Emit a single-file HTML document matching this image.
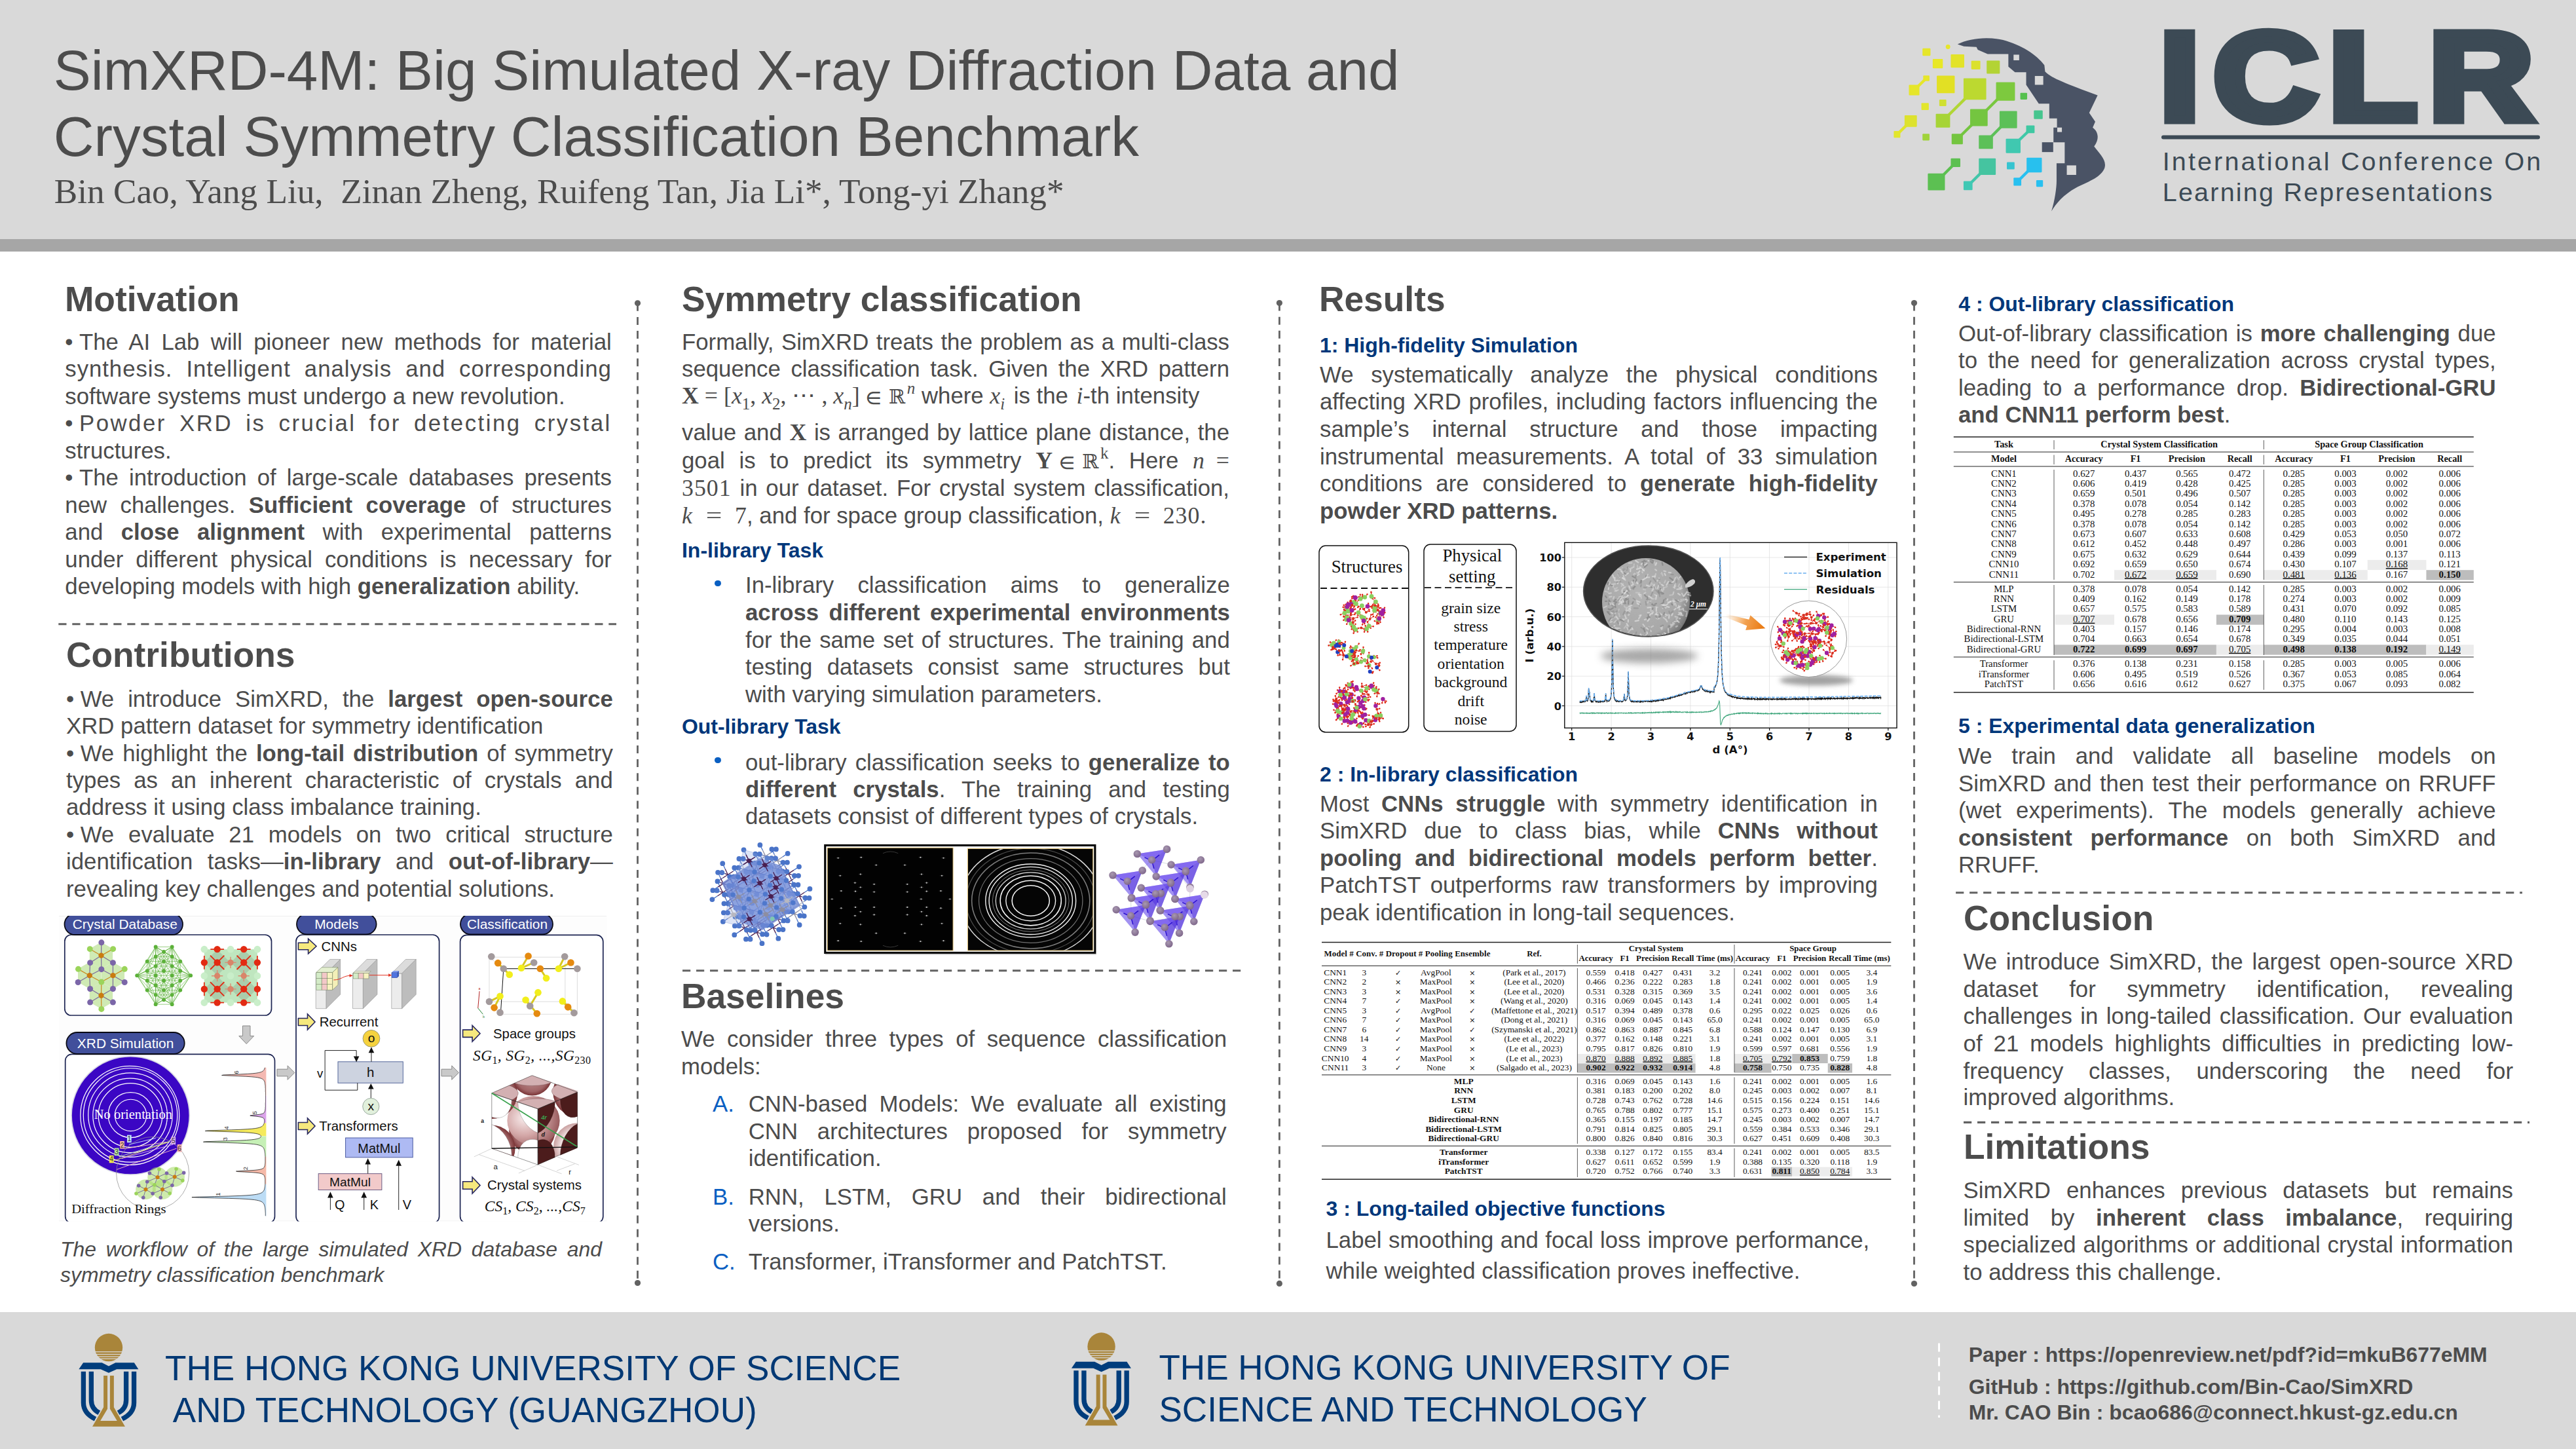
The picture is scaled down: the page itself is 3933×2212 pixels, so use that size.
<!DOCTYPE html><html><head><meta charset="utf-8"><title>SimXRD-4M poster</title><style>

html,body{margin:0;padding:0}
body{width:3933px;height:2212px;position:relative;overflow:hidden;background:#fff;font-family:"Liberation Sans",sans-serif}
.bg{position:absolute;left:0;width:3933px}
.t{position:absolute;white-space:nowrap;font-family:"Liberation Sans",sans-serif}
.j{white-space:normal;text-align:justify;text-align-last:justify}
.s{font-family:"Liberation Serif",serif}
.bu{display:inline-block;width:21.7px;letter-spacing:0}
.dot{position:absolute;width:9.6px;height:9.6px;border-radius:50%;background:#0a5fc2}
.m{font-family:"Liberation Serif","DejaVu Serif",serif;font-size:35.8px}
.ib{display:inline-block;white-space:nowrap}
.dj{font-family:"DejaVu Math TeX Gyre","DejaVu Sans",sans-serif;font-size:30.5px}
.msub{font-family:"Liberation Serif",serif;font-size:25px;position:relative;top:9px}
.msup{font-family:"Liberation Serif",serif;font-size:25px;position:relative;top:-15px;font-style:italic}
svg{position:absolute;left:0;top:0}
svg text{white-space:pre}
.sym{font-family:"DejaVu Sans",sans-serif;font-size:11px}

</style></head><body>
<div class="bg" style="top:0;height:365px;background:#d9d9d9"></div>
<div class="bg" style="top:365px;height:19px;background:#a6a6a6"></div>
<div class="bg" style="top:2003px;height:209px;background:#d9d9d9"></div>
<svg width="3933" height="2212" viewBox="0 0 3933 2212">
<line x1="973.5" y1="462.8" x2="973.5" y2="1958.5" stroke="#626262" stroke-width="2.8" stroke-dasharray="12 9.1"/>
<circle cx="973.5" cy="462.8" r="4.6" fill="#626262"/><circle cx="973.5" cy="1958.5" r="4.6" fill="#626262"/>
<line x1="1953.4" y1="462.6" x2="1953.4" y2="1959.4" stroke="#626262" stroke-width="2.8" stroke-dasharray="12 9.1"/>
<circle cx="1953.4" cy="462.6" r="4.6" fill="#626262"/><circle cx="1953.4" cy="1959.4" r="4.6" fill="#626262"/>
<line x1="2922.5" y1="462.6" x2="2922.5" y2="1959.5" stroke="#626262" stroke-width="2.8" stroke-dasharray="12 9.1"/>
<circle cx="2922.5" cy="462.6" r="4.6" fill="#626262"/><circle cx="2922.5" cy="1959.5" r="4.6" fill="#626262"/>
<line x1="89.3" y1="952.7" x2="941.0" y2="952.7" stroke="#626262" stroke-width="3.1" stroke-dasharray="12.2 8.8"/>
<line x1="1042.0" y1="1481.8" x2="1898.0" y2="1481.8" stroke="#626262" stroke-width="3.1" stroke-dasharray="12.2 8.8"/>
<line x1="2986.1" y1="1362.7" x2="3851.0" y2="1362.7" stroke="#626262" stroke-width="3.1" stroke-dasharray="12.2 8.8"/>
<line x1="2998.0" y1="1713.4" x2="3862.0" y2="1713.4" stroke="#626262" stroke-width="3.1" stroke-dasharray="12.2 8.8"/>
<line x1="2960.5" y1="2050.6" x2="2960.5" y2="2164" stroke="#fff" stroke-width="3" stroke-dasharray="13 9"/>
<g font-family="Liberation Serif, serif" font-size="13.4" fill="#111">
<rect x="2408.4" y="1608.9" width="180.2" height="14.2" fill="#ececec"/>
<rect x="2648.0" y="1608.9" width="88.3" height="14.2" fill="#ececec"/>
<rect x="2736.3" y="1608.9" width="54.4" height="14.2" fill="#bdbdbd"/>
<rect x="2408.4" y="1623.4" width="180.2" height="14.2" fill="#bdbdbd"/>
<rect x="2648.0" y="1623.4" width="56.5" height="14.2" fill="#bdbdbd"/>
<rect x="2790.7" y="1623.4" width="37.3" height="14.2" fill="#bdbdbd"/>
<rect x="2704.5" y="1781.6" width="31.8" height="14.2" fill="#bdbdbd"/>
<rect x="2736.3" y="1781.6" width="91.7" height="14.2" fill="#ececec"/>
<line x1="2018.0" y1="1438.5" x2="2887.3" y2="1438.5" stroke="#222" stroke-width="1.6"/>
<line x1="2018.0" y1="1474.4" x2="2887.3" y2="1474.4" stroke="#222" stroke-width="1.0"/>
<line x1="2018.0" y1="1640.9" x2="2887.3" y2="1640.9" stroke="#222" stroke-width="1.0"/>
<line x1="2018.0" y1="1749.4" x2="2887.3" y2="1749.4" stroke="#222" stroke-width="1.0"/>
<line x1="2018.0" y1="1800.2" x2="2887.3" y2="1800.2" stroke="#222" stroke-width="1.6"/>
<line x1="2408.4" y1="1442.0" x2="2408.4" y2="1471.0" stroke="#333" stroke-width="0.8"/>
<line x1="2648.0" y1="1442.0" x2="2648.0" y2="1471.0" stroke="#333" stroke-width="0.8"/>
<line x1="2408.4" y1="1478.0" x2="2408.4" y2="1637.0" stroke="#333" stroke-width="0.8"/>
<line x1="2648.0" y1="1478.0" x2="2648.0" y2="1637.0" stroke="#333" stroke-width="0.8"/>
<line x1="2408.4" y1="1644.5" x2="2408.4" y2="1746.0" stroke="#333" stroke-width="0.8"/>
<line x1="2648.0" y1="1644.5" x2="2648.0" y2="1746.0" stroke="#333" stroke-width="0.8"/>
<line x1="2408.4" y1="1753.0" x2="2408.4" y2="1797.0" stroke="#333" stroke-width="0.8"/>
<line x1="2648.0" y1="1753.0" x2="2648.0" y2="1797.0" stroke="#333" stroke-width="0.8"/>
<g font-weight="bold" font-size="12.9">
<text x="2021.5" y="1460.0" textLength="254" lengthAdjust="spacing" xml:space="preserve">Model # Conv. # Dropout # Pooling Ensemble</text>
<text x="2342.4" y="1460.0" text-anchor="middle">Ref.</text>
<text x="2528.4" y="1451.8" text-anchor="middle">Crystal System</text>
<text x="2768.0" y="1451.8" text-anchor="middle">Space Group</text>
<text x="2436.6" y="1467.0" text-anchor="middle">Accuracy</text>
<text x="2480.6" y="1467.0" text-anchor="middle">F1</text>
<text x="2523.4" y="1467.0" text-anchor="middle">Precision</text>
<text x="2569.2" y="1467.0" text-anchor="middle">Recall</text>
<text x="2618.1" y="1467.0" text-anchor="middle">Time (ms)</text>
<text x="2676.0" y="1467.0" text-anchor="middle">Accuracy</text>
<text x="2720.3" y="1467.0" text-anchor="middle">F1</text>
<text x="2763.0" y="1467.0" text-anchor="middle">Precision</text>
<text x="2809.2" y="1467.0" text-anchor="middle">Recall</text>
<text x="2857.8" y="1467.0" text-anchor="middle">Time (ms)</text>
</g>
<text x="2038.7" y="1488.5" text-anchor="middle">CNN1</text>
<text x="2082.8" y="1488.5" text-anchor="middle">3</text>
<text x="2134.5" y="1488.5" text-anchor="middle" class="sym">✓</text>
<text x="2192.4" y="1488.5" text-anchor="middle">AvgPool</text>
<text x="2247.9" y="1488.5" text-anchor="middle" class="sym">×</text>
<text x="2342.4" y="1488.5" text-anchor="middle">(Park et al., 2017)</text>
<text x="2436.6" y="1488.5" text-anchor="middle">0.559</text>
<text x="2480.6" y="1488.5" text-anchor="middle">0.418</text>
<text x="2523.4" y="1488.5" text-anchor="middle">0.427</text>
<text x="2569.2" y="1488.5" text-anchor="middle">0.431</text>
<text x="2618.1" y="1488.5" text-anchor="middle">3.2</text>
<text x="2676.0" y="1488.5" text-anchor="middle">0.241</text>
<text x="2720.3" y="1488.5" text-anchor="middle">0.002</text>
<text x="2763.0" y="1488.5" text-anchor="middle">0.001</text>
<text x="2809.2" y="1488.5" text-anchor="middle">0.005</text>
<text x="2857.8" y="1488.5" text-anchor="middle">3.4</text>
<text x="2038.7" y="1503.0" text-anchor="middle">CNN2</text>
<text x="2082.8" y="1503.0" text-anchor="middle">2</text>
<text x="2134.5" y="1503.0" text-anchor="middle" class="sym">×</text>
<text x="2192.4" y="1503.0" text-anchor="middle">MaxPool</text>
<text x="2247.9" y="1503.0" text-anchor="middle" class="sym">×</text>
<text x="2342.4" y="1503.0" text-anchor="middle">(Lee et al., 2020)</text>
<text x="2436.6" y="1503.0" text-anchor="middle">0.466</text>
<text x="2480.6" y="1503.0" text-anchor="middle">0.236</text>
<text x="2523.4" y="1503.0" text-anchor="middle">0.222</text>
<text x="2569.2" y="1503.0" text-anchor="middle">0.283</text>
<text x="2618.1" y="1503.0" text-anchor="middle">1.8</text>
<text x="2676.0" y="1503.0" text-anchor="middle">0.241</text>
<text x="2720.3" y="1503.0" text-anchor="middle">0.002</text>
<text x="2763.0" y="1503.0" text-anchor="middle">0.001</text>
<text x="2809.2" y="1503.0" text-anchor="middle">0.005</text>
<text x="2857.8" y="1503.0" text-anchor="middle">1.9</text>
<text x="2038.7" y="1517.6" text-anchor="middle">CNN3</text>
<text x="2082.8" y="1517.6" text-anchor="middle">3</text>
<text x="2134.5" y="1517.6" text-anchor="middle" class="sym">×</text>
<text x="2192.4" y="1517.6" text-anchor="middle">MaxPool</text>
<text x="2247.9" y="1517.6" text-anchor="middle" class="sym">×</text>
<text x="2342.4" y="1517.6" text-anchor="middle">(Lee et al., 2020)</text>
<text x="2436.6" y="1517.6" text-anchor="middle">0.531</text>
<text x="2480.6" y="1517.6" text-anchor="middle">0.328</text>
<text x="2523.4" y="1517.6" text-anchor="middle">0.315</text>
<text x="2569.2" y="1517.6" text-anchor="middle">0.369</text>
<text x="2618.1" y="1517.6" text-anchor="middle">3.5</text>
<text x="2676.0" y="1517.6" text-anchor="middle">0.241</text>
<text x="2720.3" y="1517.6" text-anchor="middle">0.002</text>
<text x="2763.0" y="1517.6" text-anchor="middle">0.001</text>
<text x="2809.2" y="1517.6" text-anchor="middle">0.005</text>
<text x="2857.8" y="1517.6" text-anchor="middle">3.6</text>
<text x="2038.7" y="1532.2" text-anchor="middle">CNN4</text>
<text x="2082.8" y="1532.2" text-anchor="middle">7</text>
<text x="2134.5" y="1532.2" text-anchor="middle" class="sym">✓</text>
<text x="2192.4" y="1532.2" text-anchor="middle">MaxPool</text>
<text x="2247.9" y="1532.2" text-anchor="middle" class="sym">×</text>
<text x="2342.4" y="1532.2" text-anchor="middle">(Wang et al., 2020)</text>
<text x="2436.6" y="1532.2" text-anchor="middle">0.316</text>
<text x="2480.6" y="1532.2" text-anchor="middle">0.069</text>
<text x="2523.4" y="1532.2" text-anchor="middle">0.045</text>
<text x="2569.2" y="1532.2" text-anchor="middle">0.143</text>
<text x="2618.1" y="1532.2" text-anchor="middle">1.4</text>
<text x="2676.0" y="1532.2" text-anchor="middle">0.241</text>
<text x="2720.3" y="1532.2" text-anchor="middle">0.002</text>
<text x="2763.0" y="1532.2" text-anchor="middle">0.001</text>
<text x="2809.2" y="1532.2" text-anchor="middle">0.005</text>
<text x="2857.8" y="1532.2" text-anchor="middle">1.4</text>
<text x="2038.7" y="1546.7" text-anchor="middle">CNN5</text>
<text x="2082.8" y="1546.7" text-anchor="middle">3</text>
<text x="2134.5" y="1546.7" text-anchor="middle" class="sym">✓</text>
<text x="2192.4" y="1546.7" text-anchor="middle">AvgPool</text>
<text x="2247.9" y="1546.7" text-anchor="middle" class="sym">✓</text>
<text x="2342.4" y="1546.7" text-anchor="middle">(Maffettone et al., 2021)</text>
<text x="2436.6" y="1546.7" text-anchor="middle">0.517</text>
<text x="2480.6" y="1546.7" text-anchor="middle">0.394</text>
<text x="2523.4" y="1546.7" text-anchor="middle">0.489</text>
<text x="2569.2" y="1546.7" text-anchor="middle">0.378</text>
<text x="2618.1" y="1546.7" text-anchor="middle">0.6</text>
<text x="2676.0" y="1546.7" text-anchor="middle">0.295</text>
<text x="2720.3" y="1546.7" text-anchor="middle">0.022</text>
<text x="2763.0" y="1546.7" text-anchor="middle">0.025</text>
<text x="2809.2" y="1546.7" text-anchor="middle">0.026</text>
<text x="2857.8" y="1546.7" text-anchor="middle">0.6</text>
<text x="2038.7" y="1561.2" text-anchor="middle">CNN6</text>
<text x="2082.8" y="1561.2" text-anchor="middle">7</text>
<text x="2134.5" y="1561.2" text-anchor="middle" class="sym">✓</text>
<text x="2192.4" y="1561.2" text-anchor="middle">MaxPool</text>
<text x="2247.9" y="1561.2" text-anchor="middle" class="sym">×</text>
<text x="2342.4" y="1561.2" text-anchor="middle">(Dong et al., 2021)</text>
<text x="2436.6" y="1561.2" text-anchor="middle">0.316</text>
<text x="2480.6" y="1561.2" text-anchor="middle">0.069</text>
<text x="2523.4" y="1561.2" text-anchor="middle">0.045</text>
<text x="2569.2" y="1561.2" text-anchor="middle">0.143</text>
<text x="2618.1" y="1561.2" text-anchor="middle">65.0</text>
<text x="2676.0" y="1561.2" text-anchor="middle">0.241</text>
<text x="2720.3" y="1561.2" text-anchor="middle">0.002</text>
<text x="2763.0" y="1561.2" text-anchor="middle">0.001</text>
<text x="2809.2" y="1561.2" text-anchor="middle">0.005</text>
<text x="2857.8" y="1561.2" text-anchor="middle">65.0</text>
<text x="2038.7" y="1575.8" text-anchor="middle">CNN7</text>
<text x="2082.8" y="1575.8" text-anchor="middle">6</text>
<text x="2134.5" y="1575.8" text-anchor="middle" class="sym">✓</text>
<text x="2192.4" y="1575.8" text-anchor="middle">MaxPool</text>
<text x="2247.9" y="1575.8" text-anchor="middle" class="sym">✓</text>
<text x="2342.4" y="1575.8" text-anchor="middle">(Szymanski et al., 2021)</text>
<text x="2436.6" y="1575.8" text-anchor="middle">0.862</text>
<text x="2480.6" y="1575.8" text-anchor="middle">0.863</text>
<text x="2523.4" y="1575.8" text-anchor="middle">0.887</text>
<text x="2569.2" y="1575.8" text-anchor="middle">0.845</text>
<text x="2618.1" y="1575.8" text-anchor="middle">6.8</text>
<text x="2676.0" y="1575.8" text-anchor="middle">0.588</text>
<text x="2720.3" y="1575.8" text-anchor="middle">0.124</text>
<text x="2763.0" y="1575.8" text-anchor="middle">0.147</text>
<text x="2809.2" y="1575.8" text-anchor="middle">0.130</text>
<text x="2857.8" y="1575.8" text-anchor="middle">6.9</text>
<text x="2038.7" y="1590.3" text-anchor="middle">CNN8</text>
<text x="2082.8" y="1590.3" text-anchor="middle">14</text>
<text x="2134.5" y="1590.3" text-anchor="middle" class="sym">✓</text>
<text x="2192.4" y="1590.3" text-anchor="middle">MaxPool</text>
<text x="2247.9" y="1590.3" text-anchor="middle" class="sym">×</text>
<text x="2342.4" y="1590.3" text-anchor="middle">(Lee et al., 2022)</text>
<text x="2436.6" y="1590.3" text-anchor="middle">0.377</text>
<text x="2480.6" y="1590.3" text-anchor="middle">0.162</text>
<text x="2523.4" y="1590.3" text-anchor="middle">0.148</text>
<text x="2569.2" y="1590.3" text-anchor="middle">0.221</text>
<text x="2618.1" y="1590.3" text-anchor="middle">3.1</text>
<text x="2676.0" y="1590.3" text-anchor="middle">0.241</text>
<text x="2720.3" y="1590.3" text-anchor="middle">0.002</text>
<text x="2763.0" y="1590.3" text-anchor="middle">0.001</text>
<text x="2809.2" y="1590.3" text-anchor="middle">0.005</text>
<text x="2857.8" y="1590.3" text-anchor="middle">3.1</text>
<text x="2038.7" y="1604.9" text-anchor="middle">CNN9</text>
<text x="2082.8" y="1604.9" text-anchor="middle">3</text>
<text x="2134.5" y="1604.9" text-anchor="middle" class="sym">✓</text>
<text x="2192.4" y="1604.9" text-anchor="middle">MaxPool</text>
<text x="2247.9" y="1604.9" text-anchor="middle" class="sym">×</text>
<text x="2342.4" y="1604.9" text-anchor="middle">(Le et al., 2023)</text>
<text x="2436.6" y="1604.9" text-anchor="middle">0.795</text>
<text x="2480.6" y="1604.9" text-anchor="middle">0.817</text>
<text x="2523.4" y="1604.9" text-anchor="middle">0.826</text>
<text x="2569.2" y="1604.9" text-anchor="middle">0.810</text>
<text x="2618.1" y="1604.9" text-anchor="middle">1.9</text>
<text x="2676.0" y="1604.9" text-anchor="middle">0.599</text>
<text x="2720.3" y="1604.9" text-anchor="middle">0.597</text>
<text x="2763.0" y="1604.9" text-anchor="middle">0.681</text>
<text x="2809.2" y="1604.9" text-anchor="middle">0.556</text>
<text x="2857.8" y="1604.9" text-anchor="middle">1.9</text>
<text x="2038.7" y="1619.5" text-anchor="middle">CNN10</text>
<text x="2082.8" y="1619.5" text-anchor="middle">4</text>
<text x="2134.5" y="1619.5" text-anchor="middle" class="sym">✓</text>
<text x="2192.4" y="1619.5" text-anchor="middle">MaxPool</text>
<text x="2247.9" y="1619.5" text-anchor="middle" class="sym">×</text>
<text x="2342.4" y="1619.5" text-anchor="middle">(Le et al., 2023)</text>
<text x="2436.6" y="1619.5" text-anchor="middle" text-decoration="underline">0.870</text>
<text x="2480.6" y="1619.5" text-anchor="middle" text-decoration="underline">0.888</text>
<text x="2523.4" y="1619.5" text-anchor="middle" text-decoration="underline">0.892</text>
<text x="2569.2" y="1619.5" text-anchor="middle" text-decoration="underline">0.885</text>
<text x="2618.1" y="1619.5" text-anchor="middle">1.8</text>
<text x="2676.0" y="1619.5" text-anchor="middle" text-decoration="underline">0.705</text>
<text x="2720.3" y="1619.5" text-anchor="middle" text-decoration="underline">0.792</text>
<text x="2763.0" y="1619.5" text-anchor="middle" font-weight="bold">0.853</text>
<text x="2809.2" y="1619.5" text-anchor="middle">0.759</text>
<text x="2857.8" y="1619.5" text-anchor="middle">1.8</text>
<text x="2038.7" y="1634.0" text-anchor="middle">CNN11</text>
<text x="2082.8" y="1634.0" text-anchor="middle">3</text>
<text x="2134.5" y="1634.0" text-anchor="middle" class="sym">✓</text>
<text x="2192.4" y="1634.0" text-anchor="middle">None</text>
<text x="2247.9" y="1634.0" text-anchor="middle" class="sym">×</text>
<text x="2342.4" y="1634.0" text-anchor="middle">(Salgado et al., 2023)</text>
<text x="2436.6" y="1634.0" text-anchor="middle" font-weight="bold">0.902</text>
<text x="2480.6" y="1634.0" text-anchor="middle" font-weight="bold">0.922</text>
<text x="2523.4" y="1634.0" text-anchor="middle" font-weight="bold">0.932</text>
<text x="2569.2" y="1634.0" text-anchor="middle" font-weight="bold">0.914</text>
<text x="2618.1" y="1634.0" text-anchor="middle">4.8</text>
<text x="2676.0" y="1634.0" text-anchor="middle" font-weight="bold">0.758</text>
<text x="2720.3" y="1634.0" text-anchor="middle">0.750</text>
<text x="2763.0" y="1634.0" text-anchor="middle">0.735</text>
<text x="2809.2" y="1634.0" text-anchor="middle" font-weight="bold">0.828</text>
<text x="2857.8" y="1634.0" text-anchor="middle">4.8</text>
<text x="2234.7" y="1654.7" text-anchor="middle" font-weight="bold">MLP</text>
<text x="2436.6" y="1654.7" text-anchor="middle">0.316</text>
<text x="2480.6" y="1654.7" text-anchor="middle">0.069</text>
<text x="2523.4" y="1654.7" text-anchor="middle">0.045</text>
<text x="2569.2" y="1654.7" text-anchor="middle">0.143</text>
<text x="2618.1" y="1654.7" text-anchor="middle">1.6</text>
<text x="2676.0" y="1654.7" text-anchor="middle">0.241</text>
<text x="2720.3" y="1654.7" text-anchor="middle">0.002</text>
<text x="2763.0" y="1654.7" text-anchor="middle">0.001</text>
<text x="2809.2" y="1654.7" text-anchor="middle">0.005</text>
<text x="2857.8" y="1654.7" text-anchor="middle">1.6</text>
<text x="2234.7" y="1669.3" text-anchor="middle" font-weight="bold">RNN</text>
<text x="2436.6" y="1669.3" text-anchor="middle">0.381</text>
<text x="2480.6" y="1669.3" text-anchor="middle">0.183</text>
<text x="2523.4" y="1669.3" text-anchor="middle">0.200</text>
<text x="2569.2" y="1669.3" text-anchor="middle">0.202</text>
<text x="2618.1" y="1669.3" text-anchor="middle">8.0</text>
<text x="2676.0" y="1669.3" text-anchor="middle">0.245</text>
<text x="2720.3" y="1669.3" text-anchor="middle">0.003</text>
<text x="2763.0" y="1669.3" text-anchor="middle">0.002</text>
<text x="2809.2" y="1669.3" text-anchor="middle">0.007</text>
<text x="2857.8" y="1669.3" text-anchor="middle">8.1</text>
<text x="2234.7" y="1683.9" text-anchor="middle" font-weight="bold">LSTM</text>
<text x="2436.6" y="1683.9" text-anchor="middle">0.728</text>
<text x="2480.6" y="1683.9" text-anchor="middle">0.743</text>
<text x="2523.4" y="1683.9" text-anchor="middle">0.762</text>
<text x="2569.2" y="1683.9" text-anchor="middle">0.728</text>
<text x="2618.1" y="1683.9" text-anchor="middle">14.6</text>
<text x="2676.0" y="1683.9" text-anchor="middle">0.515</text>
<text x="2720.3" y="1683.9" text-anchor="middle">0.156</text>
<text x="2763.0" y="1683.9" text-anchor="middle">0.224</text>
<text x="2809.2" y="1683.9" text-anchor="middle">0.151</text>
<text x="2857.8" y="1683.9" text-anchor="middle">14.6</text>
<text x="2234.7" y="1698.5" text-anchor="middle" font-weight="bold">GRU</text>
<text x="2436.6" y="1698.5" text-anchor="middle">0.765</text>
<text x="2480.6" y="1698.5" text-anchor="middle">0.788</text>
<text x="2523.4" y="1698.5" text-anchor="middle">0.802</text>
<text x="2569.2" y="1698.5" text-anchor="middle">0.777</text>
<text x="2618.1" y="1698.5" text-anchor="middle">15.1</text>
<text x="2676.0" y="1698.5" text-anchor="middle">0.575</text>
<text x="2720.3" y="1698.5" text-anchor="middle">0.273</text>
<text x="2763.0" y="1698.5" text-anchor="middle">0.400</text>
<text x="2809.2" y="1698.5" text-anchor="middle">0.251</text>
<text x="2857.8" y="1698.5" text-anchor="middle">15.1</text>
<text x="2234.7" y="1713.0" text-anchor="middle" font-weight="bold">Bidirectional-RNN</text>
<text x="2436.6" y="1713.0" text-anchor="middle">0.365</text>
<text x="2480.6" y="1713.0" text-anchor="middle">0.155</text>
<text x="2523.4" y="1713.0" text-anchor="middle">0.197</text>
<text x="2569.2" y="1713.0" text-anchor="middle">0.185</text>
<text x="2618.1" y="1713.0" text-anchor="middle">14.7</text>
<text x="2676.0" y="1713.0" text-anchor="middle">0.245</text>
<text x="2720.3" y="1713.0" text-anchor="middle">0.003</text>
<text x="2763.0" y="1713.0" text-anchor="middle">0.002</text>
<text x="2809.2" y="1713.0" text-anchor="middle">0.007</text>
<text x="2857.8" y="1713.0" text-anchor="middle">14.7</text>
<text x="2234.7" y="1727.6" text-anchor="middle" font-weight="bold">Bidirectional-LSTM</text>
<text x="2436.6" y="1727.6" text-anchor="middle">0.791</text>
<text x="2480.6" y="1727.6" text-anchor="middle">0.814</text>
<text x="2523.4" y="1727.6" text-anchor="middle">0.825</text>
<text x="2569.2" y="1727.6" text-anchor="middle">0.805</text>
<text x="2618.1" y="1727.6" text-anchor="middle">29.1</text>
<text x="2676.0" y="1727.6" text-anchor="middle">0.559</text>
<text x="2720.3" y="1727.6" text-anchor="middle">0.384</text>
<text x="2763.0" y="1727.6" text-anchor="middle">0.533</text>
<text x="2809.2" y="1727.6" text-anchor="middle">0.346</text>
<text x="2857.8" y="1727.6" text-anchor="middle">29.1</text>
<text x="2234.7" y="1742.2" text-anchor="middle" font-weight="bold">Bidirectional-GRU</text>
<text x="2436.6" y="1742.2" text-anchor="middle">0.800</text>
<text x="2480.6" y="1742.2" text-anchor="middle">0.826</text>
<text x="2523.4" y="1742.2" text-anchor="middle">0.840</text>
<text x="2569.2" y="1742.2" text-anchor="middle">0.816</text>
<text x="2618.1" y="1742.2" text-anchor="middle">30.3</text>
<text x="2676.0" y="1742.2" text-anchor="middle">0.627</text>
<text x="2720.3" y="1742.2" text-anchor="middle">0.451</text>
<text x="2763.0" y="1742.2" text-anchor="middle">0.609</text>
<text x="2809.2" y="1742.2" text-anchor="middle">0.408</text>
<text x="2857.8" y="1742.2" text-anchor="middle">30.3</text>
<text x="2234.7" y="1763.2" text-anchor="middle" font-weight="bold">Transformer</text>
<text x="2436.6" y="1763.2" text-anchor="middle">0.338</text>
<text x="2480.6" y="1763.2" text-anchor="middle">0.127</text>
<text x="2523.4" y="1763.2" text-anchor="middle">0.172</text>
<text x="2569.2" y="1763.2" text-anchor="middle">0.155</text>
<text x="2618.1" y="1763.2" text-anchor="middle">83.4</text>
<text x="2676.0" y="1763.2" text-anchor="middle">0.241</text>
<text x="2720.3" y="1763.2" text-anchor="middle">0.002</text>
<text x="2763.0" y="1763.2" text-anchor="middle">0.001</text>
<text x="2809.2" y="1763.2" text-anchor="middle">0.005</text>
<text x="2857.8" y="1763.2" text-anchor="middle">83.5</text>
<text x="2234.7" y="1778.1" text-anchor="middle" font-weight="bold">iTransformer</text>
<text x="2436.6" y="1778.1" text-anchor="middle">0.627</text>
<text x="2480.6" y="1778.1" text-anchor="middle">0.611</text>
<text x="2523.4" y="1778.1" text-anchor="middle">0.652</text>
<text x="2569.2" y="1778.1" text-anchor="middle">0.599</text>
<text x="2618.1" y="1778.1" text-anchor="middle">1.9</text>
<text x="2676.0" y="1778.1" text-anchor="middle">0.388</text>
<text x="2720.3" y="1778.1" text-anchor="middle">0.135</text>
<text x="2763.0" y="1778.1" text-anchor="middle">0.320</text>
<text x="2809.2" y="1778.1" text-anchor="middle">0.118</text>
<text x="2857.8" y="1778.1" text-anchor="middle">1.9</text>
<text x="2234.7" y="1792.2" text-anchor="middle" font-weight="bold">PatchTST</text>
<text x="2436.6" y="1792.2" text-anchor="middle">0.720</text>
<text x="2480.6" y="1792.2" text-anchor="middle">0.752</text>
<text x="2523.4" y="1792.2" text-anchor="middle">0.766</text>
<text x="2569.2" y="1792.2" text-anchor="middle">0.740</text>
<text x="2618.1" y="1792.2" text-anchor="middle">3.3</text>
<text x="2676.0" y="1792.2" text-anchor="middle">0.631</text>
<text x="2720.3" y="1792.2" text-anchor="middle" font-weight="bold">0.811</text>
<text x="2763.0" y="1792.2" text-anchor="middle" text-decoration="underline">0.850</text>
<text x="2809.2" y="1792.2" text-anchor="middle" text-decoration="underline">0.784</text>
<text x="2857.8" y="1792.2" text-anchor="middle">3.3</text>
</g>
<g font-family="Liberation Serif, serif" font-size="14.8" fill="#111">
<rect x="3614.7" y="854.8" width="89.7" height="15.3" fill="#ececec"/>
<rect x="3228.0" y="870.2" width="155.9" height="15.3" fill="#ececec"/>
<rect x="3456.3" y="870.2" width="158.4" height="15.3" fill="#ececec"/>
<rect x="3704.4" y="870.2" width="72.4" height="15.3" fill="#bdbdbd"/>
<rect x="3137.7" y="938.4" width="90.3" height="15.3" fill="#ececec"/>
<rect x="3383.9" y="938.4" width="72.4" height="15.3" fill="#bdbdbd"/>
<rect x="3136.0" y="984.3" width="247.9" height="15.3" fill="#bdbdbd"/>
<rect x="3383.9" y="984.3" width="72.4" height="15.3" fill="#ececec"/>
<rect x="3456.3" y="984.3" width="248.1" height="15.3" fill="#bdbdbd"/>
<rect x="3704.4" y="984.3" width="72.4" height="15.3" fill="#ececec"/>
<line x1="2982.8" y1="667.0" x2="3776.8" y2="667.0" stroke="#222" stroke-width="1.6"/>
<line x1="2982.8" y1="690.0" x2="3776.8" y2="690.0" stroke="#222" stroke-width="1.0"/>
<line x1="2982.8" y1="712.0" x2="3776.8" y2="712.0" stroke="#222" stroke-width="1.0"/>
<line x1="2982.8" y1="888.7" x2="3776.8" y2="888.7" stroke="#222" stroke-width="1.0"/>
<line x1="2982.8" y1="1003.0" x2="3776.8" y2="1003.0" stroke="#222" stroke-width="1.0"/>
<line x1="2982.8" y1="1057.0" x2="3776.8" y2="1057.0" stroke="#222" stroke-width="1.6"/>
<line x1="3136.0" y1="672.0" x2="3136.0" y2="686.0" stroke="#333" stroke-width="0.8"/>
<line x1="3456.3" y1="672.0" x2="3456.3" y2="686.0" stroke="#333" stroke-width="0.8"/>
<line x1="3136.0" y1="694.5" x2="3136.0" y2="709.0" stroke="#333" stroke-width="0.8"/>
<line x1="3456.3" y1="694.5" x2="3456.3" y2="709.0" stroke="#333" stroke-width="0.8"/>
<line x1="3136.0" y1="717.0" x2="3136.0" y2="885.0" stroke="#333" stroke-width="0.8"/>
<line x1="3456.3" y1="717.0" x2="3456.3" y2="885.0" stroke="#333" stroke-width="0.8"/>
<line x1="3136.0" y1="893.0" x2="3136.0" y2="1000.0" stroke="#333" stroke-width="0.8"/>
<line x1="3456.3" y1="893.0" x2="3456.3" y2="1000.0" stroke="#333" stroke-width="0.8"/>
<line x1="3136.0" y1="1008.0" x2="3136.0" y2="1053.0" stroke="#333" stroke-width="0.8"/>
<line x1="3456.3" y1="1008.0" x2="3456.3" y2="1053.0" stroke="#333" stroke-width="0.8"/>
<g font-weight="bold" font-size="14.3">
<text x="3059.4" y="682.6" text-anchor="middle">Task</text>
<text x="3296.7" y="682.6" text-anchor="middle">Crystal System Classification</text>
<text x="3617.1" y="682.6" text-anchor="middle">Space Group Classification</text>
<text x="3059.4" y="704.8" text-anchor="middle">Model</text>
<text x="3181.7" y="704.8" text-anchor="middle">Accuracy</text>
<text x="3260.6" y="704.8" text-anchor="middle">F1</text>
<text x="3338.9" y="704.8" text-anchor="middle">Precision</text>
<text x="3419.7" y="704.8" text-anchor="middle">Recall</text>
<text x="3502.2" y="704.8" text-anchor="middle">Accuracy</text>
<text x="3581.0" y="704.8" text-anchor="middle">F1</text>
<text x="3659.4" y="704.8" text-anchor="middle">Precision</text>
<text x="3740.2" y="704.8" text-anchor="middle">Recall</text>
</g>
<text x="3059.4" y="727.6" text-anchor="middle">CNN1</text>
<text x="3181.7" y="727.6" text-anchor="middle">0.627</text>
<text x="3260.6" y="727.6" text-anchor="middle">0.437</text>
<text x="3338.9" y="727.6" text-anchor="middle">0.565</text>
<text x="3419.7" y="727.6" text-anchor="middle">0.472</text>
<text x="3502.2" y="727.6" text-anchor="middle">0.285</text>
<text x="3581.0" y="727.6" text-anchor="middle">0.003</text>
<text x="3659.4" y="727.6" text-anchor="middle">0.002</text>
<text x="3740.2" y="727.6" text-anchor="middle">0.006</text>
<text x="3059.4" y="743.0" text-anchor="middle">CNN2</text>
<text x="3181.7" y="743.0" text-anchor="middle">0.606</text>
<text x="3260.6" y="743.0" text-anchor="middle">0.419</text>
<text x="3338.9" y="743.0" text-anchor="middle">0.428</text>
<text x="3419.7" y="743.0" text-anchor="middle">0.425</text>
<text x="3502.2" y="743.0" text-anchor="middle">0.285</text>
<text x="3581.0" y="743.0" text-anchor="middle">0.003</text>
<text x="3659.4" y="743.0" text-anchor="middle">0.002</text>
<text x="3740.2" y="743.0" text-anchor="middle">0.006</text>
<text x="3059.4" y="758.4" text-anchor="middle">CNN3</text>
<text x="3181.7" y="758.4" text-anchor="middle">0.659</text>
<text x="3260.6" y="758.4" text-anchor="middle">0.501</text>
<text x="3338.9" y="758.4" text-anchor="middle">0.496</text>
<text x="3419.7" y="758.4" text-anchor="middle">0.507</text>
<text x="3502.2" y="758.4" text-anchor="middle">0.285</text>
<text x="3581.0" y="758.4" text-anchor="middle">0.003</text>
<text x="3659.4" y="758.4" text-anchor="middle">0.002</text>
<text x="3740.2" y="758.4" text-anchor="middle">0.006</text>
<text x="3059.4" y="773.8" text-anchor="middle">CNN4</text>
<text x="3181.7" y="773.8" text-anchor="middle">0.378</text>
<text x="3260.6" y="773.8" text-anchor="middle">0.078</text>
<text x="3338.9" y="773.8" text-anchor="middle">0.054</text>
<text x="3419.7" y="773.8" text-anchor="middle">0.142</text>
<text x="3502.2" y="773.8" text-anchor="middle">0.285</text>
<text x="3581.0" y="773.8" text-anchor="middle">0.003</text>
<text x="3659.4" y="773.8" text-anchor="middle">0.002</text>
<text x="3740.2" y="773.8" text-anchor="middle">0.006</text>
<text x="3059.4" y="789.2" text-anchor="middle">CNN5</text>
<text x="3181.7" y="789.2" text-anchor="middle">0.495</text>
<text x="3260.6" y="789.2" text-anchor="middle">0.278</text>
<text x="3338.9" y="789.2" text-anchor="middle">0.285</text>
<text x="3419.7" y="789.2" text-anchor="middle">0.283</text>
<text x="3502.2" y="789.2" text-anchor="middle">0.285</text>
<text x="3581.0" y="789.2" text-anchor="middle">0.003</text>
<text x="3659.4" y="789.2" text-anchor="middle">0.002</text>
<text x="3740.2" y="789.2" text-anchor="middle">0.006</text>
<text x="3059.4" y="804.6" text-anchor="middle">CNN6</text>
<text x="3181.7" y="804.6" text-anchor="middle">0.378</text>
<text x="3260.6" y="804.6" text-anchor="middle">0.078</text>
<text x="3338.9" y="804.6" text-anchor="middle">0.054</text>
<text x="3419.7" y="804.6" text-anchor="middle">0.142</text>
<text x="3502.2" y="804.6" text-anchor="middle">0.285</text>
<text x="3581.0" y="804.6" text-anchor="middle">0.003</text>
<text x="3659.4" y="804.6" text-anchor="middle">0.002</text>
<text x="3740.2" y="804.6" text-anchor="middle">0.006</text>
<text x="3059.4" y="819.9" text-anchor="middle">CNN7</text>
<text x="3181.7" y="819.9" text-anchor="middle">0.673</text>
<text x="3260.6" y="819.9" text-anchor="middle">0.607</text>
<text x="3338.9" y="819.9" text-anchor="middle">0.633</text>
<text x="3419.7" y="819.9" text-anchor="middle">0.608</text>
<text x="3502.2" y="819.9" text-anchor="middle">0.429</text>
<text x="3581.0" y="819.9" text-anchor="middle">0.053</text>
<text x="3659.4" y="819.9" text-anchor="middle">0.050</text>
<text x="3740.2" y="819.9" text-anchor="middle">0.072</text>
<text x="3059.4" y="835.3" text-anchor="middle">CNN8</text>
<text x="3181.7" y="835.3" text-anchor="middle">0.612</text>
<text x="3260.6" y="835.3" text-anchor="middle">0.452</text>
<text x="3338.9" y="835.3" text-anchor="middle">0.448</text>
<text x="3419.7" y="835.3" text-anchor="middle">0.497</text>
<text x="3502.2" y="835.3" text-anchor="middle">0.286</text>
<text x="3581.0" y="835.3" text-anchor="middle">0.003</text>
<text x="3659.4" y="835.3" text-anchor="middle">0.001</text>
<text x="3740.2" y="835.3" text-anchor="middle">0.006</text>
<text x="3059.4" y="850.7" text-anchor="middle">CNN9</text>
<text x="3181.7" y="850.7" text-anchor="middle">0.675</text>
<text x="3260.6" y="850.7" text-anchor="middle">0.632</text>
<text x="3338.9" y="850.7" text-anchor="middle">0.629</text>
<text x="3419.7" y="850.7" text-anchor="middle">0.644</text>
<text x="3502.2" y="850.7" text-anchor="middle">0.439</text>
<text x="3581.0" y="850.7" text-anchor="middle">0.099</text>
<text x="3659.4" y="850.7" text-anchor="middle">0.137</text>
<text x="3740.2" y="850.7" text-anchor="middle">0.113</text>
<text x="3059.4" y="866.1" text-anchor="middle">CNN10</text>
<text x="3181.7" y="866.1" text-anchor="middle">0.692</text>
<text x="3260.6" y="866.1" text-anchor="middle">0.659</text>
<text x="3338.9" y="866.1" text-anchor="middle">0.650</text>
<text x="3419.7" y="866.1" text-anchor="middle">0.674</text>
<text x="3502.2" y="866.1" text-anchor="middle">0.430</text>
<text x="3581.0" y="866.1" text-anchor="middle">0.107</text>
<text x="3659.4" y="866.1" text-anchor="middle" text-decoration="underline">0.168</text>
<text x="3740.2" y="866.1" text-anchor="middle">0.121</text>
<text x="3059.4" y="881.5" text-anchor="middle">CNN11</text>
<text x="3181.7" y="881.5" text-anchor="middle">0.702</text>
<text x="3260.6" y="881.5" text-anchor="middle" text-decoration="underline">0.672</text>
<text x="3338.9" y="881.5" text-anchor="middle" text-decoration="underline">0.659</text>
<text x="3419.7" y="881.5" text-anchor="middle">0.690</text>
<text x="3502.2" y="881.5" text-anchor="middle" text-decoration="underline">0.481</text>
<text x="3581.0" y="881.5" text-anchor="middle" text-decoration="underline">0.136</text>
<text x="3659.4" y="881.5" text-anchor="middle">0.167</text>
<text x="3740.2" y="881.5" text-anchor="middle" font-weight="bold">0.150</text>
<text x="3059.4" y="903.7" text-anchor="middle">MLP</text>
<text x="3181.7" y="903.7" text-anchor="middle">0.378</text>
<text x="3260.6" y="903.7" text-anchor="middle">0.078</text>
<text x="3338.9" y="903.7" text-anchor="middle">0.054</text>
<text x="3419.7" y="903.7" text-anchor="middle">0.142</text>
<text x="3502.2" y="903.7" text-anchor="middle">0.285</text>
<text x="3581.0" y="903.7" text-anchor="middle">0.003</text>
<text x="3659.4" y="903.7" text-anchor="middle">0.002</text>
<text x="3740.2" y="903.7" text-anchor="middle">0.006</text>
<text x="3059.4" y="919.0" text-anchor="middle">RNN</text>
<text x="3181.7" y="919.0" text-anchor="middle">0.409</text>
<text x="3260.6" y="919.0" text-anchor="middle">0.162</text>
<text x="3338.9" y="919.0" text-anchor="middle">0.149</text>
<text x="3419.7" y="919.0" text-anchor="middle">0.178</text>
<text x="3502.2" y="919.0" text-anchor="middle">0.274</text>
<text x="3581.0" y="919.0" text-anchor="middle">0.003</text>
<text x="3659.4" y="919.0" text-anchor="middle">0.002</text>
<text x="3740.2" y="919.0" text-anchor="middle">0.009</text>
<text x="3059.4" y="934.3" text-anchor="middle">LSTM</text>
<text x="3181.7" y="934.3" text-anchor="middle">0.657</text>
<text x="3260.6" y="934.3" text-anchor="middle">0.575</text>
<text x="3338.9" y="934.3" text-anchor="middle">0.583</text>
<text x="3419.7" y="934.3" text-anchor="middle">0.589</text>
<text x="3502.2" y="934.3" text-anchor="middle">0.431</text>
<text x="3581.0" y="934.3" text-anchor="middle">0.070</text>
<text x="3659.4" y="934.3" text-anchor="middle">0.092</text>
<text x="3740.2" y="934.3" text-anchor="middle">0.085</text>
<text x="3059.4" y="949.7" text-anchor="middle">GRU</text>
<text x="3181.7" y="949.7" text-anchor="middle" text-decoration="underline">0.707</text>
<text x="3260.6" y="949.7" text-anchor="middle">0.678</text>
<text x="3338.9" y="949.7" text-anchor="middle">0.656</text>
<text x="3419.7" y="949.7" text-anchor="middle" font-weight="bold">0.709</text>
<text x="3502.2" y="949.7" text-anchor="middle">0.480</text>
<text x="3581.0" y="949.7" text-anchor="middle">0.110</text>
<text x="3659.4" y="949.7" text-anchor="middle">0.143</text>
<text x="3740.2" y="949.7" text-anchor="middle">0.125</text>
<text x="3059.4" y="965.0" text-anchor="middle">Bidirectional-RNN</text>
<text x="3181.7" y="965.0" text-anchor="middle">0.403</text>
<text x="3260.6" y="965.0" text-anchor="middle">0.157</text>
<text x="3338.9" y="965.0" text-anchor="middle">0.146</text>
<text x="3419.7" y="965.0" text-anchor="middle">0.174</text>
<text x="3502.2" y="965.0" text-anchor="middle">0.295</text>
<text x="3581.0" y="965.0" text-anchor="middle">0.004</text>
<text x="3659.4" y="965.0" text-anchor="middle">0.003</text>
<text x="3740.2" y="965.0" text-anchor="middle">0.008</text>
<text x="3059.4" y="980.3" text-anchor="middle">Bidirectional-LSTM</text>
<text x="3181.7" y="980.3" text-anchor="middle">0.704</text>
<text x="3260.6" y="980.3" text-anchor="middle">0.663</text>
<text x="3338.9" y="980.3" text-anchor="middle">0.654</text>
<text x="3419.7" y="980.3" text-anchor="middle">0.678</text>
<text x="3502.2" y="980.3" text-anchor="middle">0.349</text>
<text x="3581.0" y="980.3" text-anchor="middle">0.035</text>
<text x="3659.4" y="980.3" text-anchor="middle">0.044</text>
<text x="3740.2" y="980.3" text-anchor="middle">0.051</text>
<text x="3059.4" y="995.6" text-anchor="middle">Bidirectional-GRU</text>
<text x="3181.7" y="995.6" text-anchor="middle" font-weight="bold">0.722</text>
<text x="3260.6" y="995.6" text-anchor="middle" font-weight="bold">0.699</text>
<text x="3338.9" y="995.6" text-anchor="middle" font-weight="bold">0.697</text>
<text x="3419.7" y="995.6" text-anchor="middle" text-decoration="underline">0.705</text>
<text x="3502.2" y="995.6" text-anchor="middle" font-weight="bold">0.498</text>
<text x="3581.0" y="995.6" text-anchor="middle" font-weight="bold">0.138</text>
<text x="3659.4" y="995.6" text-anchor="middle" font-weight="bold">0.192</text>
<text x="3740.2" y="995.6" text-anchor="middle" text-decoration="underline">0.149</text>
<text x="3059.4" y="1018.4" text-anchor="middle">Transformer</text>
<text x="3181.7" y="1018.4" text-anchor="middle">0.376</text>
<text x="3260.6" y="1018.4" text-anchor="middle">0.138</text>
<text x="3338.9" y="1018.4" text-anchor="middle">0.231</text>
<text x="3419.7" y="1018.4" text-anchor="middle">0.158</text>
<text x="3502.2" y="1018.4" text-anchor="middle">0.285</text>
<text x="3581.0" y="1018.4" text-anchor="middle">0.003</text>
<text x="3659.4" y="1018.4" text-anchor="middle">0.005</text>
<text x="3740.2" y="1018.4" text-anchor="middle">0.006</text>
<text x="3059.4" y="1034.0" text-anchor="middle">iTransformer</text>
<text x="3181.7" y="1034.0" text-anchor="middle">0.606</text>
<text x="3260.6" y="1034.0" text-anchor="middle">0.495</text>
<text x="3338.9" y="1034.0" text-anchor="middle">0.519</text>
<text x="3419.7" y="1034.0" text-anchor="middle">0.526</text>
<text x="3502.2" y="1034.0" text-anchor="middle">0.367</text>
<text x="3581.0" y="1034.0" text-anchor="middle">0.053</text>
<text x="3659.4" y="1034.0" text-anchor="middle">0.085</text>
<text x="3740.2" y="1034.0" text-anchor="middle">0.064</text>
<text x="3059.4" y="1049.4" text-anchor="middle">PatchTST</text>
<text x="3181.7" y="1049.4" text-anchor="middle">0.656</text>
<text x="3260.6" y="1049.4" text-anchor="middle">0.616</text>
<text x="3338.9" y="1049.4" text-anchor="middle">0.612</text>
<text x="3419.7" y="1049.4" text-anchor="middle">0.627</text>
<text x="3502.2" y="1049.4" text-anchor="middle">0.375</text>
<text x="3581.0" y="1049.4" text-anchor="middle">0.067</text>
<text x="3659.4" y="1049.4" text-anchor="middle">0.093</text>
<text x="3740.2" y="1049.4" text-anchor="middle">0.082</text>
</g>
<g transform="translate(2870 30) scale(0.21390)">
<line x1="332" y1="418" x2="246" y2="503" stroke="#e6e62a" stroke-width="20"/>
<line x1="679" y1="495" x2="451" y2="721" stroke="#b0d634" stroke-width="20"/>
<line x1="897" y1="512" x2="708" y2="700" stroke="#78c73f" stroke-width="20"/>
<line x1="708" y1="700" x2="553" y2="853" stroke="#74c540" stroke-width="20"/>
<line x1="221" y1="724" x2="124" y2="819" stroke="#e0e42c" stroke-width="20"/>
<line x1="917" y1="713" x2="757" y2="874" stroke="#5cc058" stroke-width="20"/>
<line x1="1075" y1="783" x2="952" y2="901" stroke="#40c8a8" stroke-width="20"/>
<line x1="541" y1="1021" x2="404" y2="1158" stroke="#5cc050" stroke-width="20"/>
<line x1="767" y1="1049" x2="630" y2="1185" stroke="#42c6aa" stroke-width="20"/>
<line x1="1102" y1="1037" x2="982" y2="1157" stroke="#28c0f0" stroke-width="20"/>
<rect x="305" y="205" width="57" height="53" rx="5" fill="#e6e62a"/>
<rect x="378" y="280" width="72" height="67" rx="5" fill="#e8e826"/>
<rect x="507" y="248" width="96" height="94" rx="5" fill="#e3e328"/>
<rect x="653" y="293" width="65" height="62" rx="5" fill="#dbe12c"/>
<rect x="763" y="292" width="94" height="94" rx="5" fill="#b3d334"/>
<rect x="310" y="398" width="45" height="40" rx="5" fill="#e6e62a"/>
<rect x="208" y="465" width="75" height="75" rx="5" fill="#e6e62a"/>
<rect x="407" y="400" width="128" height="125" rx="5" fill="#e2e024"/>
<rect x="598" y="418" width="162" height="154" rx="5" fill="#bcd930"/>
<rect x="400" y="672" width="102" height="98" rx="5" fill="#a6d436"/>
<rect x="830" y="447" width="135" height="131" rx="5" fill="#7dc93e"/>
<rect x="645" y="638" width="125" height="122" rx="5" fill="#74c540"/>
<rect x="513" y="815" width="80" height="75" rx="5" fill="#74c540"/>
<rect x="1003" y="522" width="49" height="48" rx="5" fill="#56c04e"/>
<rect x="425" y="570" width="50" height="47" rx="5" fill="#cfe030"/>
<rect x="297" y="595" width="53" height="50" rx="5" fill="#e2e62c"/>
<rect x="177" y="682" width="88" height="83" rx="5" fill="#dde22e"/>
<rect x="100" y="795" width="47" height="48" rx="5" fill="#e2e62c"/>
<rect x="855" y="652" width="125" height="123" rx="5" fill="#5cc058"/>
<rect x="707" y="825" width="101" height="97" rx="5" fill="#5cc058"/>
<rect x="1100" y="648" width="63" height="62" rx="5" fill="#46c58e"/>
<rect x="1045" y="755" width="60" height="55" rx="5" fill="#3fc8a2"/>
<rect x="900" y="850" width="105" height="102" rx="5" fill="#40c8b0"/>
<rect x="305" y="815" width="50" height="47" rx="5" fill="#a0d33a"/>
<rect x="507" y="990" width="68" height="62" rx="5" fill="#5cc050"/>
<rect x="343" y="1098" width="122" height="120" rx="5" fill="#5cc052"/>
<rect x="707" y="990" width="121" height="118" rx="5" fill="#45c4a0"/>
<rect x="598" y="1152" width="64" height="65" rx="5" fill="#40c8b4"/>
<rect x="907" y="1017" width="55" height="51" rx="5" fill="#36c4d0"/>
<rect x="1048" y="985" width="109" height="105" rx="5" fill="#28c0ee"/>
<rect x="955" y="1128" width="55" height="57" rx="5" fill="#28c0f0"/>
<rect x="1117" y="1145" width="48" height="48" rx="5" fill="#28c0f0"/>
<circle cx="487" cy="194" r="16" fill="#e6e62a"/>
<path d="M555 175 C640 135 760 118 880 145 C1010 180 1120 250 1175 325 L1180 370 C1230 420 1330 455 1555 540 L1495 665 L1538 728 L1520 770 C1560 800 1570 850 1530 905 C1570 960 1630 1010 1600 1070 C1570 1130 1480 1160 1400 1200 C1310 1250 1260 1310 1225 1368 C1250 1290 1262 1200 1262 1150 L1262 1025 L1320 1025 L1320 875 L1240 875 L1240 770 L1265 770 L1265 705 L1210 705 L1210 600 L1135 600 L1045 465 L1045 375 L965 375 L918 335 L918 245 L770 245 L700 215 L690 195 L600 190 Z" fill="#4a5365"/>
<rect x="955" y="250" width="40" height="40" fill="#d9d9d9"/>
<rect x="1107" y="402" width="60" height="63" fill="#d9d9d9"/>
<rect x="1267" y="770" width="33" height="32" fill="#d9d9d9"/>
<rect x="1335" y="1040" width="67" height="68" fill="#d9d9d9"/>
<rect x="1158" y="875" width="80" height="70" fill="#4a5365"/>
</g>
<text transform="translate(0 182.70) scale(1.2350 1.0635)" x="2669.55 2736.07 2878.57 3002.50" y="0" font-family="Liberation Sans, sans-serif" font-weight="bold" font-size="180" fill="#3c4a55" stroke="#3c4a55" stroke-width="14.0" stroke-linejoin="miter" vector-effect="non-scaling-stroke">ICLR</text>
<line x1="3303" y1="209.5" x2="3875" y2="209.5" stroke="#3c4a55" stroke-width="6" stroke-linecap="round"/>
<text x="3301.7" y="260" font-family="Liberation Sans, sans-serif" font-size="39.5" fill="#3c4a55" textLength="577.6" lengthAdjust="spacing">International Conference On</text>
<text x="3301.7" y="307" font-family="Liberation Sans, sans-serif" font-size="39.5" fill="#3c4a55" textLength="503.5" lengthAdjust="spacing">Learning Representations</text>
<g transform="translate(60.0 2000.0) scale(0.27174)">
<circle cx="390" cy="210" r="78" fill="#a9853a"/>
<rect x="300" y="232" width="180" height="4.5" fill="#d9d9d9"/>
<rect x="300" y="246" width="180" height="4.5" fill="#d9d9d9"/>
<rect x="300" y="259" width="180" height="4.5" fill="#d9d9d9"/>
<rect x="300" y="271" width="180" height="4.5" fill="#d9d9d9"/>
<path d="M222 332 L247 295 L352 295 L390 315 L428 295 L533 295 L557 332 L435 332 L390 352 L345 332 Z" fill="#003d7c"/>
<path d="M248 345 L248 520 Q248 580 315 612" fill="none" stroke="#003d7c" stroke-width="27"/>
<path d="M292 345 L292 505 Q292 555 338 578" fill="none" stroke="#003d7c" stroke-width="27"/>
<path d="M532 345 L532 520 Q532 580 465 612" fill="none" stroke="#003d7c" stroke-width="27"/>
<path d="M488 345 L488 505 Q488 555 442 578" fill="none" stroke="#003d7c" stroke-width="27"/>
<path d="M358 365 L422 365 L422 545 L487 657 L293 657 L358 545 Z" fill="#a9853a" stroke="#d9d9d9" stroke-width="6"/>
<path d="M383 365 L397 365 L397 555 L437 622 L343 622 L383 555 Z" fill="#d9d9d9"/>
</g>
<g transform="translate(1575.6 1998.5) scale(0.27174)">
<circle cx="390" cy="210" r="78" fill="#a9853a"/>
<rect x="300" y="232" width="180" height="4.5" fill="#d9d9d9"/>
<rect x="300" y="246" width="180" height="4.5" fill="#d9d9d9"/>
<rect x="300" y="259" width="180" height="4.5" fill="#d9d9d9"/>
<rect x="300" y="271" width="180" height="4.5" fill="#d9d9d9"/>
<path d="M222 332 L247 295 L352 295 L390 315 L428 295 L533 295 L557 332 L435 332 L390 352 L345 332 Z" fill="#003d7c"/>
<path d="M248 345 L248 520 Q248 580 315 612" fill="none" stroke="#003d7c" stroke-width="27"/>
<path d="M292 345 L292 505 Q292 555 338 578" fill="none" stroke="#003d7c" stroke-width="27"/>
<path d="M532 345 L532 520 Q532 580 465 612" fill="none" stroke="#003d7c" stroke-width="27"/>
<path d="M488 345 L488 505 Q488 555 442 578" fill="none" stroke="#003d7c" stroke-width="27"/>
<path d="M358 365 L422 365 L422 545 L487 657 L293 657 L358 545 Z" fill="#a9853a" stroke="#d9d9d9" stroke-width="6"/>
<path d="M383 365 L397 365 L397 555 L437 622 L343 622 L383 555 Z" fill="#d9d9d9"/>
</g>
<clipPath id="wfclip"><rect x="88" y="1398" width="842" height="466.5"/></clipPath>
<g clip-path="url(#wfclip)">
<rect x="90" y="1398" width="836.5" height="466.5" fill="#fdfdfd"/>
<line x1="90" y1="1398.5" x2="926" y2="1398.5" stroke="#eee" stroke-width="1"/><line x1="90" y1="1864" x2="926" y2="1864" stroke="#eee" stroke-width="1"/>
<rect x="98.8" y="1427.0" width="315.7" height="123.0" rx="10" fill="#fff" stroke="#1c2452" stroke-width="1.7"/>
<rect x="99.7" y="1609.3" width="319.8" height="257.7" rx="10" fill="#fff" stroke="#1c2452" stroke-width="1.7"/>
<rect x="452.0" y="1427.0" width="218.6" height="440.0" rx="10" fill="#fff" stroke="#1c2452" stroke-width="1.7"/>
<rect x="702.6" y="1427.4" width="218.2" height="439.6" rx="10" fill="#fff" stroke="#1c2452" stroke-width="1.7"/>
<rect x="98.5" y="1395.0" width="180.5" height="32.0" rx="16.0" fill="#414f9b" stroke="#0a0a14" stroke-width="1.8"/>
<text x="190.8" y="1418.2" font-family="Liberation Sans, sans-serif" font-size="20.9" fill="#fff" text-anchor="middle">Crystal Database</text>
<rect x="101.4" y="1576.0" width="180.3" height="33.0" rx="16.5" fill="#414f9b" stroke="#0a0a14" stroke-width="1.8"/>
<text x="191.6" y="1599.7" font-family="Liberation Sans, sans-serif" font-size="20.9" fill="#fff" text-anchor="middle">XRD Simulation</text>
<rect x="453.0" y="1395.0" width="121.6" height="31.4" rx="15.7" fill="#414f9b" stroke="#0a0a14" stroke-width="1.8"/>
<text x="513.8" y="1417.9" font-family="Liberation Sans, sans-serif" font-size="20.9" fill="#fff" text-anchor="middle">Models</text>
<rect x="703.0" y="1395.0" width="141.0" height="31.4" rx="15.7" fill="#414f9b" stroke="#0a0a14" stroke-width="1.8"/>
<text x="774.5" y="1417.9" font-family="Liberation Sans, sans-serif" font-size="20.9" fill="#fff" text-anchor="middle">Classification</text>
<path d="M423.0 1632.2 L439.1 1632.2 L439.1 1626.8 L449.8 1637.5 L439.1 1648.3 L439.1 1642.9 L423.0 1642.9 Z" fill="#c9c9c9" stroke="#8a8a8a" stroke-width="1"/>
<path d="M674.0 1632.2 L689.8 1632.2 L689.8 1626.8 L700.4 1637.5 L689.8 1648.3 L689.8 1642.9 L674.0 1642.9 Z" fill="#c9c9c9" stroke="#8a8a8a" stroke-width="1"/>
<path d="M370.5 1566 L382 1566 L382 1581.5 L387.7 1581.5 L376.2 1593.5 L364.8 1581.5 L370.5 1581.5 Z" fill="#c9c9c9" stroke="#8a8a8a" stroke-width="1"/>
<path d="M455.4 1439.2 L470.6 1439.2 L470.6 1433.0 L483.0 1444.5 L470.6 1456.0 L470.6 1449.8 L455.4 1449.8 Z" fill="#f6e97e" stroke="#26265e" stroke-width="1.6"/>
<path d="M455.4 1554.5 L469.5 1554.5 L469.5 1548.0 L481.0 1560.0 L469.5 1572.0 L469.5 1565.5 L455.4 1565.5 Z" fill="#f6e97e" stroke="#26265e" stroke-width="1.6"/>
<path d="M455.4 1713.5 L469.5 1713.5 L469.5 1707.0 L481.0 1719.0 L469.5 1731.0 L469.5 1724.5 L455.4 1724.5 Z" fill="#f6e97e" stroke="#26265e" stroke-width="1.6"/>
<path d="M706.6 1572.1 L721.1 1572.1 L721.1 1565.5 L733.0 1577.8 L721.1 1590.0 L721.1 1583.4 L706.6 1583.4 Z" fill="#f6e97e" stroke="#26265e" stroke-width="1.6"/>
<path d="M706.6 1803.8 L721.1 1803.8 L721.1 1797.0 L733.0 1809.5 L721.1 1822.0 L721.1 1815.2 L706.6 1815.2 Z" fill="#f6e97e" stroke="#26265e" stroke-width="1.6"/>
<text x="490.5" y="1452.0" font-family="Liberation Sans, sans-serif" font-size="20.4" fill="#111">CNNs</text>
<text x="487.8" y="1567.0" font-family="Liberation Sans, sans-serif" font-size="20.4" fill="#111">Recurrent</text>
<text x="487.2" y="1726.0" font-family="Liberation Sans, sans-serif" font-size="20.4" fill="#111">Transformers</text>
<text x="753.0" y="1585.4" font-family="Liberation Sans, sans-serif" font-size="20.4" fill="#111">Space groups</text>
<text x="744.0" y="1816.0" font-family="Liberation Sans, sans-serif" font-size="20.4" fill="#111">Crystal systems</text>
<text x="722" y="1618.5" font-family="Liberation Serif, DejaVu Serif, serif" font-style="italic" font-size="23.5" fill="#111" textLength="180" lengthAdjust="spacing">SG<tspan font-size="16" dy="5" font-style="normal">1</tspan><tspan dy="-5">, SG</tspan><tspan font-size="16" dy="5" font-style="normal">2</tspan><tspan dy="-5">, ...,SG</tspan><tspan font-size="16" dy="5" font-style="normal">230</tspan></text>
<text x="739.7" y="1848.6" font-family="Liberation Serif, DejaVu Serif, serif" font-style="italic" font-size="23.5" fill="#111" textLength="154" lengthAdjust="spacing">CS<tspan font-size="16" dy="5" font-style="normal">1</tspan><tspan dy="-5">, CS</tspan><tspan font-size="16" dy="5" font-style="normal">2</tspan><tspan dy="-5">, ...,CS</tspan><tspan font-size="16" dy="5" font-style="normal">7</tspan></text>
<g transform="translate(85 1390) scale(0.17250)">
<polygon points="505,457 403,516 300,457 300,339 403,280 505,338" fill="#9fd56a" fill-opacity="0.5"/>
<polygon points="402,634 300,693 197,634 197,516 300,457 402,516" fill="#9fd56a" fill-opacity="0.5"/>
<polygon points="609,634 507,693 404,634 404,516 507,457 609,516" fill="#9fd56a" fill-opacity="0.5"/>
<polygon points="505,811 403,870 300,811 300,693 403,634 505,693" fill="#9fd56a" fill-opacity="0.5"/>
<line x1="403" y1="398" x2="405" y2="283" stroke="#7a6a9a" stroke-width="7"/>
<line x1="403" y1="398" x2="305" y2="462" stroke="#7a6a9a" stroke-width="7"/>
<line x1="403" y1="398" x2="507" y2="462" stroke="#7a6a9a" stroke-width="7"/>
<line x1="403" y1="398" x2="405" y2="520" stroke="#7a6a9a" stroke-width="7"/>
<line x1="403" y1="398" x2="303" y2="340" stroke="#c98a20" stroke-width="7"/>
<line x1="403" y1="398" x2="508" y2="340" stroke="#c98a20" stroke-width="7"/>
<line x1="300" y1="575" x2="305" y2="462" stroke="#7a6a9a" stroke-width="7"/>
<line x1="300" y1="575" x2="405" y2="520" stroke="#7a6a9a" stroke-width="7"/>
<line x1="300" y1="575" x2="198" y2="635" stroke="#7a6a9a" stroke-width="7"/>
<line x1="300" y1="575" x2="305" y2="693" stroke="#7a6a9a" stroke-width="7"/>
<line x1="300" y1="575" x2="200" y2="518" stroke="#c98a20" stroke-width="7"/>
<line x1="300" y1="575" x2="405" y2="632" stroke="#c98a20" stroke-width="7"/>
<line x1="507" y1="575" x2="507" y2="462" stroke="#7a6a9a" stroke-width="7"/>
<line x1="507" y1="575" x2="405" y2="520" stroke="#7a6a9a" stroke-width="7"/>
<line x1="507" y1="575" x2="610" y2="635" stroke="#7a6a9a" stroke-width="7"/>
<line x1="507" y1="575" x2="507" y2="693" stroke="#7a6a9a" stroke-width="7"/>
<line x1="507" y1="575" x2="610" y2="518" stroke="#c98a20" stroke-width="7"/>
<line x1="507" y1="575" x2="405" y2="632" stroke="#c98a20" stroke-width="7"/>
<line x1="403" y1="752" x2="305" y2="693" stroke="#7a6a9a" stroke-width="7"/>
<line x1="403" y1="752" x2="507" y2="693" stroke="#7a6a9a" stroke-width="7"/>
<line x1="403" y1="752" x2="305" y2="812" stroke="#7a6a9a" stroke-width="7"/>
<line x1="403" y1="752" x2="507" y2="812" stroke="#7a6a9a" stroke-width="7"/>
<line x1="403" y1="752" x2="405" y2="632" stroke="#c98a20" stroke-width="7"/>
<line x1="403" y1="752" x2="405" y2="872" stroke="#c98a20" stroke-width="7"/>
<circle cx="405" cy="283" r="26" fill="#7b66a8"/>
<circle cx="305" cy="462" r="26" fill="#7b66a8"/>
<circle cx="507" cy="462" r="26" fill="#7b66a8"/>
<circle cx="405" cy="520" r="26" fill="#7b66a8"/>
<circle cx="198" cy="635" r="26" fill="#7b66a8"/>
<circle cx="610" cy="635" r="26" fill="#7b66a8"/>
<circle cx="305" cy="693" r="26" fill="#7b66a8"/>
<circle cx="507" cy="693" r="26" fill="#7b66a8"/>
<circle cx="305" cy="812" r="26" fill="#7b66a8"/>
<circle cx="507" cy="812" r="26" fill="#7b66a8"/>
<circle cx="303" cy="340" r="26" fill="#9bd45a"/>
<circle cx="508" cy="340" r="26" fill="#9bd45a"/>
<circle cx="200" cy="518" r="26" fill="#9bd45a"/>
<circle cx="610" cy="518" r="26" fill="#9bd45a"/>
<circle cx="405" cy="632" r="26" fill="#9bd45a"/>
<circle cx="405" cy="872" r="26" fill="#9bd45a"/>
<circle cx="403" cy="398" r="24" fill="#c97c10"/>
<circle cx="300" cy="575" r="24" fill="#c97c10"/>
<circle cx="507" cy="575" r="24" fill="#c97c10"/>
<circle cx="403" cy="752" r="24" fill="#c97c10"/>
<g stroke="#5cb13a" stroke-width="3.6" stroke-linecap="round">
<line x1="720" y1="575" x2="885" y2="322"/>
<line x1="885" y1="322" x2="1030" y2="322"/>
<line x1="1030" y1="322" x2="1195" y2="575"/>
<line x1="1195" y1="575" x2="1030" y2="830"/>
<line x1="1030" y1="830" x2="885" y2="830"/>
<line x1="885" y1="830" x2="720" y2="575"/>
<line x1="885" y1="322" x2="957" y2="365"/>
<line x1="885" y1="322" x2="885" y2="407"/>
<line x1="885" y1="322" x2="810" y2="450"/>
<line x1="885" y1="322" x2="957" y2="450"/>
<line x1="1030" y1="322" x2="957" y2="365"/>
<line x1="1030" y1="322" x2="1030" y2="407"/>
<line x1="1030" y1="322" x2="957" y2="450"/>
<line x1="1030" y1="322" x2="1103" y2="450"/>
<line x1="957" y1="365" x2="885" y2="407"/>
<line x1="957" y1="365" x2="1030" y2="407"/>
<line x1="957" y1="365" x2="957" y2="450"/>
<line x1="957" y1="365" x2="885" y2="492"/>
<line x1="957" y1="365" x2="1030" y2="492"/>
<line x1="885" y1="407" x2="1030" y2="407"/>
<line x1="885" y1="407" x2="810" y2="450"/>
<line x1="885" y1="407" x2="957" y2="450"/>
<line x1="885" y1="407" x2="885" y2="492"/>
<line x1="885" y1="407" x2="810" y2="535"/>
<line x1="885" y1="407" x2="957" y2="535"/>
<line x1="1030" y1="407" x2="957" y2="450"/>
<line x1="1030" y1="407" x2="1103" y2="450"/>
<line x1="1030" y1="407" x2="1030" y2="492"/>
<line x1="1030" y1="407" x2="957" y2="535"/>
<line x1="1030" y1="407" x2="1103" y2="535"/>
<line x1="810" y1="450" x2="957" y2="450"/>
<line x1="810" y1="450" x2="885" y2="492"/>
<line x1="810" y1="450" x2="810" y2="535"/>
<line x1="810" y1="450" x2="885" y2="575"/>
<line x1="957" y1="450" x2="1103" y2="450"/>
<line x1="957" y1="450" x2="885" y2="492"/>
<line x1="957" y1="450" x2="1030" y2="492"/>
<line x1="957" y1="450" x2="957" y2="535"/>
<line x1="957" y1="450" x2="885" y2="575"/>
<line x1="957" y1="450" x2="1030" y2="575"/>
<line x1="1103" y1="450" x2="1030" y2="492"/>
<line x1="1103" y1="450" x2="1103" y2="535"/>
<line x1="1103" y1="450" x2="1030" y2="575"/>
<line x1="885" y1="492" x2="1030" y2="492"/>
<line x1="885" y1="492" x2="810" y2="535"/>
<line x1="885" y1="492" x2="957" y2="535"/>
<line x1="885" y1="492" x2="885" y2="575"/>
<line x1="885" y1="492" x2="810" y2="620"/>
<line x1="885" y1="492" x2="957" y2="620"/>
<line x1="1030" y1="492" x2="957" y2="535"/>
<line x1="1030" y1="492" x2="1103" y2="535"/>
<line x1="1030" y1="492" x2="1030" y2="575"/>
<line x1="1030" y1="492" x2="957" y2="620"/>
<line x1="1030" y1="492" x2="1103" y2="620"/>
<line x1="810" y1="535" x2="957" y2="535"/>
<line x1="810" y1="535" x2="720" y2="575"/>
<line x1="810" y1="535" x2="885" y2="575"/>
<line x1="810" y1="535" x2="810" y2="620"/>
<line x1="810" y1="535" x2="885" y2="662"/>
<line x1="957" y1="535" x2="1103" y2="535"/>
<line x1="957" y1="535" x2="885" y2="575"/>
<line x1="957" y1="535" x2="1030" y2="575"/>
<line x1="957" y1="535" x2="957" y2="620"/>
<line x1="957" y1="535" x2="885" y2="662"/>
<line x1="957" y1="535" x2="1030" y2="662"/>
<line x1="1103" y1="535" x2="1030" y2="575"/>
<line x1="1103" y1="535" x2="1195" y2="575"/>
<line x1="1103" y1="535" x2="1103" y2="620"/>
<line x1="1103" y1="535" x2="1030" y2="662"/>
<line x1="720" y1="575" x2="810" y2="620"/>
<line x1="885" y1="575" x2="1030" y2="575"/>
<line x1="885" y1="575" x2="810" y2="620"/>
<line x1="885" y1="575" x2="957" y2="620"/>
<line x1="885" y1="575" x2="885" y2="662"/>
<line x1="885" y1="575" x2="810" y2="705"/>
<line x1="885" y1="575" x2="957" y2="705"/>
<line x1="1030" y1="575" x2="957" y2="620"/>
<line x1="1030" y1="575" x2="1103" y2="620"/>
<line x1="1030" y1="575" x2="1030" y2="662"/>
<line x1="1030" y1="575" x2="957" y2="705"/>
<line x1="1030" y1="575" x2="1103" y2="705"/>
<line x1="1195" y1="575" x2="1103" y2="620"/>
<line x1="810" y1="620" x2="957" y2="620"/>
<line x1="810" y1="620" x2="885" y2="662"/>
<line x1="810" y1="620" x2="810" y2="705"/>
<line x1="810" y1="620" x2="885" y2="747"/>
<line x1="957" y1="620" x2="1103" y2="620"/>
<line x1="957" y1="620" x2="885" y2="662"/>
<line x1="957" y1="620" x2="1030" y2="662"/>
<line x1="957" y1="620" x2="957" y2="705"/>
<line x1="957" y1="620" x2="885" y2="747"/>
<line x1="957" y1="620" x2="1030" y2="747"/>
<line x1="1103" y1="620" x2="1030" y2="662"/>
<line x1="1103" y1="620" x2="1103" y2="705"/>
<line x1="1103" y1="620" x2="1030" y2="747"/>
<line x1="885" y1="662" x2="1030" y2="662"/>
<line x1="885" y1="662" x2="810" y2="705"/>
<line x1="885" y1="662" x2="957" y2="705"/>
<line x1="885" y1="662" x2="885" y2="747"/>
<line x1="885" y1="662" x2="957" y2="790"/>
<line x1="1030" y1="662" x2="957" y2="705"/>
<line x1="1030" y1="662" x2="1103" y2="705"/>
<line x1="1030" y1="662" x2="1030" y2="747"/>
<line x1="1030" y1="662" x2="957" y2="790"/>
<line x1="810" y1="705" x2="957" y2="705"/>
<line x1="810" y1="705" x2="885" y2="747"/>
<line x1="810" y1="705" x2="885" y2="830"/>
<line x1="957" y1="705" x2="1103" y2="705"/>
<line x1="957" y1="705" x2="885" y2="747"/>
<line x1="957" y1="705" x2="1030" y2="747"/>
<line x1="957" y1="705" x2="957" y2="790"/>
<line x1="957" y1="705" x2="885" y2="830"/>
<line x1="957" y1="705" x2="1030" y2="830"/>
<line x1="1103" y1="705" x2="1030" y2="747"/>
<line x1="1103" y1="705" x2="1030" y2="830"/>
<line x1="885" y1="747" x2="1030" y2="747"/>
<line x1="885" y1="747" x2="957" y2="790"/>
<line x1="885" y1="747" x2="885" y2="830"/>
<line x1="1030" y1="747" x2="957" y2="790"/>
<line x1="1030" y1="747" x2="1030" y2="830"/>
<line x1="957" y1="790" x2="885" y2="830"/>
<line x1="957" y1="790" x2="1030" y2="830"/>
<line x1="720" y1="575" x2="885" y2="407"/>
<line x1="720" y1="575" x2="810" y2="450"/>
<line x1="720" y1="575" x2="957" y2="450"/>
<line x1="720" y1="575" x2="885" y2="492"/>
<line x1="720" y1="575" x2="957" y2="535"/>
<line x1="720" y1="575" x2="885" y2="575"/>
<line x1="720" y1="575" x2="957" y2="620"/>
<line x1="720" y1="575" x2="885" y2="662"/>
<line x1="720" y1="575" x2="810" y2="705"/>
<line x1="720" y1="575" x2="957" y2="705"/>
<line x1="720" y1="575" x2="885" y2="747"/>
<line x1="1195" y1="575" x2="1030" y2="407"/>
<line x1="1195" y1="575" x2="957" y2="450"/>
<line x1="1195" y1="575" x2="1103" y2="450"/>
<line x1="1195" y1="575" x2="1030" y2="492"/>
<line x1="1195" y1="575" x2="957" y2="535"/>
<line x1="1195" y1="575" x2="1030" y2="575"/>
<line x1="1195" y1="575" x2="957" y2="620"/>
<line x1="1195" y1="575" x2="1030" y2="662"/>
<line x1="1195" y1="575" x2="957" y2="705"/>
<line x1="1195" y1="575" x2="1103" y2="705"/>
<line x1="1195" y1="575" x2="1030" y2="747"/>
<line x1="885" y1="322" x2="1030" y2="407"/>
<line x1="885" y1="322" x2="1103" y2="450"/>
<line x1="885" y1="322" x2="885" y2="492"/>
<line x1="885" y1="322" x2="1030" y2="492"/>
<line x1="885" y1="322" x2="810" y2="535"/>
<line x1="885" y1="322" x2="957" y2="535"/>
<line x1="885" y1="322" x2="885" y2="575"/>
<line x1="1030" y1="322" x2="885" y2="407"/>
<line x1="1030" y1="322" x2="810" y2="450"/>
<line x1="1030" y1="322" x2="885" y2="492"/>
<line x1="1030" y1="322" x2="1030" y2="492"/>
<line x1="1030" y1="322" x2="957" y2="535"/>
<line x1="1030" y1="322" x2="1103" y2="535"/>
<line x1="1030" y1="322" x2="1030" y2="575"/>
<line x1="1030" y1="830" x2="1030" y2="575"/>
<line x1="1030" y1="830" x2="957" y2="620"/>
<line x1="1030" y1="830" x2="1103" y2="620"/>
<line x1="1030" y1="830" x2="885" y2="662"/>
<line x1="1030" y1="830" x2="1030" y2="662"/>
<line x1="1030" y1="830" x2="810" y2="705"/>
<line x1="1030" y1="830" x2="885" y2="747"/>
<line x1="885" y1="830" x2="885" y2="575"/>
<line x1="885" y1="830" x2="810" y2="620"/>
<line x1="885" y1="830" x2="957" y2="620"/>
<line x1="885" y1="830" x2="885" y2="662"/>
<line x1="885" y1="830" x2="1030" y2="662"/>
<line x1="885" y1="830" x2="1103" y2="705"/>
<line x1="885" y1="830" x2="1030" y2="747"/>
</g>
<circle cx="885" cy="322" r="17" fill="#5cb13a"/>
<circle cx="1030" cy="322" r="17" fill="#5cb13a"/>
<circle cx="957" cy="365" r="17" fill="#5cb13a"/>
<circle cx="885" cy="407" r="17" fill="#5cb13a"/>
<circle cx="1030" cy="407" r="17" fill="#5cb13a"/>
<circle cx="810" cy="450" r="17" fill="#5cb13a"/>
<circle cx="957" cy="450" r="17" fill="#5cb13a"/>
<circle cx="1103" cy="450" r="17" fill="#5cb13a"/>
<circle cx="885" cy="492" r="17" fill="#5cb13a"/>
<circle cx="1030" cy="492" r="17" fill="#5cb13a"/>
<circle cx="810" cy="535" r="17" fill="#5cb13a"/>
<circle cx="957" cy="535" r="17" fill="#5cb13a"/>
<circle cx="1103" cy="535" r="17" fill="#5cb13a"/>
<circle cx="720" cy="575" r="17" fill="#5cb13a"/>
<circle cx="885" cy="575" r="17" fill="#5cb13a"/>
<circle cx="1030" cy="575" r="17" fill="#5cb13a"/>
<circle cx="1195" cy="575" r="17" fill="#5cb13a"/>
<circle cx="810" cy="620" r="17" fill="#5cb13a"/>
<circle cx="957" cy="620" r="17" fill="#5cb13a"/>
<circle cx="1103" cy="620" r="17" fill="#5cb13a"/>
<circle cx="885" cy="662" r="17" fill="#5cb13a"/>
<circle cx="1030" cy="662" r="17" fill="#5cb13a"/>
<circle cx="810" cy="705" r="17" fill="#5cb13a"/>
<circle cx="957" cy="705" r="17" fill="#5cb13a"/>
<circle cx="1103" cy="705" r="17" fill="#5cb13a"/>
<circle cx="885" cy="747" r="17" fill="#5cb13a"/>
<circle cx="1030" cy="747" r="17" fill="#5cb13a"/>
<circle cx="957" cy="790" r="17" fill="#5cb13a"/>
<circle cx="885" cy="830" r="17" fill="#5cb13a"/>
<circle cx="1030" cy="830" r="17" fill="#5cb13a"/>
<rect x="1315" y="343" width="470" height="472" fill="#bfe6bf"/>
<polygon points="1315,460 1430,345 1545,460 1430,575" fill="#9dbd9f" fill-opacity="0.6"/>
<line x1="1430" y1="460" x2="1368" y2="398" stroke="#e22a12" stroke-width="11"/>
<line x1="1430" y1="460" x2="1492" y2="398" stroke="#e22a12" stroke-width="11"/>
<line x1="1430" y1="460" x2="1368" y2="522" stroke="#e22a12" stroke-width="11"/>
<line x1="1430" y1="460" x2="1492" y2="522" stroke="#e22a12" stroke-width="11"/>
<polygon points="1550,460 1665,345 1780,460 1665,575" fill="#9dbd9f" fill-opacity="0.6"/>
<line x1="1665" y1="460" x2="1603" y2="398" stroke="#e22a12" stroke-width="11"/>
<line x1="1665" y1="460" x2="1727" y2="398" stroke="#e22a12" stroke-width="11"/>
<line x1="1665" y1="460" x2="1603" y2="522" stroke="#e22a12" stroke-width="11"/>
<line x1="1665" y1="460" x2="1727" y2="522" stroke="#e22a12" stroke-width="11"/>
<polygon points="1315,695 1430,580 1545,695 1430,810" fill="#9dbd9f" fill-opacity="0.6"/>
<line x1="1430" y1="695" x2="1368" y2="633" stroke="#e22a12" stroke-width="11"/>
<line x1="1430" y1="695" x2="1492" y2="633" stroke="#e22a12" stroke-width="11"/>
<line x1="1430" y1="695" x2="1368" y2="757" stroke="#e22a12" stroke-width="11"/>
<line x1="1430" y1="695" x2="1492" y2="757" stroke="#e22a12" stroke-width="11"/>
<polygon points="1550,695 1665,580 1780,695 1665,810" fill="#9dbd9f" fill-opacity="0.6"/>
<line x1="1665" y1="695" x2="1603" y2="633" stroke="#e22a12" stroke-width="11"/>
<line x1="1665" y1="695" x2="1727" y2="633" stroke="#e22a12" stroke-width="11"/>
<line x1="1665" y1="695" x2="1603" y2="757" stroke="#e22a12" stroke-width="11"/>
<line x1="1665" y1="695" x2="1727" y2="757" stroke="#e22a12" stroke-width="11"/>
<line x1="1370" y1="343" x2="1490" y2="343" stroke="#e22a12" stroke-width="10"/>
<line x1="1605" y1="343" x2="1725" y2="343" stroke="#e22a12" stroke-width="10"/>
<line x1="1370" y1="815" x2="1490" y2="815" stroke="#e22a12" stroke-width="10"/>
<line x1="1605" y1="815" x2="1725" y2="815" stroke="#e22a12" stroke-width="10"/>
<line x1="1315" y1="400" x2="1315" y2="520" stroke="#e22a12" stroke-width="10"/>
<line x1="1315" y1="635" x2="1315" y2="755" stroke="#e22a12" stroke-width="10"/>
<line x1="1785" y1="400" x2="1785" y2="520" stroke="#e22a12" stroke-width="10"/>
<line x1="1785" y1="635" x2="1785" y2="755" stroke="#e22a12" stroke-width="10"/>
<line x1="1498" y1="460" x2="1598" y2="460" stroke="#dd8a70" stroke-width="8"/><line x1="1548" y1="410" x2="1548" y2="510" stroke="#dd8a70" stroke-width="8"/>
<circle cx="1548" cy="460" r="27" fill="#d9856a"/>
<line x1="1380" y1="578" x2="1480" y2="578" stroke="#dd8a70" stroke-width="8"/><line x1="1430" y1="528" x2="1430" y2="628" stroke="#dd8a70" stroke-width="8"/>
<circle cx="1430" cy="578" r="27" fill="#d9856a"/>
<line x1="1615" y1="578" x2="1715" y2="578" stroke="#dd8a70" stroke-width="8"/><line x1="1665" y1="528" x2="1665" y2="628" stroke="#dd8a70" stroke-width="8"/>
<circle cx="1665" cy="578" r="27" fill="#d9856a"/>
<line x1="1498" y1="695" x2="1598" y2="695" stroke="#dd8a70" stroke-width="8"/><line x1="1548" y1="645" x2="1548" y2="745" stroke="#dd8a70" stroke-width="8"/>
<circle cx="1548" cy="695" r="27" fill="#d9856a"/>
<circle cx="1315" cy="343" r="31" fill="#c9eec9"/>
<circle cx="1315" cy="578" r="31" fill="#c9eec9"/>
<circle cx="1315" cy="815" r="31" fill="#c9eec9"/>
<circle cx="1548" cy="343" r="31" fill="#c9eec9"/>
<circle cx="1548" cy="578" r="31" fill="#c9eec9"/>
<circle cx="1548" cy="815" r="31" fill="#c9eec9"/>
<circle cx="1785" cy="343" r="31" fill="#c9eec9"/>
<circle cx="1785" cy="578" r="31" fill="#c9eec9"/>
<circle cx="1785" cy="815" r="31" fill="#c9eec9"/>
<circle cx="1430" cy="343" r="30" fill="#e22a12"/>
<circle cx="1665" cy="343" r="30" fill="#e22a12"/>
<circle cx="1430" cy="815" r="30" fill="#e22a12"/>
<circle cx="1665" cy="815" r="30" fill="#e22a12"/>
<circle cx="1315" cy="460" r="30" fill="#e22a12"/>
<circle cx="1315" cy="695" r="30" fill="#e22a12"/>
<circle cx="1785" cy="460" r="30" fill="#e22a12"/>
<circle cx="1785" cy="695" r="30" fill="#e22a12"/>
<circle cx="1430" cy="460" r="30" fill="#e22a12"/>
<circle cx="1665" cy="460" r="30" fill="#e22a12"/>
<circle cx="1430" cy="695" r="30" fill="#e22a12"/>
<circle cx="1665" cy="695" r="30" fill="#e22a12"/>
</g>
<g transform="translate(85 1600) scale(0.18632)">
<circle cx="613" cy="552" r="484" fill="#3b06c4" stroke="#d8d8e4" stroke-width="9"/>
<circle cx="615" cy="550" r="130" fill="none" stroke="#fff" stroke-width="6.5"/>
<circle cx="615" cy="548" r="185" fill="none" stroke="#fff" stroke-width="6.5"/>
<circle cx="612" cy="550" r="262" fill="none" stroke="#fff" stroke-width="6.5"/>
<circle cx="610" cy="552" r="305" fill="none" stroke="#fff" stroke-width="6.5"/>
<circle cx="612" cy="548" r="345" fill="none" stroke="#fff" stroke-width="6.5"/>
<circle cx="612" cy="550" r="385" fill="none" stroke="#fff" stroke-width="6.5"/>
<circle cx="608" cy="552" r="405" fill="none" stroke="#fff" stroke-width="6.5"/>
<circle cx="795" cy="1025" r="298" fill="none" stroke="#8f8f8f" stroke-width="4"/>
<line x1="600" y1="790" x2="820" y2="738" stroke="#bfe0f8" stroke-width="5"/>
<line x1="560" y1="825" x2="905" y2="770" stroke="#f3c0b0" stroke-width="5"/>
<line x1="520" y1="890" x2="930" y2="765" stroke="#c9f0b8" stroke-width="5"/>
<line x1="470" y1="925" x2="925" y2="770" stroke="#f4ea60" stroke-width="5"/>
<line x1="500" y1="995" x2="990" y2="822" stroke="#f3b8c0" stroke-width="5"/>
<line x1="540" y1="905" x2="960" y2="790" stroke="#d8b0f0" stroke-width="5"/>
<rect x="585" y="712" width="36" height="62" fill="#bfe0f8"/>
<text x="603" y="764" font-family="Liberation Sans, sans-serif" font-size="54" fill="#333" text-anchor="middle">1</text>
<rect x="527" y="762" width="36" height="62" fill="#f3b8a0"/>
<text x="545" y="814" font-family="Liberation Sans, sans-serif" font-size="54" fill="#333" text-anchor="middle">2</text>
<rect x="482" y="819" width="36" height="62" fill="#b8e8a0"/>
<text x="500" y="871" font-family="Liberation Sans, sans-serif" font-size="54" fill="#333" text-anchor="middle">3</text>
<rect x="439" y="879" width="36" height="62" fill="#f2e84a"/>
<text x="457" y="931" font-family="Liberation Sans, sans-serif" font-size="54" fill="#333" text-anchor="middle">4</text>
<rect x="947" y="727" width="36" height="62" fill="#dcb0ee"/>
<text x="965" y="779" font-family="Liberation Sans, sans-serif" font-size="54" fill="#333" text-anchor="middle">5</text>
<rect x="997" y="789" width="36" height="62" fill="#f3b0b0"/>
<text x="1015" y="841" font-family="Liberation Sans, sans-serif" font-size="54" fill="#333" text-anchor="middle">6</text>
<text x="635" y="580" font-family="Liberation Serif, serif" font-size="113" fill="#fff" text-anchor="middle" textLength="640" lengthAdjust="spacingAndGlyphs">No orientation</text>
<circle cx="835" cy="1058" r="82" fill="#a5d868" fill-opacity="0.55"/>
<circle cx="975" cy="1055" r="82" fill="#a5d868" fill-opacity="0.55"/>
<circle cx="738" cy="1158" r="82" fill="#a5d868" fill-opacity="0.55"/>
<circle cx="875" cy="1158" r="82" fill="#a5d868" fill-opacity="0.55"/>
<line x1="835" y1="1058" x2="770" y2="1025" stroke="#76689a" stroke-width="5"/>
<line x1="835" y1="1058" x2="910" y2="1025" stroke="#76689a" stroke-width="5"/>
<line x1="835" y1="1058" x2="750" y2="1095" stroke="#76689a" stroke-width="5"/>
<line x1="835" y1="1058" x2="890" y2="1092" stroke="#76689a" stroke-width="5"/>
<line x1="835" y1="1058" x2="848" y2="993" stroke="#76689a" stroke-width="5"/>
<line x1="835" y1="1058" x2="810" y2="1120" stroke="#76689a" stroke-width="5"/>
<line x1="975" y1="1055" x2="910" y2="1025" stroke="#76689a" stroke-width="5"/>
<line x1="975" y1="1055" x2="1050" y2="1022" stroke="#76689a" stroke-width="5"/>
<line x1="975" y1="1055" x2="890" y2="1092" stroke="#76689a" stroke-width="5"/>
<line x1="975" y1="1055" x2="955" y2="1125" stroke="#76689a" stroke-width="5"/>
<line x1="975" y1="1055" x2="988" y2="990" stroke="#76689a" stroke-width="5"/>
<line x1="975" y1="1055" x2="1040" y2="1085" stroke="#76689a" stroke-width="5"/>
<line x1="738" y1="1158" x2="750" y2="1095" stroke="#76689a" stroke-width="5"/>
<line x1="738" y1="1158" x2="680" y2="1127" stroke="#76689a" stroke-width="5"/>
<line x1="738" y1="1158" x2="795" y2="1192" stroke="#76689a" stroke-width="5"/>
<line x1="738" y1="1158" x2="718" y2="1225" stroke="#76689a" stroke-width="5"/>
<line x1="738" y1="1158" x2="660" y2="1192" stroke="#76689a" stroke-width="5"/>
<line x1="738" y1="1158" x2="810" y2="1120" stroke="#76689a" stroke-width="5"/>
<line x1="875" y1="1158" x2="890" y2="1092" stroke="#76689a" stroke-width="5"/>
<line x1="875" y1="1158" x2="955" y2="1125" stroke="#76689a" stroke-width="5"/>
<line x1="875" y1="1158" x2="795" y2="1192" stroke="#76689a" stroke-width="5"/>
<line x1="875" y1="1158" x2="860" y2="1225" stroke="#76689a" stroke-width="5"/>
<line x1="875" y1="1158" x2="810" y2="1120" stroke="#76689a" stroke-width="5"/>
<line x1="875" y1="1158" x2="935" y2="1190" stroke="#76689a" stroke-width="5"/>
<circle cx="770" cy="1025" r="15" fill="#7b66a8"/>
<circle cx="910" cy="1025" r="15" fill="#7b66a8"/>
<circle cx="1050" cy="1022" r="15" fill="#7b66a8"/>
<circle cx="750" cy="1095" r="15" fill="#7b66a8"/>
<circle cx="890" cy="1092" r="15" fill="#7b66a8"/>
<circle cx="680" cy="1127" r="15" fill="#7b66a8"/>
<circle cx="955" cy="1125" r="15" fill="#7b66a8"/>
<circle cx="795" cy="1192" r="15" fill="#7b66a8"/>
<circle cx="718" cy="1225" r="15" fill="#7b66a8"/>
<circle cx="860" cy="1225" r="15" fill="#7b66a8"/>
<circle cx="848" cy="993" r="15" fill="#9bd45a"/>
<circle cx="988" cy="990" r="15" fill="#9bd45a"/>
<circle cx="1040" cy="1085" r="15" fill="#9bd45a"/>
<circle cx="660" cy="1192" r="15" fill="#9bd45a"/>
<circle cx="810" cy="1120" r="15" fill="#9bd45a"/>
<circle cx="935" cy="1190" r="15" fill="#9bd45a"/>
<circle cx="835" cy="1058" r="16" fill="#c97c10"/>
<circle cx="975" cy="1055" r="16" fill="#c97c10"/>
<circle cx="738" cy="1158" r="16" fill="#c97c10"/>
<circle cx="875" cy="1158" r="16" fill="#c97c10"/>
<text x="130" y="1355" font-family="Liberation Serif, serif" font-size="106" fill="#111" textLength="775" lengthAdjust="spacingAndGlyphs">Diffraction Rings</text>
<polygon points="1725,160 1714,160 1713,163 1712,166 1711,169 1710,172 1709,175 1707,178 1705,181 1702,184 1699,187 1695,190 1690,193 1683,196 1673,199 1660,202 1642,205 1615,208 1575,211 1518,214 1443,217 1374,220 1361,223 1417,226 1494,229 1558,232 1603,235 1634,238 1655,241 1669,244 1680,247 1687,250 1693,253 1698,256 1701,259 1704,262 1706,265 1708,268 1710,271 1711,274 1712,277 1713,280 1714,283 1714,286 1715,289 1715,292 1716,295 1716,298 1717,301 1717,304 1717,307 1718,310 1718,313 1718,316 1718,319 1718,322 1718,325 1719,328 1719,331 1719,334 1719,337 1719,340 1719,343 1719,346 1719,349 1719,352 1719,355 1719,358 1720,361 1720,364 1720,367 1720,370 1720,373 1720,376 1720,379 1720,382 1720,385 1720,388 1725,390" fill="#f4b9b2"/>
<polygon points="1725,390 1720,390 1720,393 1720,396 1720,399 1720,402 1720,405 1720,408 1720,411 1720,414 1720,417 1720,420 1720,423 1720,426 1720,429 1720,432 1720,435 1720,438 1720,441 1720,444 1720,447 1719,450 1719,453 1719,456 1719,459 1719,462 1719,465 1719,468 1719,471 1719,474 1719,477 1719,480 1718,483 1718,486 1718,489 1718,492 1718,495 1717,498 1717,501 1717,504 1716,507 1716,510 1715,513 1714,516 1713,519 1712,522 1711,525 1709,528 1706,531 1702,534 1696,537 1687,540 1674,543 1652,546 1621,549 1595,552 1601,555 1631,558 1659,561 1678,564 1689,567 1697,570 1701,573 1705,576 1707,579 1708,582 1709,585 1710,588 1710,591 1711,594 1711,597 1710,600 1710,603 1710,606 1709,609 1709,612 1708,615 1725,615" fill="#dba4ea"/>
<polygon points="1725,615 1708,615 1707,618 1706,621 1705,624 1703,627 1701,630 1699,633 1696,636 1693,639 1689,642 1684,645 1677,648 1668,651 1656,654 1640,657 1618,660 1586,663 1538,666 1468,669 1373,672 1269,675 1219,678 1268,681 1371,684 1466,687 1536,690 1582,693 1614,696 1636,699 1651,702 1661,705 1669,708 1674,711 1678,714 1681,717 1682,720 1725,722" fill="#f5ea5c"/>
<polygon points="1725,722 1682,722 1682,725 1681,728 1679,731 1675,734 1670,737 1663,740 1653,743 1639,746 1619,749 1591,752 1548,755 1485,758 1396,761 1288,764 1210,767 1228,770 1325,773 1431,776 1512,779 1568,782 1605,785 1632,788 1650,791 1663,794 1673,797 1681,800 1687,803 1691,806 1695,809 1698,812 1701,815 1703,818 1705,821 1706,824 1708,827 1709,830 1710,833 1711,836 1711,839 1712,842 1713,845 1713,848 1714,851 1714,854 1714,857 1715,860 1715,863 1715,866 1716,869 1716,872 1716,875 1716,878 1716,881 1717,884 1717,887 1717,890 1725,890" fill="#c6f0b6"/>
<polygon points="1725,890 1717,890 1717,893 1717,896 1717,899 1717,902 1717,905 1717,908 1717,911 1717,914 1717,917 1717,920 1717,923 1717,926 1717,929 1717,932 1717,935 1717,938 1716,941 1716,944 1716,947 1716,950 1715,953 1715,956 1714,959 1714,962 1713,965 1712,968 1711,971 1709,974 1708,977 1705,980 1702,983 1698,986 1692,989 1684,992 1671,995 1651,998 1619,1001 1570,1004 1509,1007 1475,1010 1509,1013 1570,1016 1619,1019 1651,1022 1671,1025 1683,1028 1692,1031 1698,1034 1702,1037 1705,1040 1708,1043 1709,1046 1711,1049 1712,1052 1713,1055 1714,1058 1714,1061 1715,1064 1715,1067 1715,1070 1716,1073 1716,1076 1716,1079 1716,1082 1716,1085 1716,1088 1716,1091 1716,1094 1716,1097 1716,1100 1716,1103 1716,1106 1716,1109 1716,1112 1716,1115 1725,1115" fill="#f5b9a8"/>
<polygon points="1725,1115 1716,1115 1716,1118 1716,1121 1715,1124 1715,1127 1715,1130 1714,1133 1714,1136 1714,1139 1713,1142 1713,1145 1712,1148 1711,1151 1710,1154 1709,1157 1708,1160 1707,1163 1706,1166 1704,1169 1702,1172 1700,1175 1697,1178 1693,1181 1689,1184 1684,1187 1677,1190 1668,1193 1656,1196 1641,1199 1619,1202 1589,1205 1544,1208 1479,1211 1383,1214 1259,1217 1145,1220 1124,1223 1216,1226 1344,1229 1451,1232 1525,1235 1576,1238 1611,1241 1635,1244 1652,1247 1665,1250 1674,1253 1682,1256 1688,1259 1692,1262 1696,1265 1699,1268 1702,1271 1704,1274 1706,1277 1707,1280 1709,1283 1710,1286 1711,1289 1712,1292 1712,1295 1713,1298 1714,1301 1714,1304 1715,1307 1715,1310 1716,1313 1716,1316 1716,1319 1717,1322 1717,1325 1717,1328 1718,1331 1718,1334 1718,1337 1718,1340 1718,1343 1718,1346 1719,1349 1719,1352 1719,1355 1719,1358 1719,1361 1719,1364 1719,1367 1719,1370 1720,1373 1720,1376 1725,1377" fill="#bcdcf5"/>
<polyline points="1714,160 1713,163 1712,166 1711,169 1710,172 1709,175 1707,178 1705,181 1702,184 1699,187 1695,190 1690,193 1683,196 1673,199 1660,202 1642,205 1615,208 1575,211 1518,214 1443,217 1374,220 1361,223 1417,226 1494,229 1558,232 1603,235 1634,238 1655,241 1669,244 1680,247 1687,250 1693,253 1698,256 1701,259 1704,262 1706,265 1708,268 1710,271 1711,274 1712,277 1713,280 1714,283 1714,286 1715,289 1715,292 1716,295 1716,298 1717,301 1717,304 1717,307 1718,310 1718,313 1718,316 1718,319 1718,322 1718,325 1719,328 1719,331 1719,334 1719,337 1719,340 1719,343 1719,346 1719,349 1719,352 1719,355 1719,358 1720,361 1720,364 1720,367 1720,370 1720,373 1720,376 1720,379 1720,382 1720,385 1720,388 1720,391 1720,394 1720,397 1720,400 1720,403 1720,406 1720,409 1720,412 1720,415 1720,418 1720,421 1720,424 1720,427 1720,430 1720,433 1720,436 1720,439 1720,442 1720,445 1719,448 1719,451 1719,454 1719,457 1719,460 1719,463 1719,466 1719,469 1719,472 1719,475 1719,478 1719,481 1718,484 1718,487 1718,490 1718,493 1718,496 1717,499 1717,502 1717,505 1716,508 1716,511 1715,514 1714,517 1713,520 1712,523 1710,526 1708,529 1705,532 1700,535 1694,538 1683,541 1667,544 1642,547 1610,550 1593,553 1610,556 1642,559 1666,562 1682,565 1692,568 1699,571 1703,574 1705,577 1707,580 1709,583 1709,586 1710,589 1710,592 1711,595 1711,598 1710,601 1710,604 1710,607 1709,610 1709,613 1708,616 1707,619 1706,622 1704,625 1703,628 1701,631 1698,634 1695,637 1692,640 1687,643 1682,646 1674,649 1665,652 1652,655 1634,658 1609,661 1572,664 1518,667 1439,670 1337,673 1243,676 1225,679 1301,682 1406,685 1492,688 1553,691 1594,694 1622,697 1641,700 1655,703 1664,706 1671,709 1676,712 1679,715 1681,718 1682,721 1682,724 1681,727 1680,730 1677,733 1672,736 1666,739 1657,742 1644,745 1627,748 1602,751 1564,754 1509,757 1429,760 1324,763 1227,766 1210,769 1288,772 1397,775 1488,778 1551,781 1594,784 1624,787 1645,790 1659,793 1670,796 1679,799 1685,802 1690,805 1694,808 1697,811 1700,814 1702,817 1704,820 1706,823 1707,826 1708,829 1709,832 1710,835 1711,838 1712,841 1712,844 1713,847 1713,850 1714,853 1714,856 1715,859 1715,862 1715,865 1716,868 1716,871 1716,874 1716,877 1716,880 1717,883 1717,886 1717,889 1717,892 1717,895 1717,898 1717,901 1717,904 1717,907 1717,910 1717,913 1717,916 1717,919 1717,922 1717,925 1717,928 1717,931 1717,934 1717,937 1717,940 1716,943 1716,946 1716,949 1715,952 1715,955 1715,958 1714,961 1713,964 1712,967 1711,970 1710,973 1708,976 1706,979 1703,982 1700,985 1694,988 1687,991 1676,994 1659,997 1632,1000 1589,1003 1529,1006 1479,1009 1491,1012 1550,1015 1605,1018 1642,1021 1665,1024 1680,1027 1689,1030 1696,1033 1701,1036 1704,1039 1707,1042 1709,1045 1710,1048 1712,1051 1712,1054 1713,1057 1714,1060 1714,1063 1715,1066 1715,1069 1716,1072 1716,1075 1716,1078 1716,1081 1716,1084 1716,1087 1716,1090 1716,1093 1716,1096 1716,1099 1716,1102 1716,1105 1716,1108 1716,1111 1716,1114 1716,1117 1716,1120 1715,1123 1715,1126 1715,1129 1715,1132 1714,1135 1714,1138 1713,1141 1713,1144 1712,1147 1711,1150 1711,1153 1710,1156 1709,1159 1708,1162 1706,1165 1705,1168 1703,1171 1700,1174 1698,1177 1695,1180 1691,1183 1686,1186 1679,1189 1671,1192 1661,1195 1647,1198 1627,1201 1600,1204 1561,1207 1503,1210 1419,1213 1302,1216 1177,1219 1116,1222 1177,1225 1302,1228 1419,1231 1504,1234 1561,1237 1600,1240 1628,1243 1647,1246 1661,1249 1671,1252 1680,1255 1686,1258 1691,1261 1695,1264 1698,1267 1701,1270 1703,1273 1705,1276 1707,1279 1708,1282 1709,1285 1710,1288 1711,1291 1712,1294 1713,1297 1714,1300 1714,1303 1715,1306 1715,1309 1716,1312 1716,1315 1716,1318 1717,1321 1717,1324 1717,1327 1717,1330 1718,1333 1718,1336 1718,1339 1718,1342 1718,1345 1719,1348 1719,1351 1719,1354 1719,1357 1719,1360 1719,1363 1719,1366 1719,1369 1719,1372 1720,1375" fill="none" stroke="#1a1a1a" stroke-width="4"/>
<text transform="translate(1498 198) rotate(-90)" font-family="Liberation Sans, sans-serif" font-size="50" fill="#333" text-anchor="middle">6</text>
<text transform="translate(1647 529) rotate(-90)" font-family="Liberation Sans, sans-serif" font-size="50" fill="#333" text-anchor="middle">5</text>
<text transform="translate(1416 654) rotate(-90)" font-family="Liberation Sans, sans-serif" font-size="50" fill="#333" text-anchor="middle">4</text>
<text transform="translate(1406 744) rotate(-90)" font-family="Liberation Sans, sans-serif" font-size="50" fill="#333" text-anchor="middle">3</text>
<text transform="translate(1573 986) rotate(-90)" font-family="Liberation Sans, sans-serif" font-size="50" fill="#333" text-anchor="middle">2</text>
<text transform="translate(1349 1198) rotate(-90)" font-family="Liberation Sans, sans-serif" font-size="50" fill="#333" text-anchor="middle">1</text>
</g>
<g transform="translate(415 1390) scale(0.33113)">
<polygon points="203,290 251,290 251,452 203,452" fill="#ececec" stroke="#999" stroke-width="2"/>
<polygon points="203,290 268,225 316,225 251,290" fill="#dcdcdc" stroke="#999" stroke-width="2"/>
<polygon points="251,290 316,225 316,387 251,452" fill="#bdbdbd" stroke="#999" stroke-width="2"/>
<polygon points="373,290 421,290 421,452 373,452" fill="#ececec" stroke="#999" stroke-width="2"/>
<polygon points="373,290 438,225 486,225 421,290" fill="#dcdcdc" stroke="#999" stroke-width="2"/>
<polygon points="421,290 486,225 486,387 421,452" fill="#bdbdbd" stroke="#999" stroke-width="2"/>
<polygon points="552,290 600,290 600,452 552,452" fill="#ececec" stroke="#999" stroke-width="2"/>
<polygon points="552,290 617,225 665,225 600,290" fill="#dcdcdc" stroke="#999" stroke-width="2"/>
<polygon points="600,290 665,225 665,387 600,452" fill="#bdbdbd" stroke="#999" stroke-width="2"/>
<rect x="205" y="285" width="25" height="27" fill="#d4ecc8" stroke="#6a7a5a" stroke-width="1.5"/>
<rect x="205" y="312" width="25" height="27" fill="#d4ecc8" stroke="#6a7a5a" stroke-width="1.5"/>
<rect x="205" y="339" width="25" height="27" fill="#d4ecc8" stroke="#6a7a5a" stroke-width="1.5"/>
<rect x="230" y="285" width="25" height="27" fill="#f3c8c8" stroke="#6a7a5a" stroke-width="1.5"/>
<rect x="230" y="312" width="25" height="27" fill="#f3c8c8" stroke="#6a7a5a" stroke-width="1.5"/>
<rect x="230" y="339" width="25" height="27" fill="#f3c8c8" stroke="#6a7a5a" stroke-width="1.5"/>
<rect x="255" y="285" width="25" height="27" fill="#f8f3c0" stroke="#6a7a5a" stroke-width="1.5"/>
<rect x="255" y="312" width="25" height="27" fill="#f8f3c0" stroke="#6a7a5a" stroke-width="1.5"/>
<rect x="255" y="339" width="25" height="27" fill="#f8f3c0" stroke="#6a7a5a" stroke-width="1.5"/>
<polygon points="205,285 230,262 305,262 280,285" fill="#e4f0d0" stroke="#6a7a5a" stroke-width="1.5"/><polygon points="280,285 305,262 305,343 280,366" fill="#f3efb8" stroke="#6a7a5a" stroke-width="1.5"/>
<rect x="375" y="288" width="24" height="26" fill="#d4ecc8" stroke="#6a7a5a" stroke-width="1.5"/>
<rect x="399" y="288" width="24" height="26" fill="#f3c8c8" stroke="#6a7a5a" stroke-width="1.5"/>
<rect x="423" y="288" width="24" height="26" fill="#f8f3c0" stroke="#6a7a5a" stroke-width="1.5"/>
<polygon points="375,288 385,280 457,280 447,288" fill="#f0f0d8" stroke="#6a7a5a" stroke-width="1.2"/>
<rect x="553" y="285" width="25" height="25" fill="#4f74e0" stroke="#2a3a90" stroke-width="1.5"/><polygon points="553,285 561,278 586,278 578,285" fill="#7f9cf0"/><polygon points="578,285 586,278 586,303 578,310" fill="#3858b8"/>
<path d="M285 320 C320 320 330 300 362 300" fill="none" stroke="#e03020" stroke-width="3"/><polygon points="358,293 374,300 358,307" fill="#e03020"/>
<line x1="450" y1="298" x2="540" y2="298" stroke="#e03020" stroke-width="3"/><polygon points="538,291 553,298 538,305" fill="#e03020"/>
<circle cx="459" cy="590" r="39" fill="#f5d23e" stroke="#8a8a70" stroke-width="2.5"/>
<text x="459" y="608" font-family="Liberation Sans, sans-serif" font-size="58" text-anchor="middle" fill="#111">o</text>
<rect x="305" y="697" width="300" height="98" fill="#cdd3e0" stroke="#56689c" stroke-width="3"/>
<text x="455" y="768" font-family="Liberation Sans, sans-serif" font-size="62" text-anchor="middle" fill="#111">h</text>
<path d="M395 795 L395 828 L245 828 L245 645 L390 645 L390 675" fill="none" stroke="#222" stroke-width="3"/><polygon points="377,672 403,672 390,698" fill="#111"/>
<line x1="459" y1="697" x2="459" y2="655" stroke="#222" stroke-width="3"/><polygon points="446,656 472,656 459,630" fill="#111"/>
<line x1="457" y1="865" x2="457" y2="822" stroke="#222" stroke-width="3"/><polygon points="444,823 470,823 457,797" fill="#111"/>
<text x="222" y="770" font-family="Liberation Sans, sans-serif" font-size="56" text-anchor="middle" fill="#111">v</text>
<circle cx="457" cy="903" r="38" fill="#e1f0dc" stroke="#8a9a90" stroke-width="2.5"/>
<text x="457" y="922" font-family="Liberation Sans, sans-serif" font-size="58" text-anchor="middle" fill="#111">x</text>
<rect x="340" y="1048" width="310" height="90" fill="#aebaf3" stroke="#4c5ca2" stroke-width="3"/>
<text x="495" y="1116" font-family="Liberation Sans, sans-serif" font-size="60" text-anchor="middle" fill="#111">MatMul</text>
<rect x="215" y="1213" width="292" height="75" fill="#f2caca" stroke="#6c5c84" stroke-width="3"/>
<text x="361" y="1271" font-family="Liberation Sans, sans-serif" font-size="58" text-anchor="middle" fill="#111">MatMul</text>
<line x1="443" y1="1213" x2="443" y2="1168" stroke="#222" stroke-width="3"/><polygon points="430,1170 456,1170 443,1142" fill="#111"/>
<line x1="585" y1="1380" x2="585" y2="1175" stroke="#222" stroke-width="3"/><polygon points="572,1177 598,1177 585,1149" fill="#111"/>
<line x1="270" y1="1380" x2="270" y2="1322" stroke="#222" stroke-width="3"/><polygon points="257,1324 283,1324 270,1296" fill="#111"/>
<line x1="425" y1="1380" x2="425" y2="1322" stroke="#222" stroke-width="3"/><polygon points="412,1324 438,1324 425,1296" fill="#111"/>
<text x="290" y="1378" font-family="Liberation Sans, sans-serif" font-size="60" fill="#111">Q</text>
<text x="452" y="1378" font-family="Liberation Sans, sans-serif" font-size="60" fill="#111">K</text>
<text x="603" y="1378" font-family="Liberation Sans, sans-serif" font-size="60" fill="#111">V</text>
</g>
<g transform="translate(690 1390) scale(0.33113)">
<polygon points="172,215 522,215 578,268 238,268" fill="none" stroke="#ccc" stroke-width="2"/><polygon points="172,420 522,420 578,478 225,478" fill="none" stroke="#ccc" stroke-width="2"/>
<line x1="172" y1="215" x2="172" y2="420" stroke="#ccc" stroke-width="2"/><line x1="522" y1="215" x2="522" y2="420" stroke="#ccc" stroke-width="2"/><line x1="578" y1="268" x2="578" y2="478" stroke="#ccc" stroke-width="2"/>
<line x1="238" y1="268" x2="578" y2="268" stroke="#111" stroke-width="3"/><line x1="238" y1="268" x2="225" y2="468" stroke="#111" stroke-width="3"/>
<line x1="352" y1="210" x2="320" y2="265" stroke="#d8c820" stroke-width="9"/>
<line x1="378" y1="240" x2="320" y2="265" stroke="#d8c820" stroke-width="9"/>
<line x1="407" y1="268" x2="435" y2="312" stroke="#d8c820" stroke-width="9"/>
<line x1="212" y1="242" x2="265" y2="295" stroke="#d8c820" stroke-width="9"/>
<line x1="548" y1="240" x2="492" y2="268" stroke="#d8c820" stroke-width="9"/>
<line x1="520" y1="212" x2="492" y2="268" stroke="#d8c820" stroke-width="9"/>
<line x1="222" y1="395" x2="195" y2="448" stroke="#d8c820" stroke-width="9"/>
<line x1="172" y1="420" x2="222" y2="395" stroke="#d8c820" stroke-width="9"/>
<line x1="340" y1="412" x2="392" y2="475" stroke="#d8c820" stroke-width="9"/>
<line x1="397" y1="378" x2="360" y2="440" stroke="#d8c820" stroke-width="9"/>
<line x1="340" y1="412" x2="360" y2="440" stroke="#d8c820" stroke-width="9"/>
<line x1="510" y1="418" x2="563" y2="472" stroke="#d8c820" stroke-width="9"/>
<line x1="510" y1="418" x2="535" y2="445" stroke="#d8c820" stroke-width="9"/>
<circle cx="182" cy="212" r="16" fill="#a39a9c"/>
<circle cx="238" cy="268" r="16" fill="#a39a9c"/>
<circle cx="378" cy="240" r="16" fill="#a39a9c"/>
<circle cx="520" cy="212" r="16" fill="#a39a9c"/>
<circle cx="578" cy="268" r="16" fill="#a39a9c"/>
<circle cx="172" cy="420" r="16" fill="#a39a9c"/>
<circle cx="222" cy="470" r="16" fill="#a39a9c"/>
<circle cx="360" cy="440" r="16" fill="#a39a9c"/>
<circle cx="563" cy="472" r="16" fill="#a39a9c"/>
<circle cx="352" cy="210" r="16" fill="#e58a10"/>
<circle cx="212" cy="242" r="16" fill="#e58a10"/>
<circle cx="407" cy="268" r="16" fill="#e58a10"/>
<circle cx="548" cy="240" r="16" fill="#e58a10"/>
<circle cx="195" cy="448" r="16" fill="#e58a10"/>
<circle cx="392" cy="475" r="16" fill="#e58a10"/>
<circle cx="535" cy="445" r="16" fill="#e58a10"/>
<circle cx="265" cy="295" r="16" fill="#f2ee1c"/>
<circle cx="320" cy="265" r="16" fill="#f2ee1c"/>
<circle cx="435" cy="312" r="16" fill="#f2ee1c"/>
<circle cx="492" cy="268" r="16" fill="#f2ee1c"/>
<circle cx="222" cy="395" r="16" fill="#f2ee1c"/>
<circle cx="340" cy="412" r="16" fill="#f2ee1c"/>
<circle cx="397" cy="378" r="16" fill="#f2ee1c"/>
<circle cx="510" cy="418" r="16" fill="#f2ee1c"/>
<line x1="127" y1="372" x2="120" y2="450" stroke="#b02020" stroke-width="3"/><line x1="120" y1="450" x2="143" y2="478" stroke="#208030" stroke-width="3"/>
<text x="122" y="364" font-family="Liberation Sans, sans-serif" font-size="16" fill="#b02020">a</text><text x="142" y="496" font-family="Liberation Sans, sans-serif" font-size="16" fill="#208030">b</text>
</g>
<defs><radialGradient id="cs" cx="0.32" cy="0.45" r="0.7"><stop offset="0" stop-color="#f8ecec"/><stop offset="0.5" stop-color="#d4a8a8"/><stop offset="1" stop-color="#96585a"/></radialGradient><radialGradient id="cc" cx="0.5" cy="0.5" r="0.5"><stop offset="0" stop-color="#c99c9c"/><stop offset="0.8" stop-color="#a06466"/><stop offset="1" stop-color="#7a3436"/></radialGradient><radialGradient id="cw" cx="0.5" cy="0.5" r="0.5"><stop offset="0" stop-color="#fff"/><stop offset="0.7" stop-color="#f0dede"/><stop offset="1" stop-color="#c9a0a0"/></radialGradient></defs>
<g transform="translate(715 1630) scale(0.11734)">
<clipPath id="hexc"><polygon points="305,330 830,100 1420,318 1420,1030 905,1262 305,1050"/></clipPath>
<polygon points="305,330 830,100 1420,318 1420,1030 905,1262 305,1050" fill="#fff"/>
<g clip-path="url(#hexc)">
<circle cx="830" cy="820" r="300" fill="url(#cc)"/>
<ellipse cx="848" cy="688" rx="342" ry="320" fill="url(#cs)"/>
<circle cx="305" cy="1050" r="305" fill="url(#cc)"/>
<circle cx="305" cy="330" r="335" fill="url(#cc)"/>
<circle cx="830" cy="100" r="262" fill="url(#cc)"/>
<circle cx="1420" cy="318" r="318" fill="url(#cc)"/>
<circle cx="1420" cy="1030" r="312" fill="url(#cw)"/>
</g>
<clipPath id="unit"><rect x="0" y="0" width="1" height="1"/></clipPath>
<g transform="matrix(525 -230 600 205 305 330)"><g clip-path="url(#unit)">
<circle cx="0" cy="0" r="0.433" fill="#d3b0b2" stroke="#5a3a3a" stroke-width="0.004"/>
<circle cx="1" cy="0" r="0.433" fill="#d3b0b2" stroke="#5a3a3a" stroke-width="0.004"/>
<circle cx="0" cy="1" r="0.433" fill="#d3b0b2" stroke="#5a3a3a" stroke-width="0.004"/>
<circle cx="1" cy="1" r="0.433" fill="#d3b0b2" stroke="#5a3a3a" stroke-width="0.004"/>
</g></g>
<g transform="matrix(600 205 0 720 305 330)"><g clip-path="url(#unit)">
<circle cx="0" cy="0" r="0.433" fill="#ffffff" stroke="#666" stroke-width="0.004"/>
<circle cx="1" cy="0" r="0.433" fill="#ffffff" stroke="#666" stroke-width="0.004"/>
<circle cx="0" cy="1" r="0.433" fill="#ffffff" stroke="#666" stroke-width="0.004"/>
<circle cx="1" cy="1" r="0.433" fill="#ffffff" stroke="#666" stroke-width="0.004"/>
</g></g>
<g transform="matrix(515 -217 0 727 905 535)"><g clip-path="url(#unit)">
<circle cx="0" cy="0" r="0.433" fill="#4c1c1c" stroke="#2a0c0c" stroke-width="0.004"/>
<circle cx="1" cy="0" r="0.433" fill="#4c1c1c" stroke="#2a0c0c" stroke-width="0.004"/>
<circle cx="0" cy="1" r="0.433" fill="#4c1c1c" stroke="#2a0c0c" stroke-width="0.004"/>
<circle cx="1" cy="1" r="0.433" fill="#4c1c1c" stroke="#2a0c0c" stroke-width="0.004"/>
</g></g>
<polygon points="305,330 830,100 1420,318 905,535" fill="none" stroke="#222" stroke-width="4"/><polygon points="305,330 905,535 905,1262 305,1050" fill="none" stroke="#222" stroke-width="4"/><polygon points="905,535 1420,318 1420,1030 905,1262" fill="none" stroke="#222" stroke-width="4"/>
<line x1="305" y1="330" x2="1420" y2="1030" stroke="#3aa24e" stroke-width="15"/><line x1="305" y1="1050" x2="1420" y2="1030" stroke="#111" stroke-width="12"/>
<path d="M75 1158 L305 1050 M140 1130 L730 1340 M655 1372 L905 1262 L1215 1380 M1150 1340 L1385 1250 M1160 1160 L1440 1265" fill="none" stroke="#888" stroke-width="3"/>
<text x="948" y="672" font-family="Liberation Sans, sans-serif" font-size="78" font-style="italic" font-weight="bold" fill="#3aa24e">4r</text><text x="950" y="897" font-family="Liberation Sans, sans-serif" font-size="76" font-style="italic" font-weight="bold" fill="#111">d</text>
<text x="165" y="715" font-family="Liberation Sans, sans-serif" font-size="72" font-weight="bold" fill="#111">a</text><text x="328" y="1320" font-family="Liberation Sans, sans-serif" font-size="98" fill="#111">a</text><text x="1305" y="1385" font-family="Liberation Sans, sans-serif" font-size="98" fill="#111">r</text>
</g>
</g>
<defs><filter id="blur6" x="-30%" y="-80%" width="160%" height="260%"><feGaussianBlur stdDeviation="6"/></filter><filter id="blur3" x="-30%" y="-80%" width="160%" height="260%"><feGaussianBlur stdDeviation="3.5"/></filter><filter id="b1"><feGaussianBlur stdDeviation="0.5"/></filter><radialGradient id="sph" cx="0.42" cy="0.4" r="0.65"><stop offset="0" stop-color="#b4b4b4"/><stop offset="0.75" stop-color="#a8a8a8"/><stop offset="1" stop-color="#6a6a6a"/></radialGradient><linearGradient id="oarr" x1="0" y1="0" x2="1" y2="0"><stop offset="0" stop-color="#f8b060" stop-opacity="0"/><stop offset="0.5" stop-color="#f09030" stop-opacity="0.85"/><stop offset="1" stop-color="#e87408"/></linearGradient></defs>
<g transform="translate(1070 1270) scale(0.31056)">
<path d="M275 234L301 217M223 268L197 285M262 278L275 306M236 224L222 196M234 246L220 241M263 256L278 261M249 322L275 306M198 356L172 373M237 367L250 394M210 312L197 285M209 334L195 329M238 344L252 350M194 257L220 241M142 291L116 308M181 302L195 329M155 247L142 220M154 269L139 264M183 279L197 285M379 167L404 150M327 200L301 217M366 211L379 238M339 156L326 129M338 178L324 173M367 189L381 194M353 255L379 238M301 289L275 306M341 299L354 327M314 245L301 217M342 277L356 282M328 343L354 327M276 377L250 394M315 388L328 415M289 333L275 306M316 365L331 371M303 432L328 415M251 465L225 482M290 476L303 503M263 421L250 394M262 443L248 438M291 454L305 459M298 190L324 173M246 224L220 241M259 180L245 152M257 202L243 197M286 212L301 217M221 312L195 329M233 268L220 241M261 300L275 306M457 188L483 171M405 221L379 238M444 232L457 259M418 177L404 150M416 199L402 194M445 210L460 215M195 400L169 417M234 411L248 438M208 356L195 329M207 378L192 373M236 389L250 394M432 276L457 259M380 310L354 327M419 320L432 348M392 266L379 238M420 298L434 303M406 364L432 348M354 398L328 415M394 409L407 436M367 354L354 327M395 386L409 391M381 453L407 436M329 486L303 503M368 497L381 524M342 442L328 415M341 464L326 459M369 475L384 480M217 214L243 197M165 247L139 264M178 203L165 176M177 225L162 220M206 236L220 241M401 123L427 106M350 156L324 173M389 167L402 194M362 112L349 85M361 135L347 129M390 145L404 150M140 336L114 352M179 346L192 373M153 291L139 264M151 314L137 308M180 324L195 329M376 211L402 194M337 201L324 173M365 233L379 238M339 321L354 327M274 421L248 438M313 432L326 459M314 410L328 415M510 297L536 280M458 331L432 348M497 341L510 369M471 287L457 259M470 309L455 304M498 319L513 324M300 476L326 459M248 510L222 527M287 520L301 548M261 466L248 438M260 488L245 483M289 498L303 503M485 385L510 369M433 419L407 436M472 429L485 457M445 375L432 348M444 397L430 392M473 407L488 412M136 237L162 220M84 271L59 287M124 281L137 308M97 226L84 199M96 249L82 243M125 259L139 264M321 146L347 129M269 180L243 197M282 136L268 108M280 158L266 153M309 168L324 173M256 224L243 197M218 357L192 373M454 232L480 215M442 276L455 304M415 222L402 194M414 244L400 239M443 254L457 259M193 445L167 462M232 455L245 483M206 401L192 373M204 423L190 418M233 433L248 438M429 320L455 304M416 365L430 392M418 342L432 348M404 409L430 392M352 442L326 459M391 453L404 480M363 420L349 415M392 431L407 436M240 170L266 153M188 203L162 220M201 159L188 132M200 181L185 176M229 192L243 197M163 292L137 308M176 247L162 220M174 270L160 264M399 167L425 150M386 211L400 239M360 157L347 129M359 179L344 174M388 189L402 194M138 380L112 397M177 390L190 418M150 336L137 308M149 358L135 353M178 368L192 373M374 255L400 239M336 388L349 415M323 432L349 415M271 466L245 483M310 476L324 504M283 444L268 439M312 454L326 459M508 341L533 325M456 375L430 392M495 386L508 413M468 331L455 304M467 353L453 348M496 363L510 369M159 193L185 176M107 227L82 243M147 237L160 264M120 183L107 155M119 205L104 200M148 215L162 220M344 102L370 85M292 136L266 153M331 146L344 174M305 92L291 64M303 114L289 109M332 124L347 129M134 281L160 264M82 315L56 332M121 325L135 353M95 271L82 243M94 293L79 288M122 303L137 308M318 191L344 174M279 180L266 153M278 202L264 197M253 291L238 285M216 401L190 418M255 411L268 439M227 379L213 374M452 276L478 260M439 321L453 348M413 266L400 239M412 288L397 283M441 298L455 304M242 456L268 439M191 489L165 506M230 500L243 527M203 445L190 418M202 467L188 462M231 477L245 483M427 365L453 348M375 398L349 415M414 409L427 436M386 376L372 371M415 387L430 392M263 126L289 109M211 159L185 176M250 170L264 197M224 115L211 88M223 137L208 132M251 148L266 153M238 214L264 197M186 248L160 264M225 258L238 285M198 203L185 176M197 226L183 221M212 302L238 285M160 336L135 353M200 346L213 374M173 292L160 264M172 314L158 309M397 212L423 195M384 256L397 283M358 201L344 174M356 223L342 218M385 234L400 239M187 391L213 374M135 424L109 441M174 435L188 462M148 380L135 353M147 402L132 397M176 413L190 418M371 300L397 283M359 344L372 371M331 312L317 306M346 388L372 371M294 422L268 439M333 432L347 460M306 400L291 395M335 410L349 415M341 147L367 130M289 180L264 197M329 191L342 218M302 136L289 109M301 158L287 153M330 169L344 174M316 235L342 218M264 269L238 285M303 279L317 306M277 224L264 197M276 247L261 241M291 323L317 306M239 357L213 374M278 367L291 395M251 313L238 285M250 335L236 330M265 412L291 395M213 445L188 462M253 456L266 483M226 401L213 374M225 423L211 418M254 434L268 439M450 321L476 304M398 355L372 371M437 365L450 392M411 310L397 283M409 333L395 327M438 343L453 348M394 256L420 239M343 290L317 306M382 300L395 327M355 245L342 218M354 268L340 262M383 278L397 283M369 344L395 327M317 378L291 395M356 388L370 416M330 334L317 306M329 356L314 351M358 366L372 371" stroke="#4a74c8" stroke-width="4.2" fill="none"/>
<path d="M249 251L275 234M249 251L223 268M249 251L262 278M249 251L236 224M249 251L234 246M249 251L263 256M168 274L194 257M168 274L142 291M168 274L181 302M168 274L155 247M168 274L154 269M168 274L183 279M327 272L353 255M327 272L301 289M327 272L341 299M327 272L314 245M327 272L342 277M277 449L303 432M277 449L251 465M277 449L290 476M277 449L263 421M277 449L262 443M277 449L291 454M272 207L298 190M272 207L246 224M272 207L259 180M272 207L257 202M272 207L286 212M431 205L457 188M431 205L405 221M431 205L444 232M431 205L418 177M431 205L416 199M431 205L445 210M406 293L432 276M406 293L380 310M406 293L419 320M406 293L392 266M406 293L420 298M355 470L381 453M355 470L329 486M355 470L368 497M355 470L342 442M355 470L341 464M355 470L369 475M191 230L217 214M191 230L165 247M191 230L178 203M191 230L177 225M191 230L206 236M166 319L140 336M166 319L179 346M166 319L153 291M166 319L151 314M166 319L180 324M325 316L339 321M484 314L510 297M484 314L458 331M484 314L497 341M484 314L471 287M484 314L470 309M484 314L498 319M274 493L300 476M274 493L248 510M274 493L287 520M274 493L261 466M274 493L260 488M274 493L289 498M110 254L136 237M110 254L84 271M110 254L124 281M110 254L97 226M110 254L96 249M110 254L125 259M269 251L256 224M429 249L454 232M429 249L442 276M429 249L415 222M429 249L414 244M429 249L443 254M219 428L193 445M219 428L232 455M219 428L206 401M219 428L204 423M219 428L233 433M378 426L404 409M378 426L352 442M378 426L391 453M378 426L363 420M378 426L392 431M189 275L163 292M189 275L176 247M189 275L174 270M163 363L138 380M163 363L177 390M163 363L150 336M163 363L149 358M163 363L178 368M348 272L374 255M297 449L323 432M297 449L271 466M297 449L310 476M297 449L283 444M297 449L312 454M133 210L159 193M133 210L107 227M133 210L147 237M133 210L120 183M133 210L119 205M133 210L148 215M108 298L134 281M108 298L82 315M108 298L121 325M108 298L95 271M108 298L94 293M108 298L122 303M292 207L318 191M292 207L279 180M292 207L278 202M242 384L216 401M242 384L255 411M242 384L227 379M216 472L242 456M216 472L191 489M216 472L230 500M216 472L203 445M216 472L202 467M216 472L231 477M237 142L263 126M237 142L211 159M237 142L250 170M237 142L224 115M237 142L223 137M237 142L251 148M212 231L238 214M212 231L186 248M212 231L225 258M212 231L198 203M212 231L197 226M371 228L397 212M371 228L384 256M371 228L358 201M371 228L356 223M371 228L385 234M345 317L371 300M345 317L359 344M345 317L331 312M315 163L341 147M315 163L289 180M315 163L329 191M315 163L302 136M315 163L301 158M315 163L330 169M290 252L316 235M290 252L264 269M290 252L303 279M290 252L277 224M290 252L276 247M239 428L265 412M239 428L213 445M239 428L253 456M239 428L226 401M239 428L225 423M239 428L254 434M368 273L394 256M368 273L343 290M368 273L382 300M368 273L355 245M368 273L354 268M368 273L383 278" stroke="#4a1f50" stroke-width="4.2" fill="none"/>
<path d="M224 339L249 322M224 339L198 356M224 339L237 367M224 339L210 312M224 339L209 334M224 339L238 344M302 360L328 343M302 360L276 377M302 360L315 388M302 360L289 333M302 360L316 365M247 295L221 312M247 295L233 268M247 295L261 300M380 381L406 364M380 381L354 398M380 381L394 409M380 381L367 354M380 381L395 386M376 140L401 123M376 140L350 156M376 140L389 167M376 140L362 112M376 140L361 135M376 140L390 145M300 405L274 421M300 405L313 432M300 405L314 410M459 402L485 385M459 402L433 419M459 402L472 429M459 402L445 375M459 402L444 397M459 402L473 407M244 340L218 357M403 337L429 320M403 337L416 365M403 337L418 342M373 184L399 167M373 184L386 211M373 184L360 157M373 184L359 179M373 184L388 189M323 361L336 388M318 119L344 102M318 119L292 136M318 119L331 146M318 119L305 92M318 119L303 114M318 119L332 124M267 296L253 291M401 382L427 365M401 382L375 398M401 382L414 409M401 382L386 376M401 382L415 387M186 319L212 302M186 319L160 336M186 319L200 346M186 319L173 292M186 319L172 314M320 405L346 388M320 405L294 422M320 405L333 432M320 405L306 400M320 405L335 410M265 340L291 323M265 340L239 357M265 340L278 367M265 340L251 313M265 340L250 335M343 361L369 344M343 361L317 378M343 361L356 388M343 361L330 334M343 361L329 356M343 361L358 366" stroke="#8e8ea0" stroke-width="4.2" fill="none"/>
<path d="M353 184L379 167M353 184L327 200M353 184L366 211M353 184L339 156M353 184L338 178M353 184L367 189M221 384L195 400M221 384L234 411M221 384L208 356M221 384L207 378M221 384L236 389M350 228L376 211M350 228L337 201M350 228L365 233M295 163L321 146M295 163L269 180M295 163L282 136M295 163L280 158M295 163L309 168M214 186L240 170M214 186L188 203M214 186L201 159M214 186L200 181M214 186L229 192M482 358L508 341M482 358L456 375M482 358L495 386M482 358L468 331M482 358L467 353M482 358L496 363M426 293L452 276M426 293L439 321M426 293L413 266M426 293L412 288M426 293L441 298M161 407L187 391M161 407L135 424M161 407L174 435M161 407L148 380M161 407L147 402M161 407L176 413M424 338L450 321M424 338L398 355M424 338L437 365M424 338L411 310M424 338L409 333M424 338L438 343" stroke="#b8b8c0" stroke-width="4.2" fill="none"/>
<path d="M513 324h0M409 391h0M114 352h0M266 153h0M243 527h0M476 304h0M427 436h0M344 174h0M188 462h0M305 459h0M510 369h0M56 332h0M208 132h0M370 416h0M287 153h0M250 394h0M317 306h0M188 132h0M139 264h0M326 129h0M185 176h0M404 480h0M453 348h0M478 260h0M192 373h0M384 480h0M238 285h0M370 85h0M84 199h0M82 243h0M160 264h0M190 418h0M301 548h0M381 524h0M236 330h0M268 108h0M395 327h0M404 150h0M402 194h0M420 239h0M135 353h0M225 482h0M457 259h0M356 282h0M132 397h0M211 88h0M372 371h0M347 129h0M423 195h0M268 439h0M245 152h0M167 462h0M261 241h0M291 64h0M252 350h0M278 261h0M400 239h0M397 283h0M112 397h0M289 109h0M314 351h0M331 371h0M211 418h0M450 392h0M109 441h0M480 215h0M165 506h0M342 218h0M248 438h0M328 415h0M340 262h0M324 173h0M379 238h0M533 325h0M407 436h0M162 220h0M137 308h0M183 221h0M324 504h0M430 392h0M460 215h0M303 503h0M326 459h0M349 415h0M349 85h0M79 288h0M104 200h0M455 304h0M59 287h0M169 417h0M266 483h0M264 197h0M158 309h0M508 413h0M427 106h0M483 171h0M222 527h0M222 196h0M142 220h0M301 217h0M354 327h0M425 150h0M220 241h0M195 329h0M197 285h0M275 306h0M243 197h0M165 176h0M381 194h0M536 280h0M434 303h0M367 130h0M107 155h0M116 308h0M172 373h0M213 374h0M488 412h0M347 460h0M485 457h0M245 483h0M432 348h0M291 395h0" stroke="#4a74c8" stroke-width="25" stroke-linecap="round" fill="none"/>
<polygon points="103,250 290,129 394,166 489,362 302,483 198,446" fill="#6f8ad6" fill-opacity="0.8"/>
<polygon points="185,176 211,88 289,109 264,197" fill="#8ea4e0" fill-opacity="0.3" stroke="#5a78c8" stroke-width="1.5" stroke-opacity="0.6"/>
<polygon points="160,264 185,176 264,197 238,285" fill="#8ea4e0" fill-opacity="0.3" stroke="#5a78c8" stroke-width="1.5" stroke-opacity="0.6"/>
<polygon points="135,353 160,264 238,285 213,374" fill="#8ea4e0" fill-opacity="0.3" stroke="#5a78c8" stroke-width="1.5" stroke-opacity="0.6"/>
<polygon points="319,262 344,174 423,195 397,283" fill="#8ea4e0" fill-opacity="0.3" stroke="#5a78c8" stroke-width="1.5" stroke-opacity="0.6"/>
<polygon points="109,441 135,353 213,374 188,462" fill="#8ea4e0" fill-opacity="0.3" stroke="#5a78c8" stroke-width="1.5" stroke-opacity="0.6"/>
<polygon points="294,350 319,262 397,283 372,371" fill="#8ea4e0" fill-opacity="0.3" stroke="#5a78c8" stroke-width="1.5" stroke-opacity="0.6"/>
<polygon points="268,439 294,350 372,371 347,460" fill="#8ea4e0" fill-opacity="0.3" stroke="#5a78c8" stroke-width="1.5" stroke-opacity="0.6"/>
<polygon points="264,197 289,109 367,130 342,218" fill="#8ea4e0" fill-opacity="0.3" stroke="#5a78c8" stroke-width="1.5" stroke-opacity="0.6"/>
<polygon points="238,285 264,197 342,218 317,306" fill="#8ea4e0" fill-opacity="0.3" stroke="#5a78c8" stroke-width="1.5" stroke-opacity="0.6"/>
<polygon points="213,374 238,285 317,306 291,395" fill="#8ea4e0" fill-opacity="0.3" stroke="#5a78c8" stroke-width="1.5" stroke-opacity="0.6"/>
<polygon points="188,462 213,374 291,395 266,483" fill="#8ea4e0" fill-opacity="0.3" stroke="#5a78c8" stroke-width="1.5" stroke-opacity="0.6"/>
<polygon points="372,371 397,283 476,304 450,392" fill="#8ea4e0" fill-opacity="0.3" stroke="#5a78c8" stroke-width="1.5" stroke-opacity="0.6"/>
<polygon points="317,306 342,218 420,239 395,327" fill="#8ea4e0" fill-opacity="0.3" stroke="#5a78c8" stroke-width="1.5" stroke-opacity="0.6"/>
<polygon points="291,395 317,306 395,327 370,416" fill="#8ea4e0" fill-opacity="0.3" stroke="#5a78c8" stroke-width="1.5" stroke-opacity="0.6"/>
<path d="M401 382L429 363M401 382L372 400M401 382L415 412M401 382L386 352M401 382L385 376M401 382L417 387M186 319L215 301M186 319L158 338M186 319L201 349M186 319L172 289M186 319L171 313M186 319L202 325M320 405L349 386M320 405L292 424M320 405L335 435M320 405L306 375M320 405L304 399M320 405L336 411M265 340L293 322M265 340L236 359M265 340L279 370M265 340L250 310M265 340L249 334M265 340L281 346M343 361L372 343M343 361L315 380M343 361L358 391M343 361L329 331M343 361L327 355M343 361L359 367" stroke="#8e8ea0" stroke-width="4.2" fill="none"/>
<path d="M237 142L266 124M237 142L209 161M237 142L252 173M237 142L222 112M237 142L221 137M237 142L253 148M212 231L240 212M212 231L183 249M212 231L226 261M212 231L197 201M212 231L196 225M212 231L228 236M371 228L399 210M371 228L342 247M371 228L385 258M371 228L356 198M371 228L355 223M371 228L387 234M345 317L374 298M345 317L317 335M345 317L360 347M345 317L331 287M345 317L330 311M345 317L361 322M315 163L344 145M315 163L287 182M315 163L330 194M315 163L301 133M315 163L300 158M315 163L331 169M290 252L319 233M290 252L262 270M290 252L305 282M290 252L276 222M290 252L274 246M290 252L306 257M239 428L268 410M239 428L211 447M239 428L254 458M239 428L225 398M239 428L224 423M239 428L255 434M368 273L397 254M368 273L340 291M368 273L383 303M368 273L354 243M368 273L353 267M368 273L384 278" stroke="#4a1f50" stroke-width="4.2" fill="none"/>
<path d="M161 407L190 389M161 407L133 426M161 407L176 437M161 407L146 377M161 407L145 402M161 407L177 413M424 338L452 319M424 338L395 356M424 338L438 368M424 338L409 308M424 338L408 332M424 338L440 343" stroke="#b8b8c0" stroke-width="4.2" fill="none"/>
<path d="M243 527h0M476 304h0M427 436h0M188 462h0M208 132h0M370 416h0M287 153h0M317 306h0M453 348h0M238 285h0M236 330h0M395 327h0M420 239h0M132 397h0M372 371h0M423 195h0M261 241h0M397 283h0M289 109h0M314 351h0M211 418h0M450 392h0M342 218h0M340 262h0M183 221h0M79 288h0M104 200h0M266 483h0M264 197h0M158 309h0M367 130h0M213 374h0M347 460h0M291 395h0" stroke="#4f78cc" stroke-width="23" stroke-linecap="round" fill="none"/>
<circle cx="401" cy="382" r="11" fill="#8e8ea0"/>
<circle cx="237" cy="142" r="11" fill="#4a1f50"/>
<circle cx="212" cy="231" r="11" fill="#4a1f50"/>
<circle cx="186" cy="319" r="11" fill="#8e8ea0"/>
<circle cx="371" cy="228" r="11" fill="#4a1f50"/>
<circle cx="161" cy="407" r="11" fill="#b8b8c0"/>
<circle cx="345" cy="317" r="11" fill="#4a1f50"/>
<circle cx="320" cy="405" r="11" fill="#8e8ea0"/>
<circle cx="315" cy="163" r="11" fill="#4a1f50"/>
<circle cx="290" cy="252" r="11" fill="#4a1f50"/>
<circle cx="265" cy="340" r="11" fill="#8e8ea0"/>
<circle cx="239" cy="428" r="11" fill="#4a1f50"/>
<circle cx="424" cy="338" r="11" fill="#b8b8c0"/>
<circle cx="368" cy="273" r="11" fill="#4a1f50"/>
<circle cx="343" cy="361" r="11" fill="#8e8ea0"/>
<circle cx="352" cy="427" r="11" fill="#7fc8b0"/>
<rect x="611" y="66" width="1327" height="528" fill="#fff" stroke="#000" stroke-width="10"/>
<rect x="612" y="598" width="1332" height="6" fill="#999" opacity="0.5"/>
<rect x="622" y="78" width="618" height="505" fill="#020202" stroke="#e9c878" stroke-width="3"/>
<rect x="1312" y="82" width="616" height="501" fill="#050505" stroke="#e9c878" stroke-width="3"/>
<circle cx="675" cy="128" r="3.5" fill="#ddd"/><line x1="666" y1="128" x2="684" y2="128" stroke="#777" stroke-width="1.5"/>
<circle cx="788" cy="125" r="3.5" fill="#ddd"/><line x1="779" y1="125" x2="797" y2="125" stroke="#777" stroke-width="1.5"/>
<circle cx="1080" cy="125" r="3.5" fill="#ddd"/><line x1="1071" y1="125" x2="1089" y2="125" stroke="#777" stroke-width="1.5"/>
<circle cx="1193" cy="128" r="3.5" fill="#ddd"/><line x1="1184" y1="128" x2="1202" y2="128" stroke="#777" stroke-width="1.5"/>
<circle cx="862" cy="163" r="3.5" fill="#ddd"/><line x1="853" y1="163" x2="871" y2="163" stroke="#777" stroke-width="1.5"/>
<circle cx="1003" cy="163" r="3.5" fill="#ddd"/><line x1="994" y1="163" x2="1012" y2="163" stroke="#777" stroke-width="1.5"/>
<circle cx="685" cy="215" r="3.5" fill="#ddd"/><line x1="676" y1="215" x2="694" y2="215" stroke="#777" stroke-width="1.5"/>
<circle cx="785" cy="208" r="3.5" fill="#ddd"/><line x1="776" y1="208" x2="794" y2="208" stroke="#777" stroke-width="1.5"/>
<circle cx="1085" cy="208" r="3.5" fill="#ddd"/><line x1="1076" y1="208" x2="1094" y2="208" stroke="#777" stroke-width="1.5"/>
<circle cx="1185" cy="215" r="3.5" fill="#ddd"/><line x1="1176" y1="215" x2="1194" y2="215" stroke="#777" stroke-width="1.5"/>
<circle cx="758" cy="250" r="3.5" fill="#ddd"/><line x1="749" y1="250" x2="767" y2="250" stroke="#777" stroke-width="1.5"/>
<circle cx="852" cy="257" r="3.5" fill="#ddd"/><line x1="843" y1="257" x2="861" y2="257" stroke="#777" stroke-width="1.5"/>
<circle cx="1015" cy="257" r="3.5" fill="#ddd"/><line x1="1006" y1="257" x2="1024" y2="257" stroke="#777" stroke-width="1.5"/>
<circle cx="1110" cy="250" r="3.5" fill="#ddd"/><line x1="1101" y1="250" x2="1119" y2="250" stroke="#777" stroke-width="1.5"/>
<circle cx="785" cy="272" r="3.5" fill="#ddd"/><line x1="776" y1="272" x2="794" y2="272" stroke="#777" stroke-width="1.5"/>
<circle cx="1085" cy="272" r="3.5" fill="#ddd"/><line x1="1076" y1="272" x2="1094" y2="272" stroke="#777" stroke-width="1.5"/>
<circle cx="760" cy="292" r="3.5" fill="#ddd"/><line x1="751" y1="292" x2="769" y2="292" stroke="#777" stroke-width="1.5"/>
<circle cx="852" cy="295" r="3.5" fill="#ddd"/><line x1="843" y1="295" x2="861" y2="295" stroke="#777" stroke-width="1.5"/>
<circle cx="1015" cy="295" r="3.5" fill="#ddd"/><line x1="1006" y1="295" x2="1024" y2="295" stroke="#777" stroke-width="1.5"/>
<circle cx="1110" cy="292" r="3.5" fill="#ddd"/><line x1="1101" y1="292" x2="1119" y2="292" stroke="#777" stroke-width="1.5"/>
<circle cx="690" cy="290" r="3.5" fill="#ddd"/><line x1="681" y1="290" x2="699" y2="290" stroke="#777" stroke-width="1.5"/>
<circle cx="1180" cy="290" r="3.5" fill="#ddd"/><line x1="1171" y1="290" x2="1189" y2="290" stroke="#777" stroke-width="1.5"/>
<circle cx="645" cy="330" r="3.5" fill="#ddd"/><line x1="636" y1="330" x2="654" y2="330" stroke="#777" stroke-width="1.5"/>
<circle cx="1225" cy="330" r="3.5" fill="#ddd"/><line x1="1216" y1="330" x2="1234" y2="330" stroke="#777" stroke-width="1.5"/>
<circle cx="787" cy="330" r="3.5" fill="#ddd"/><line x1="778" y1="330" x2="796" y2="330" stroke="#777" stroke-width="1.5"/>
<circle cx="1083" cy="330" r="3.5" fill="#ddd"/><line x1="1074" y1="330" x2="1092" y2="330" stroke="#777" stroke-width="1.5"/>
<circle cx="760" cy="370" r="3.5" fill="#ddd"/><line x1="751" y1="370" x2="769" y2="370" stroke="#777" stroke-width="1.5"/>
<circle cx="852" cy="370" r="3.5" fill="#ddd"/><line x1="843" y1="370" x2="861" y2="370" stroke="#777" stroke-width="1.5"/>
<circle cx="1015" cy="370" r="3.5" fill="#ddd"/><line x1="1006" y1="370" x2="1024" y2="370" stroke="#777" stroke-width="1.5"/>
<circle cx="1110" cy="370" r="3.5" fill="#ddd"/><line x1="1101" y1="370" x2="1119" y2="370" stroke="#777" stroke-width="1.5"/>
<circle cx="690" cy="375" r="3.5" fill="#ddd"/><line x1="681" y1="375" x2="699" y2="375" stroke="#777" stroke-width="1.5"/>
<circle cx="1180" cy="375" r="3.5" fill="#ddd"/><line x1="1171" y1="375" x2="1189" y2="375" stroke="#777" stroke-width="1.5"/>
<circle cx="785" cy="392" r="3.5" fill="#ddd"/><line x1="776" y1="392" x2="794" y2="392" stroke="#777" stroke-width="1.5"/>
<circle cx="1085" cy="392" r="3.5" fill="#ddd"/><line x1="1076" y1="392" x2="1094" y2="392" stroke="#777" stroke-width="1.5"/>
<circle cx="758" cy="412" r="3.5" fill="#ddd"/><line x1="749" y1="412" x2="767" y2="412" stroke="#777" stroke-width="1.5"/>
<circle cx="852" cy="407" r="3.5" fill="#ddd"/><line x1="843" y1="407" x2="861" y2="407" stroke="#777" stroke-width="1.5"/>
<circle cx="1015" cy="407" r="3.5" fill="#ddd"/><line x1="1006" y1="407" x2="1024" y2="407" stroke="#777" stroke-width="1.5"/>
<circle cx="1110" cy="412" r="3.5" fill="#ddd"/><line x1="1101" y1="412" x2="1119" y2="412" stroke="#777" stroke-width="1.5"/>
<circle cx="785" cy="455" r="3.5" fill="#ddd"/><line x1="776" y1="455" x2="794" y2="455" stroke="#777" stroke-width="1.5"/>
<circle cx="1085" cy="455" r="3.5" fill="#ddd"/><line x1="1076" y1="455" x2="1094" y2="455" stroke="#777" stroke-width="1.5"/>
<circle cx="685" cy="450" r="3.5" fill="#ddd"/><line x1="676" y1="450" x2="694" y2="450" stroke="#777" stroke-width="1.5"/>
<circle cx="1185" cy="450" r="3.5" fill="#ddd"/><line x1="1176" y1="450" x2="1194" y2="450" stroke="#777" stroke-width="1.5"/>
<circle cx="862" cy="498" r="3.5" fill="#ddd"/><line x1="853" y1="498" x2="871" y2="498" stroke="#777" stroke-width="1.5"/>
<circle cx="1003" cy="498" r="3.5" fill="#ddd"/><line x1="994" y1="498" x2="1012" y2="498" stroke="#777" stroke-width="1.5"/>
<circle cx="675" cy="535" r="3.5" fill="#ddd"/><line x1="666" y1="535" x2="684" y2="535" stroke="#777" stroke-width="1.5"/>
<circle cx="788" cy="538" r="3.5" fill="#ddd"/><line x1="779" y1="538" x2="797" y2="538" stroke="#777" stroke-width="1.5"/>
<circle cx="1080" cy="538" r="3.5" fill="#ddd"/><line x1="1071" y1="538" x2="1089" y2="538" stroke="#777" stroke-width="1.5"/>
<circle cx="1193" cy="535" r="3.5" fill="#ddd"/><line x1="1184" y1="535" x2="1202" y2="535" stroke="#777" stroke-width="1.5"/>
<path d="M895 105 Q932 88 970 105 M895 558 Q932 575 970 558" fill="none" stroke="#555" stroke-width="2"/>
<clipPath id="rgc"><rect x="1314" y="84" width="612" height="497"/></clipPath><g clip-path="url(#rgc)" fill="none" stroke="#f4f4f4">
<ellipse cx="1622" cy="338" rx="92" ry="75" stroke-width="5.0" stroke-opacity="1.00"/>
<ellipse cx="1622" cy="338" rx="122" ry="99" stroke-width="4.5" stroke-opacity="1.00"/>
<ellipse cx="1622" cy="338" rx="150" ry="122" stroke-width="5.0" stroke-opacity="1.00"/>
<ellipse cx="1622" cy="338" rx="172" ry="139" stroke-width="4.0" stroke-opacity="0.90"/>
<ellipse cx="1622" cy="338" rx="188" ry="152" stroke-width="2.5" stroke-opacity="0.60"/>
<ellipse cx="1622" cy="338" rx="205" ry="166" stroke-width="4.5" stroke-opacity="1.00"/>
<ellipse cx="1622" cy="338" rx="222" ry="180" stroke-width="4.5" stroke-opacity="1.00"/>
<ellipse cx="1622" cy="338" rx="255" ry="207" stroke-width="4.0" stroke-opacity="0.45"/>
<ellipse cx="1622" cy="338" rx="290" ry="235" stroke-width="5.0" stroke-opacity="0.50"/>
<ellipse cx="1622" cy="338" rx="318" ry="258" stroke-width="4.0" stroke-opacity="0.30"/>
<ellipse cx="1622" cy="338" rx="345" ry="279" stroke-width="5.0" stroke-opacity="0.90"/>
</g>
</g>
<defs><radialGradient id="pa" cx="0.4" cy="0.35" r="0.7"><stop offset="0" stop-color="#a898b0"/><stop offset="1" stop-color="#7c6488"/></radialGradient></defs>
<g transform="translate(1680 1280) scale(0.13106)">
<path d="M600 250 L825 305 L1045 585 L1040 790 L920 910 L580 965 L360 900 L355 700 L485 358 Z" fill="none" stroke="#9aa" stroke-width="3"/>
<polygon points="430,180 775,125 650,442" fill="#5a3ce6" fill-opacity="0.56"/>
<polygon points="430,180 775,125 600,250" fill="#6f50f0" fill-opacity="0.6"/>
<polygon points="600,250 775,125 650,442" fill="#4a28d8" fill-opacity="0.45"/>
<line x1="600" y1="260" x2="515" y2="220" stroke="#2a0fd0" stroke-width="11"/>
<line x1="600" y1="260" x2="687" y2="192" stroke="#2a0fd0" stroke-width="11"/>
<line x1="600" y1="260" x2="625" y2="351" stroke="#2a0fd0" stroke-width="11"/>
<polygon points="825,305 1170,250 1045,567" fill="#5a3ce6" fill-opacity="0.56"/>
<polygon points="825,305 1170,250 995,375" fill="#6f50f0" fill-opacity="0.6"/>
<polygon points="995,375 1170,250 1045,567" fill="#4a28d8" fill-opacity="0.45"/>
<line x1="995" y1="385" x2="910" y2="345" stroke="#2a0fd0" stroke-width="11"/>
<line x1="995" y1="385" x2="1082" y2="317" stroke="#2a0fd0" stroke-width="11"/>
<line x1="995" y1="385" x2="1020" y2="476" stroke="#2a0fd0" stroke-width="11"/>
<polygon points="145,428 490,373 365,690" fill="#5a3ce6" fill-opacity="0.56"/>
<polygon points="145,428 490,373 315,498" fill="#6f50f0" fill-opacity="0.6"/>
<polygon points="315,498 490,373 365,690" fill="#4a28d8" fill-opacity="0.45"/>
<line x1="315" y1="508" x2="230" y2="468" stroke="#2a0fd0" stroke-width="11"/>
<line x1="315" y1="508" x2="402" y2="440" stroke="#2a0fd0" stroke-width="11"/>
<line x1="315" y1="508" x2="340" y2="599" stroke="#2a0fd0" stroke-width="11"/>
<polygon points="650,442 995,387 870,704" fill="#5a3ce6" fill-opacity="0.56"/>
<polygon points="650,442 995,387 820,512" fill="#6f50f0" fill-opacity="0.6"/>
<polygon points="820,512 995,387 870,704" fill="#4a28d8" fill-opacity="0.45"/>
<line x1="820" y1="522" x2="735" y2="482" stroke="#2a0fd0" stroke-width="11"/>
<line x1="820" y1="522" x2="907" y2="454" stroke="#2a0fd0" stroke-width="11"/>
<line x1="820" y1="522" x2="845" y2="613" stroke="#2a0fd0" stroke-width="11"/>
<polygon points="475,575 820,520 695,837" fill="#5a3ce6" fill-opacity="0.56"/>
<polygon points="475,575 820,520 645,645" fill="#6f50f0" fill-opacity="0.6"/>
<polygon points="645,645 820,520 695,837" fill="#4a28d8" fill-opacity="0.45"/>
<line x1="645" y1="655" x2="560" y2="615" stroke="#2a0fd0" stroke-width="11"/>
<line x1="645" y1="655" x2="732" y2="587" stroke="#2a0fd0" stroke-width="11"/>
<line x1="645" y1="655" x2="670" y2="746" stroke="#2a0fd0" stroke-width="11"/>
<polygon points="700,840 1045,785 920,1102" fill="#5a3ce6" fill-opacity="0.56"/>
<polygon points="700,840 1045,785 870,910" fill="#6f50f0" fill-opacity="0.6"/>
<polygon points="870,910 1045,785 920,1102" fill="#4a28d8" fill-opacity="0.45"/>
<line x1="870" y1="920" x2="785" y2="880" stroke="#2a0fd0" stroke-width="11"/>
<line x1="870" y1="920" x2="957" y2="852" stroke="#2a0fd0" stroke-width="11"/>
<line x1="870" y1="920" x2="895" y2="1011" stroke="#2a0fd0" stroke-width="11"/>
<polygon points="360,695 705,640 580,957" fill="#5a3ce6" fill-opacity="0.56"/>
<polygon points="360,695 705,640 530,765" fill="#6f50f0" fill-opacity="0.6"/>
<polygon points="530,765 705,640 580,957" fill="#4a28d8" fill-opacity="0.45"/>
<line x1="530" y1="775" x2="445" y2="735" stroke="#2a0fd0" stroke-width="11"/>
<line x1="530" y1="775" x2="617" y2="707" stroke="#2a0fd0" stroke-width="11"/>
<line x1="530" y1="775" x2="555" y2="866" stroke="#2a0fd0" stroke-width="11"/>
<polygon points="870,705 1215,650 1090,967" fill="#5a3ce6" fill-opacity="0.56"/>
<polygon points="870,705 1215,650 1040,775" fill="#6f50f0" fill-opacity="0.6"/>
<polygon points="1040,775 1215,650 1090,967" fill="#4a28d8" fill-opacity="0.45"/>
<line x1="1040" y1="785" x2="955" y2="745" stroke="#2a0fd0" stroke-width="11"/>
<line x1="1040" y1="785" x2="1127" y2="717" stroke="#2a0fd0" stroke-width="11"/>
<line x1="1040" y1="785" x2="1065" y2="876" stroke="#2a0fd0" stroke-width="11"/>
<polygon points="185,830 530,775 405,1092" fill="#5a3ce6" fill-opacity="0.56"/>
<polygon points="185,830 530,775 355,900" fill="#6f50f0" fill-opacity="0.6"/>
<polygon points="355,900 530,775 405,1092" fill="#4a28d8" fill-opacity="0.45"/>
<line x1="355" y1="910" x2="270" y2="870" stroke="#2a0fd0" stroke-width="11"/>
<line x1="355" y1="910" x2="442" y2="842" stroke="#2a0fd0" stroke-width="11"/>
<line x1="355" y1="910" x2="380" y2="1001" stroke="#2a0fd0" stroke-width="11"/>
<polygon points="580,965 925,910 800,1227" fill="#5a3ce6" fill-opacity="0.56"/>
<polygon points="580,965 925,910 750,1035" fill="#6f50f0" fill-opacity="0.6"/>
<polygon points="750,1035 925,910 800,1227" fill="#4a28d8" fill-opacity="0.45"/>
<line x1="750" y1="1045" x2="665" y2="1005" stroke="#2a0fd0" stroke-width="11"/>
<line x1="750" y1="1045" x2="837" y2="977" stroke="#2a0fd0" stroke-width="11"/>
<line x1="750" y1="1045" x2="775" y2="1136" stroke="#2a0fd0" stroke-width="11"/>
<circle cx="775" cy="125" r="44" fill="url(#pa)"/>
<circle cx="430" cy="180" r="44" fill="url(#pa)"/>
<circle cx="1170" cy="250" r="44" fill="url(#pa)"/>
<circle cx="600" cy="250" r="44" fill="url(#pa)"/>
<circle cx="825" cy="305" r="44" fill="url(#pa)"/>
<circle cx="490" cy="373" r="44" fill="url(#pa)"/>
<circle cx="995" cy="375" r="44" fill="url(#pa)"/>
<circle cx="995" cy="387" r="44" fill="url(#pa)"/>
<circle cx="145" cy="428" r="44" fill="url(#pa)"/>
<circle cx="650" cy="442" r="44" fill="url(#pa)"/>
<circle cx="315" cy="498" r="44" fill="url(#pa)"/>
<circle cx="820" cy="512" r="44" fill="url(#pa)"/>
<circle cx="820" cy="520" r="44" fill="url(#pa)"/>
<circle cx="1045" cy="567" r="44" fill="url(#pa)"/>
<circle cx="475" cy="575" r="44" fill="url(#pa)"/>
<circle cx="705" cy="640" r="44" fill="url(#pa)"/>
<circle cx="645" cy="645" r="44" fill="url(#pa)"/>
<circle cx="1215" cy="650" r="44" fill="url(#pa)"/>
<circle cx="365" cy="690" r="44" fill="url(#pa)"/>
<circle cx="360" cy="695" r="44" fill="url(#pa)"/>
<circle cx="870" cy="704" r="44" fill="url(#pa)"/>
<circle cx="870" cy="705" r="44" fill="url(#pa)"/>
<circle cx="530" cy="765" r="44" fill="url(#pa)"/>
<circle cx="1040" cy="775" r="44" fill="url(#pa)"/>
<circle cx="530" cy="775" r="44" fill="url(#pa)"/>
<circle cx="1045" cy="785" r="44" fill="url(#pa)"/>
<circle cx="185" cy="830" r="44" fill="url(#pa)"/>
<circle cx="695" cy="837" r="44" fill="url(#pa)"/>
<circle cx="700" cy="840" r="44" fill="url(#pa)"/>
<circle cx="355" cy="900" r="44" fill="url(#pa)"/>
<circle cx="925" cy="910" r="44" fill="url(#pa)"/>
<circle cx="870" cy="910" r="44" fill="url(#pa)"/>
<circle cx="580" cy="957" r="44" fill="url(#pa)"/>
<circle cx="580" cy="965" r="44" fill="url(#pa)"/>
<circle cx="1090" cy="967" r="44" fill="url(#pa)"/>
<circle cx="750" cy="1035" r="44" fill="url(#pa)"/>
<circle cx="405" cy="1092" r="44" fill="url(#pa)"/>
<circle cx="920" cy="1102" r="44" fill="url(#pa)"/>
<circle cx="800" cy="1227" r="44" fill="url(#pa)"/>
<circle cx="1045" cy="585" r="44" fill="#dccfe0"/><circle cx="1212" cy="658" r="44" fill="#e6dae8"/>
</g>
<rect x="2014" y="833" width="136.7" height="284.8" rx="10" fill="#fff" stroke="#111" stroke-width="1.5"/>
<rect x="2174" y="831" width="141" height="285.5" rx="10" fill="#fff" stroke="#111" stroke-width="1.5"/>
<line x1="2016" y1="898" x2="2152" y2="898" stroke="#111" stroke-width="1.8" stroke-dasharray="10 5.5"/>
<line x1="2175" y1="897.2" x2="2314" y2="897.2" stroke="#111" stroke-width="1.8" stroke-dasharray="10 5.5"/>
<text x="2087" y="873.7" font-family="Liberation Serif, serif" font-size="26.8" text-anchor="middle" fill="#111">Structures</text>
<text x="2247.8" y="857.4" font-family="Liberation Serif, serif" font-size="26.8" text-anchor="middle" fill="#111">Physical</text><text x="2247.8" y="889" font-family="Liberation Serif, serif" font-size="26.8" text-anchor="middle" fill="#111">setting</text>
<text x="2245.7" y="935.7" font-family="Liberation Serif, serif" font-size="23.6" text-anchor="middle" fill="#111">grain size</text>
<text x="2245.7" y="963.9" font-family="Liberation Serif, serif" font-size="23.6" text-anchor="middle" fill="#111">stress</text>
<text x="2245.7" y="992.2" font-family="Liberation Serif, serif" font-size="23.6" text-anchor="middle" fill="#111">temperature</text>
<text x="2245.7" y="1020.9" font-family="Liberation Serif, serif" font-size="23.6" text-anchor="middle" fill="#111">orientation</text>
<text x="2245.7" y="1049.3" font-family="Liberation Serif, serif" font-size="23.6" text-anchor="middle" fill="#111">background</text>
<text x="2245.7" y="1077.6" font-family="Liberation Serif, serif" font-size="23.6" text-anchor="middle" fill="#111">drift</text>
<text x="2245.7" y="1106.3" font-family="Liberation Serif, serif" font-size="23.6" text-anchor="middle" fill="#111">noise</text>
<path d="M2079.0 941.6l2.8 5.5M2079.0 941.6l4.3 2.0M2079.0 941.6l-6.1 -2.4M2108.3 935.9l-3.6 -3.2M2108.3 935.9l4.0 -2.3M2108.3 935.9l4.8 0.5M2082.5 943.2l-3.9 1.4M2082.5 943.2l2.3 4.6M2082.5 943.2l-4.0 -1.9M2062.4 938.7l-4.3 5.1M2062.4 938.7l5.9 -0.7M2062.4 938.7l-2.1 -5.4M2090.1 955.6l2.6 3.2M2090.1 955.6l6.7 0.8M2090.1 955.6l-2.1 -6.6M2056.8 926.2l5.9 0.8M2056.8 926.2l-6.2 0.7M2056.8 926.2l-2.9 6.4M2094.0 910.5l5.0 2.6M2094.0 910.5l-0.5 -6.7M2094.0 910.5l-0.5 -6.1M2091.5 944.9l1.8 -6.5M2091.5 944.9l-3.6 4.9M2091.5 944.9l5.4 -3.9M2083.8 911.6l-5.5 3.2M2083.8 911.6l3.7 -4.3M2083.8 911.6l-3.6 -3.6M2062.8 922.5l-5.1 -2.9M2062.8 922.5l5.2 2.9M2062.8 922.5l6.6 -0.3M2052.9 935.8l-0.7 -5.1M2052.9 935.8l-0.5 -5.7M2052.9 935.8l-6.1 2.4M2078.3 958.5l5.4 3.1M2078.3 958.5l5.7 1.1M2078.3 958.5l-4.7 0.6M2083.2 946.4l-1.8 -5.2M2083.2 946.4l-5.1 -4.5M2083.2 946.4l-0.1 4.0M2082.0 947.7l-1.9 5.7M2082.0 947.7l1.3 4.3M2082.0 947.7l5.0 -3.3M2079.4 924.7l-6.2 2.4M2079.4 924.7l-2.8 5.3M2079.4 924.7l1.7 5.0M2103.1 950.5l2.3 -6.3M2103.1 950.5l3.8 -3.5M2103.1 950.5l-4.3 -2.5M2070.5 921.8l3.6 4.1M2070.5 921.8l3.4 -5.6M2070.5 921.8l-1.7 -6.6M2068.9 912.2l-0.8 4.4M2068.9 912.2l-4.6 1.5M2068.9 912.2l1.2 5.1M2098.5 932.0l-3.9 -3.9M2098.5 932.0l-2.6 6.0M2098.5 932.0l5.3 -0.6M2103.5 931.2l3.7 1.9M2103.5 931.2l2.9 -3.0M2103.5 931.2l-1.5 -5.5M2107.4 936.2l-2.3 5.9M2107.4 936.2l4.4 0.5M2107.4 936.2l-3.9 1.1M2111.8 931.8l2.3 -4.1M2111.8 931.8l2.6 3.2M2111.8 931.8l-3.7 -3.9M2055.5 945.8l-4.1 -4.3M2055.5 945.8l2.4 -6.4M2055.5 945.8l-1.8 -4.2M2099.3 924.2l-4.5 0.7M2099.3 924.2l5.4 0.4M2099.3 924.2l-1.0 -4.4M2056.4 928.0l-0.7 5.0M2056.4 928.0l-1.8 -5.3M2056.4 928.0l-4.7 -4.1M2058.3 922.8l-5.0 4.0M2058.3 922.8l3.5 -2.4M2058.3 922.8l5.6 -2.5M2100.4 918.7l3.7 3.9M2100.4 918.7l-4.7 -4.8M2100.4 918.7l-4.1 4.0M2085.7 934.8l4.6 -4.4M2085.7 934.8l5.1 -1.9M2085.7 934.8l-2.7 -3.8M2062.8 951.9l-1.1 -6.4M2062.8 951.9l-3.9 -4.8M2062.8 951.9l1.5 6.5M2059.1 946.6l6.9 -0.8M2059.1 946.6l-6.2 -1.5M2059.1 946.6l-2.9 6.1M2058.2 933.2l3.1 -4.0M2058.2 933.2l4.6 2.6M2058.2 933.2l-6.0 -2.0M2064.2 924.2l-4.1 0.3M2064.2 924.2l1.5 -3.9M2064.2 924.2l1.4 -4.3M2069.9 961.1l-3.2 5.5M2069.9 961.1l2.8 3.4M2069.9 961.1l-6.1 -0.6M2064.1 931.7l3.2 -5.1M2064.1 931.7l5.2 -1.8M2064.1 931.7l4.0 -1.3M2104.0 946.5l1.0 5.5M2104.0 946.5l-1.5 6.0M2104.0 946.5l-3.6 -4.3M2064.2 923.5l3.2 -4.7M2064.2 923.5l-1.9 4.8M2064.2 923.5l3.8 -5.5M2098.9 927.7l1.7 6.3M2098.9 927.7l5.5 -1.1M2098.9 927.7l-4.1 -2.0M2069.4 912.4l-5.4 -1.2M2069.4 912.4l-3.2 -2.5M2069.4 912.4l5.4 -1.1M2056.6 943.0l-5.2 3.7M2056.6 943.0l-5.1 -2.1M2056.6 943.0l-1.5 -3.9M2066.1 944.1l-5.1 -1.3M2066.1 944.1l6.5 -1.8M2066.1 944.1l-0.7 5.4M2074.0 935.2l3.7 3.8M2074.0 935.2l2.7 -6.1M2074.0 935.2l-4.9 0.7M2110.5 937.0l2.1 5.5M2110.5 937.0l3.9 -2.0M2110.5 937.0l0.7 -4.0M2086.6 960.0l1.6 4.4M2086.6 960.0l-1.9 -4.6M2086.6 960.0l-3.6 4.6M2062.3 917.2l4.9 3.8M2062.3 917.2l4.0 3.9M2062.3 917.2l-0.0 4.6M2066.5 919.4l-5.2 -1.0M2066.5 919.4l-3.7 3.7M2066.5 919.4l-4.4 -0.8M2105.7 944.2l1.7 5.7M2105.7 944.2l-3.6 -4.3M2105.7 944.2l3.5 -4.7M2077.1 914.2l2.9 -3.7M2077.1 914.2l-0.4 -6.4M2077.1 914.2l4.1 -2.8M2065.8 950.3l-2.7 6.2M2065.8 950.3l1.4 6.9M2065.8 950.3l3.3 -2.9M2066.9 957.4l0.4 6.2M2066.9 957.4l-0.3 4.3M2066.9 957.4l2.6 -4.6M2088.0 925.6l1.1 -4.2M2088.0 925.6l-5.0 3.5M2088.0 925.6l4.6 0.5" stroke="#d83020" stroke-width="1" fill="none"/>
<path d="M2081.8 947.1h0M2083.3 943.5h0M2072.9 939.2h0M2104.7 932.8h0M2112.3 933.6h0M2113.1 936.4h0M2078.5 944.6h0M2084.8 947.8h0M2078.5 941.3h0M2058.1 943.8h0M2068.4 938.0h0M2060.4 933.3h0M2092.7 958.7h0M2096.7 956.3h0M2088.0 949.0h0M2062.7 927.0h0M2050.7 926.9h0M2053.9 932.6h0M2099.0 913.1h0M2093.4 903.8h0M2093.5 904.4h0M2093.4 938.4h0M2087.9 949.8h0M2096.9 941.1h0M2078.2 914.7h0M2087.5 907.2h0M2080.1 907.9h0M2057.7 919.6h0M2068.0 925.4h0M2069.4 922.2h0M2052.2 930.7h0M2052.3 930.1h0M2046.8 938.2h0M2083.7 961.7h0M2084.0 959.6h0M2073.7 959.1h0M2081.4 941.2h0M2078.1 942.0h0M2083.0 950.4h0M2080.1 953.5h0M2083.3 952.1h0M2086.9 944.4h0M2073.1 927.1h0M2076.6 930.0h0M2081.0 929.7h0M2105.4 944.1h0M2106.9 946.9h0M2098.8 948.0h0M2074.1 925.9h0M2074.0 916.2h0M2068.9 915.1h0M2068.2 916.7h0M2064.3 913.7h0M2070.1 917.3h0M2094.7 928.1h0M2095.9 938.0h0M2103.8 931.4h0M2107.1 933.0h0M2106.4 928.2h0M2102.0 925.7h0M2105.1 942.1h0M2111.8 936.7h0M2103.5 937.3h0M2114.0 927.7h0M2114.4 935.1h0M2108.1 928.0h0M2051.4 941.4h0M2058.0 939.3h0M2053.7 941.6h0M2094.8 924.9h0M2104.7 924.6h0M2098.3 919.8h0M2055.7 932.9h0M2054.6 922.7h0M2051.7 923.8h0M2053.3 926.7h0M2061.9 920.4h0M2063.9 920.2h0M2104.1 922.6h0M2095.7 913.9h0M2096.3 922.7h0M2090.3 930.5h0M2090.7 933.0h0M2083.0 931.1h0M2061.7 945.6h0M2058.9 947.1h0M2064.4 958.4h0M2066.0 945.8h0M2052.9 945.2h0M2056.2 952.7h0M2061.3 929.3h0M2062.8 935.9h0M2052.2 931.3h0M2060.1 924.5h0M2065.7 920.3h0M2065.6 919.9h0M2066.6 966.6h0M2072.7 964.5h0M2063.7 960.5h0M2067.3 926.5h0M2069.2 929.8h0M2068.1 930.3h0M2105.0 952.0h0M2102.4 952.5h0M2100.4 942.2h0M2067.4 918.8h0M2062.3 928.3h0M2068.0 918.0h0M2100.6 934.1h0M2104.4 926.6h0M2094.8 925.7h0M2064.0 911.2h0M2066.1 909.9h0M2074.8 911.3h0M2051.4 946.7h0M2051.5 940.9h0M2055.1 939.1h0M2061.0 942.8h0M2072.6 942.3h0M2065.4 949.5h0M2077.7 939.0h0M2076.7 929.1h0M2069.1 935.9h0M2112.6 942.5h0M2114.4 935.0h0M2111.2 933.0h0M2088.2 964.4h0M2084.7 955.4h0M2083.0 964.6h0M2067.2 921.0h0M2066.3 921.1h0M2062.3 921.8h0M2061.3 918.4h0M2062.7 923.1h0M2062.1 918.6h0M2107.4 949.9h0M2102.1 939.9h0M2109.2 939.5h0M2080.1 910.5h0M2076.8 907.8h0M2081.2 911.4h0M2063.1 956.5h0M2067.2 957.1h0M2069.1 947.4h0M2067.3 963.6h0M2066.7 961.7h0M2069.5 952.8h0M2089.1 921.4h0M2083.0 929.1h0M2092.6 926.1h0" stroke="#e02818" stroke-width="2.6" stroke-linecap="round" fill="none"/>
<path d="M2079.0 941.6h0M2082.5 943.2h0M2090.1 955.6h0M2094.0 910.5h0M2083.8 911.6h0M2052.9 935.8h0M2083.2 946.4h0M2079.4 924.7h0M2070.5 921.8h0M2098.5 932.0h0M2107.4 936.2h0M2055.5 945.8h0M2056.4 928.0h0M2100.4 918.7h0M2062.8 951.9h0M2058.2 933.2h0M2069.9 961.1h0M2104.0 946.5h0M2098.9 927.7h0M2056.6 943.0h0M2074.0 935.2h0M2086.6 960.0h0M2066.5 919.4h0M2077.1 914.2h0M2066.9 957.4h0" stroke="#8ad060" stroke-width="6.8" stroke-linecap="round" fill="none"/>
<path d="M2108.3 935.9h0M2056.8 926.2h0M2062.8 922.5h0M2082.0 947.7h0M2068.9 912.2h0M2111.8 931.8h0M2058.3 922.8h0M2059.1 946.6h0M2064.1 931.7h0M2069.4 912.4h0M2110.5 937.0h0M2105.7 944.2h0M2088.0 925.6h0" stroke="#a020a0" stroke-width="6.8" stroke-linecap="round" fill="none"/>
<path d="M2062.4 938.7h0M2091.5 944.9h0M2078.3 958.5h0M2103.1 950.5h0M2103.5 931.2h0M2099.3 924.2h0M2085.7 934.8h0M2064.2 924.2h0M2064.2 923.5h0M2066.1 944.1h0M2062.3 917.2h0M2065.8 950.3h0" stroke="#d83020" stroke-width="4.0" stroke-linecap="round" fill="none"/>
<path d="M2070.8 1006.4l2.9 -5.2M2070.8 1006.4l0.7 5.5M2070.8 1006.4l-5.8 0.8M2094.1 1003.8l-0.5 6.8M2094.1 1003.8l3.5 -2.8M2094.1 1003.8l-1.7 6.4M2051.3 1000.2l-1.2 6.7M2051.3 1000.2l-6.1 -0.6M2051.3 1000.2l-1.3 -4.5M2090.5 1015.5l-1.0 4.6M2090.5 1015.5l-2.5 -5.6M2090.5 1015.5l4.5 4.9M2078.1 1010.5l-4.1 2.3M2078.1 1010.5l-6.4 2.7M2078.1 1010.5l-5.5 -2.2M2044.6 985.6l6.0 -3.3M2044.6 985.6l0.3 -5.2M2044.6 985.6l-5.7 -3.5M2035.3 987.9l1.4 -5.6M2035.3 987.9l-2.9 4.2M2035.3 987.9l-0.5 -5.7M2061.9 994.0l6.1 0.7M2061.9 994.0l5.3 -3.6M2061.9 994.0l5.4 -4.0M2080.9 995.1l-6.2 -1.4M2080.9 995.1l-3.1 3.0M2080.9 995.1l-3.0 3.9M2042.0 983.7l5.6 -2.4M2042.0 983.7l-5.7 -1.5M2042.0 983.7l4.0 4.0M2045.3 982.2l-1.6 -4.9M2045.3 982.2l0.1 5.2M2045.3 982.2l-2.7 5.4M2089.9 1002.1l2.7 3.3M2089.9 1002.1l-2.3 5.6M2089.9 1002.1l0.4 -6.0M2097.9 1003.2l4.7 -2.0M2097.9 1003.2l5.4 1.0M2097.9 1003.2l-4.3 1.6M2042.2 995.4l-2.5 -4.4M2042.2 995.4l0.4 5.0M2042.2 995.4l3.8 -1.4M2067.3 997.4l-3.1 3.7M2067.3 997.4l1.6 5.1M2067.3 997.4l1.3 6.6M2083.7 1008.1l-6.1 -0.0M2083.7 1008.1l2.8 4.6M2083.7 1008.1l-5.1 -4.1M2070.7 987.8l0.0 5.4M2070.7 987.8l4.0 -5.1M2070.7 987.8l0.8 5.6M2064.1 994.0l0.4 -5.2M2064.1 994.0l-2.8 -5.3M2064.1 994.0l5.6 -1.0M2089.5 1017.1l-2.1 -4.6M2089.5 1017.1l-0.6 -4.9M2089.5 1017.1l-5.1 0.0M2044.4 979.4l-1.5 4.1M2044.4 979.4l0.9 5.6M2044.4 979.4l-0.0 4.1M2062.9 997.7l1.6 -4.6M2062.9 997.7l5.3 -2.3M2062.9 997.7l-5.1 4.2M2102.2 1018.9l4.0 -3.0M2102.2 1018.9l4.2 4.2M2102.2 1018.9l3.2 -4.9M2068.6 1001.1l1.1 -5.1M2068.6 1001.1l-3.5 -3.2M2068.6 1001.1l-4.3 2.8M2051.5 989.0l-3.9 3.4M2051.5 989.0l1.6 -4.2M2051.5 989.0l1.3 4.6M2061.8 1004.8l5.5 -1.0M2061.8 1004.8l6.1 2.1M2061.8 1004.8l4.5 -4.6M2039.5 986.1l-3.9 4.8M2039.5 986.1l-1.5 4.1M2039.5 986.1l4.3 -4.9M2044.3 993.0l1.6 6.4M2044.3 993.0l4.9 0.8M2044.3 993.0l4.5 0.4M2059.6 999.7l3.2 5.3M2059.6 999.7l-1.3 4.4M2059.6 999.7l2.0 4.5M2036.2 981.6l3.8 -4.4M2036.2 981.6l4.8 3.6M2036.2 981.6l-5.2 -1.2M2052.2 985.1l-5.9 -1.0M2052.2 985.1l1.7 -5.2M2052.2 985.1l-3.6 -4.1M2067.2 1013.3l-3.4 -3.9M2067.2 1013.3l-4.8 2.8M2067.2 1013.3l-1.1 -4.7M2067.7 1013.5l4.9 -2.5M2067.7 1013.5l3.7 -4.8M2067.7 1013.5l5.8 -1.6M2067.0 990.4l-4.7 2.3M2067.0 990.4l-4.9 -3.9M2067.0 990.4l2.3 -3.7M2091.7 1025.3l4.0 1.7M2091.7 1025.3l3.6 2.1M2091.7 1025.3l4.7 0.3M2100.7 1013.4l4.6 4.0M2100.7 1013.4l-5.2 -4.6M2100.7 1013.4l6.0 -1.5M2033.1 984.7l3.9 -1.3M2033.1 984.7l0.9 6.7M2033.1 984.7l-4.6 0.7M2081.3 993.3l0.2 -5.3M2081.3 993.3l-4.8 -1.3M2081.3 993.3l0.2 4.3M2055.8 1002.0l-5.4 -4.3M2055.8 1002.0l6.3 -0.5M2055.8 1002.0l4.6 -2.1" stroke="#d83020" stroke-width="1" fill="none"/>
<path d="M2073.7 1001.2h0M2071.5 1011.9h0M2065.0 1007.2h0M2093.5 1010.6h0M2097.6 1001.1h0M2092.4 1010.2h0M2050.1 1007.0h0M2045.2 999.7h0M2050.0 995.8h0M2089.4 1020.1h0M2088.0 1009.9h0M2095.0 1020.4h0M2074.0 1012.7h0M2071.7 1013.2h0M2072.6 1008.3h0M2050.7 982.3h0M2045.0 980.4h0M2038.9 982.1h0M2036.7 982.3h0M2032.4 992.0h0M2034.8 982.2h0M2068.0 994.7h0M2067.1 990.4h0M2067.3 990.0h0M2074.7 993.7h0M2077.8 998.0h0M2077.9 999.0h0M2047.5 981.2h0M2036.3 982.2h0M2045.9 987.6h0M2043.7 977.3h0M2045.5 987.4h0M2042.6 987.6h0M2092.5 1005.5h0M2087.5 1007.8h0M2090.2 996.2h0M2102.5 1001.2h0M2103.2 1004.2h0M2093.6 1004.8h0M2039.7 991.1h0M2042.6 1000.4h0M2046.0 994.0h0M2064.2 1001.1h0M2068.9 1002.4h0M2068.5 1004.0h0M2077.6 1008.0h0M2086.5 1012.7h0M2078.6 1004.0h0M2070.7 993.1h0M2074.7 982.6h0M2071.5 993.3h0M2064.5 988.8h0M2061.3 988.7h0M2069.7 993.0h0M2087.4 1012.5h0M2089.0 1012.1h0M2084.4 1017.1h0M2042.9 983.6h0M2045.3 985.0h0M2044.4 983.6h0M2064.5 993.1h0M2068.2 995.4h0M2057.8 1002.0h0M2106.2 1015.9h0M2106.4 1023.1h0M2105.4 1014.0h0M2069.8 996.0h0M2065.1 997.9h0M2064.3 1003.9h0M2047.6 992.5h0M2053.1 984.8h0M2052.9 993.6h0M2067.3 1003.8h0M2068.0 1007.0h0M2066.3 1000.2h0M2035.6 990.9h0M2038.0 990.2h0M2043.8 981.2h0M2045.9 999.5h0M2049.2 993.8h0M2048.8 993.4h0M2062.8 1004.9h0M2058.3 1004.0h0M2061.6 1004.2h0M2040.0 977.2h0M2041.0 985.2h0M2031.0 980.4h0M2046.3 984.0h0M2053.9 979.8h0M2048.6 981.0h0M2063.8 1009.5h0M2062.4 1016.2h0M2066.1 1008.6h0M2072.5 1011.0h0M2071.4 1008.7h0M2073.5 1011.9h0M2062.3 992.7h0M2062.1 986.5h0M2069.3 986.7h0M2095.7 1027.0h0M2095.3 1027.4h0M2096.4 1025.6h0M2105.3 1017.3h0M2095.6 1008.8h0M2106.8 1011.8h0M2037.0 983.4h0M2034.1 991.4h0M2028.6 985.4h0M2081.5 988.0h0M2076.5 992.0h0M2081.5 997.6h0M2050.5 997.8h0M2062.1 1001.5h0M2060.5 1000.0h0" stroke="#e02818" stroke-width="2.6" stroke-linecap="round" fill="none"/>
<path d="M2070.8 1006.4h0M2090.5 1015.5h0M2078.1 1010.5h0M2061.9 994.0h0M2080.9 995.1h0M2089.9 1002.1h0M2097.9 1003.2h0M2083.7 1008.1h0M2070.7 987.8h0M2044.4 979.4h0M2062.9 997.7h0M2051.5 989.0h0M2061.8 1004.8h0M2059.6 999.7h0M2036.2 981.6h0M2067.7 1013.5h0M2067.0 990.4h0M2033.1 984.7h0M2081.3 993.3h0" stroke="#8ad060" stroke-width="6.0" stroke-linecap="round" fill="none"/>
<path d="M2094.1 1003.8h0M2044.6 985.6h0M2042.0 983.7h0M2042.2 995.4h0M2064.1 994.0h0M2102.2 1018.9h0M2039.5 986.1h0M2052.2 985.1h0M2091.7 1025.3h0M2055.8 1002.0h0" stroke="#2040c0" stroke-width="6.0" stroke-linecap="round" fill="none"/>
<path d="M2051.3 1000.2h0M2035.3 987.9h0M2045.3 982.2h0M2067.3 997.4h0M2089.5 1017.1h0M2068.6 1001.1h0M2044.3 993.0h0M2067.2 1013.3h0M2100.7 1013.4h0" stroke="#d83020" stroke-width="4.0" stroke-linecap="round" fill="none"/>
<path d="M2057.2 1088.3l3.1 -5.3M2057.2 1088.3l-1.6 6.1M2057.2 1088.3l3.8 3.1M2090.4 1100.2l5.4 -0.1M2090.4 1100.2l-0.7 6.3M2090.4 1100.2l-3.8 1.2M2051.5 1055.6l4.7 0.9M2051.5 1055.6l-3.4 5.9M2051.5 1055.6l0.1 6.5M2048.5 1055.2l3.2 -4.2M2048.5 1055.2l6.3 -0.3M2048.5 1055.2l-4.8 0.5M2094.3 1048.4l-6.5 1.6M2094.3 1048.4l-4.5 -1.0M2094.3 1048.4l-3.9 3.8M2078.4 1054.4l2.1 5.3M2078.4 1054.4l6.3 1.4M2078.4 1054.4l1.9 3.9M2060.0 1070.1l-4.2 -2.6M2060.0 1070.1l4.1 -3.6M2060.0 1070.1l-6.4 -0.9M2102.3 1082.8l1.4 6.1M2102.3 1082.8l-3.1 -4.3M2102.3 1082.8l3.9 -1.0M2100.2 1097.0l2.9 -3.4M2100.2 1097.0l2.4 -3.8M2100.2 1097.0l5.2 1.8M2101.5 1092.6l4.3 -2.1M2101.5 1092.6l-5.8 0.5M2101.5 1092.6l0.2 5.6M2057.0 1100.2l5.3 0.3M2057.0 1100.2l0.3 -5.0M2057.0 1100.2l0.8 4.1M2075.0 1093.4l-1.6 -5.0M2075.0 1093.4l5.3 -3.2M2075.0 1093.4l5.4 4.0M2081.0 1069.9l5.9 -2.7M2081.0 1069.9l3.0 -5.3M2081.0 1069.9l-1.1 -5.9M2065.4 1069.9l-4.0 -2.6M2065.4 1069.9l4.1 4.6M2065.4 1069.9l-3.4 -2.4M2061.5 1047.4l-3.7 -4.5M2061.5 1047.4l-6.3 -0.5M2061.5 1047.4l3.7 -3.6M2100.9 1096.5l2.2 -5.0M2100.9 1096.5l-4.7 -2.3M2100.9 1096.5l4.9 -2.2M2080.2 1092.9l4.8 -1.5M2080.2 1092.9l-3.2 -6.0M2080.2 1092.9l-2.1 -4.7M2047.5 1087.7l4.8 2.5M2047.5 1087.7l-5.5 3.3M2047.5 1087.7l1.5 -6.8M2071.6 1051.7l-5.0 1.7M2071.6 1051.7l-5.7 -2.5M2071.6 1051.7l4.1 2.2M2052.8 1076.6l3.0 3.9M2052.8 1076.6l-2.1 6.6M2052.8 1076.6l1.8 6.6M2056.8 1072.1l-1.3 4.4M2056.8 1072.1l4.2 -0.7M2056.8 1072.1l3.3 2.9M2084.2 1067.5l4.7 2.1M2084.2 1067.5l1.0 4.4M2084.2 1067.5l6.1 0.6M2047.2 1074.3l4.5 1.4M2047.2 1074.3l-6.1 -2.7M2047.2 1074.3l-3.3 -5.2M2055.4 1056.0l-2.0 -6.1M2055.4 1056.0l2.7 -3.6M2055.4 1056.0l5.5 2.0M2052.2 1065.4l-5.5 -0.7M2052.2 1065.4l0.9 -4.4M2052.2 1065.4l-1.4 -5.1M2042.7 1085.9l-4.2 2.2M2042.7 1085.9l-1.1 5.6M2042.7 1085.9l-6.3 -2.2M2111.4 1067.1l-1.2 6.0M2111.4 1067.1l4.9 3.4M2111.4 1067.1l3.5 5.6M2093.1 1106.2l4.6 -1.0M2093.1 1106.2l1.7 -4.4M2093.1 1106.2l-1.5 4.1M2099.9 1099.3l-4.0 1.5M2099.9 1099.3l-1.6 -5.5M2099.9 1099.3l-5.4 3.0M2086.8 1050.5l0.5 5.0M2086.8 1050.5l-2.6 3.0M2086.8 1050.5l3.2 -2.8M2069.3 1101.5l5.1 3.8M2069.3 1101.5l2.2 -4.9M2069.3 1101.5l-3.9 2.1M2106.1 1096.8l5.6 0.0M2106.1 1096.8l0.2 4.4M2106.1 1096.8l3.4 -2.3M2052.8 1100.5l-4.1 4.8M2052.8 1100.5l-0.1 -4.3M2052.8 1100.5l-0.3 -5.7M2066.2 1090.6l-4.7 -5.0M2066.2 1090.6l1.7 -5.5M2066.2 1090.6l0.7 -5.4M2084.1 1091.0l-6.1 -2.1M2084.1 1091.0l-3.8 -3.5M2084.1 1091.0l6.3 0.8M2053.5 1083.4l-2.8 4.5M2053.5 1083.4l-1.3 5.5M2053.5 1083.4l-5.3 3.8M2082.3 1081.6l-4.7 -3.2M2082.3 1081.6l1.1 -5.2M2082.3 1081.6l-6.1 -1.4M2065.0 1091.4l-1.1 -6.1M2065.0 1091.4l4.4 -3.6M2065.0 1091.4l-4.3 -1.6M2063.6 1060.3l0.3 5.3M2063.6 1060.3l-6.7 0.1M2063.6 1060.3l4.9 1.3M2049.8 1088.3l-0.3 -5.4M2049.8 1088.3l2.6 -3.7M2049.8 1088.3l0.7 -5.2M2045.8 1055.2l-3.8 -1.7M2045.8 1055.2l-5.3 3.7M2045.8 1055.2l-0.5 -5.7M2042.4 1085.3l-3.6 1.9M2042.4 1085.3l-1.7 -5.1M2042.4 1085.3l-0.9 -5.8M2080.4 1078.1l-5.4 3.8M2080.4 1078.1l4.6 5.1M2080.4 1078.1l5.9 3.6M2040.0 1070.7l-4.6 -2.8M2040.0 1070.7l5.1 -2.2M2040.0 1070.7l-4.2 -0.2M2063.8 1045.7l1.7 -5.7M2063.8 1045.7l0.3 4.3M2063.8 1045.7l-6.0 3.3M2046.5 1060.7l3.7 -3.9M2046.5 1060.7l6.3 1.4M2046.5 1060.7l1.8 5.9M2058.0 1082.0l-6.9 0.0M2058.0 1082.0l3.8 5.1M2058.0 1082.0l-0.8 -4.0M2043.0 1072.8l-4.5 -2.0M2043.0 1072.8l-2.3 -6.5M2043.0 1072.8l-2.8 -4.7M2065.6 1099.1l-3.8 -2.9M2065.6 1099.1l-4.3 0.9M2065.6 1099.1l-0.8 -4.1M2075.7 1108.8l-4.5 -0.8M2075.7 1108.8l-3.8 -1.6M2075.7 1108.8l5.8 1.0M2077.3 1073.1l-1.3 -6.5M2077.3 1073.1l-3.1 -6.3M2077.3 1073.1l3.7 4.6M2089.2 1060.4l-3.0 -3.4M2089.2 1060.4l3.0 3.6M2089.2 1060.4l-6.3 -0.9M2039.5 1075.1l-1.4 -5.5M2039.5 1075.1l5.4 2.9M2039.5 1075.1l-4.5 -0.4M2108.0 1092.2l-3.5 -3.2M2108.0 1092.2l-1.9 5.0M2108.0 1092.2l0.0 -4.3M2057.1 1088.3l-4.4 1.7M2057.1 1088.3l-3.1 -5.7M2057.1 1088.3l-0.5 6.1M2103.2 1057.6l-4.5 1.0M2103.2 1057.6l-0.9 5.5M2103.2 1057.6l2.0 -5.4M2082.9 1064.6l6.3 0.0M2082.9 1064.6l-4.6 -2.5M2082.9 1064.6l0.3 5.3M2056.1 1059.7l-1.7 -4.5M2056.1 1059.7l4.3 5.1M2056.1 1059.7l-3.9 1.5M2052.9 1064.3l3.3 -2.7M2052.9 1064.3l-3.9 4.4M2052.9 1064.3l-3.4 -5.7M2040.0 1067.6l2.6 5.1M2040.0 1067.6l3.9 -3.7M2040.0 1067.6l-1.2 -5.3M2043.8 1093.6l-1.4 -6.7M2043.8 1093.6l-3.3 5.2M2043.8 1093.6l-3.7 5.5M2097.4 1052.7l0.6 -6.5M2097.4 1052.7l4.1 -4.1M2097.4 1052.7l4.3 -1.4M2074.5 1078.9l-3.8 -1.9M2074.5 1078.9l-5.3 -3.0M2074.5 1078.9l-1.4 6.3M2063.0 1059.8l-4.0 2.3M2063.0 1059.8l2.0 5.4M2063.0 1059.8l-3.1 2.8M2070.9 1048.9l-2.4 6.5M2070.9 1048.9l-6.0 1.0M2070.9 1048.9l-3.8 1.9M2101.2 1054.7l-3.5 -3.0M2101.2 1054.7l4.2 4.1M2101.2 1054.7l-1.8 -3.6M2060.7 1067.0l3.8 -1.3M2060.7 1067.0l2.5 4.3M2060.7 1067.0l1.8 -6.0M2065.2 1070.8l-0.2 -5.3M2065.2 1070.8l3.7 -2.3M2065.2 1070.8l4.0 -1.0M2040.4 1077.5l3.6 5.1M2040.4 1077.5l0.7 -6.0M2040.4 1077.5l0.1 6.6M2047.1 1096.9l-4.6 -0.4M2047.1 1096.9l5.7 4.0M2047.1 1096.9l4.4 1.6M2062.2 1103.3l-4.1 5.2M2062.2 1103.3l3.2 -5.7M2062.2 1103.3l-2.7 -3.0M2079.5 1048.0l-0.3 -4.6M2079.5 1048.0l6.5 -2.2M2079.5 1048.0l5.7 2.5M2074.4 1065.8l0.2 4.3M2074.4 1065.8l3.8 -3.8M2074.4 1065.8l-1.6 5.5M2063.9 1096.7l4.8 2.1M2063.9 1096.7l-3.9 -5.3M2063.9 1096.7l4.8 4.7M2053.7 1090.7l3.6 2.8M2053.7 1090.7l-2.3 3.9M2053.7 1090.7l5.0 3.2M2089.0 1106.3l-3.7 2.7M2089.0 1106.3l-4.4 -0.4M2089.0 1106.3l-2.9 -6.3M2077.6 1105.3l-5.2 1.1M2077.6 1105.3l-4.1 3.0M2077.6 1105.3l-3.9 2.3M2071.4 1080.3l-1.7 5.8M2071.4 1080.3l-4.2 0.5M2071.4 1080.3l4.0 5.2M2085.4 1099.5l-3.9 5.2M2085.4 1099.5l-4.4 -3.9M2085.4 1099.5l-3.5 4.5M2047.7 1077.4l-4.8 2.8M2047.7 1077.4l4.1 -1.5M2047.7 1077.4l1.5 6.5M2100.4 1077.4l5.8 -2.8M2100.4 1077.4l2.8 -3.3M2100.4 1077.4l-0.9 -4.3M2060.2 1045.3l3.0 -4.2M2060.2 1045.3l-5.5 0.4M2060.2 1045.3l1.6 5.5M2093.7 1046.7l3.5 -4.1M2093.7 1046.7l-4.7 1.9M2093.7 1046.7l1.8 4.5M2092.9 1101.4l3.6 -5.9M2092.9 1101.4l-3.4 3.4M2092.9 1101.4l-3.4 5.6M2070.1 1083.8l-0.4 4.5M2070.1 1083.8l-1.7 3.9M2070.1 1083.8l2.8 3.7" stroke="#d83020" stroke-width="1" fill="none"/>
<path d="M2060.3 1083.0h0M2055.6 1094.4h0M2061.0 1091.5h0M2095.8 1100.0h0M2089.7 1106.5h0M2086.5 1101.4h0M2056.2 1056.5h0M2048.1 1061.5h0M2051.6 1062.1h0M2051.7 1051.0h0M2054.8 1054.9h0M2043.7 1055.7h0M2087.7 1050.0h0M2089.8 1047.3h0M2090.4 1052.2h0M2080.5 1059.7h0M2084.8 1055.8h0M2080.3 1058.3h0M2055.8 1067.5h0M2064.1 1066.4h0M2053.5 1069.2h0M2103.7 1088.9h0M2099.2 1078.5h0M2106.3 1081.8h0M2103.0 1093.7h0M2102.5 1093.3h0M2105.4 1098.9h0M2105.7 1090.5h0M2095.7 1093.1h0M2101.7 1098.2h0M2062.4 1100.5h0M2057.3 1095.2h0M2057.8 1104.3h0M2073.4 1088.3h0M2080.3 1090.2h0M2080.4 1097.3h0M2086.9 1067.3h0M2084.0 1064.7h0M2079.9 1064.0h0M2061.4 1067.4h0M2069.5 1074.5h0M2062.0 1067.6h0M2057.8 1042.9h0M2055.2 1047.0h0M2065.1 1043.8h0M2103.1 1091.4h0M2096.2 1094.2h0M2105.8 1094.3h0M2085.0 1091.4h0M2077.1 1086.9h0M2078.2 1088.2h0M2052.3 1090.3h0M2042.0 1091.0h0M2049.0 1080.9h0M2066.6 1053.4h0M2065.8 1049.3h0M2075.7 1054.0h0M2055.8 1080.6h0M2050.7 1083.2h0M2054.6 1083.2h0M2055.5 1076.5h0M2061.0 1071.4h0M2060.1 1074.9h0M2088.9 1069.6h0M2085.3 1071.8h0M2090.3 1068.1h0M2051.7 1075.8h0M2041.1 1071.7h0M2043.9 1069.2h0M2053.4 1049.9h0M2058.1 1052.4h0M2060.9 1057.9h0M2046.6 1064.7h0M2053.1 1061.0h0M2050.7 1060.3h0M2038.5 1088.1h0M2041.6 1091.5h0M2036.4 1083.7h0M2110.2 1073.1h0M2116.3 1070.5h0M2114.9 1072.6h0M2097.7 1105.1h0M2094.7 1101.8h0M2091.6 1110.2h0M2095.9 1100.9h0M2098.3 1093.9h0M2094.5 1102.3h0M2087.4 1055.5h0M2084.2 1053.5h0M2090.1 1047.7h0M2074.4 1105.3h0M2071.5 1096.7h0M2065.4 1103.6h0M2111.7 1096.9h0M2106.3 1101.3h0M2109.5 1094.6h0M2048.8 1105.2h0M2052.7 1096.1h0M2052.6 1094.8h0M2061.6 1085.6h0M2068.0 1085.1h0M2066.9 1085.2h0M2078.0 1089.0h0M2080.3 1087.5h0M2090.4 1091.8h0M2050.7 1087.9h0M2052.2 1089.0h0M2048.2 1087.2h0M2077.6 1078.4h0M2083.4 1076.4h0M2076.2 1080.2h0M2064.0 1085.3h0M2069.4 1087.8h0M2060.7 1089.8h0M2063.9 1065.6h0M2056.9 1060.3h0M2068.5 1061.6h0M2049.5 1082.9h0M2052.4 1084.6h0M2050.5 1083.0h0M2042.0 1053.5h0M2040.5 1058.9h0M2045.2 1049.6h0M2038.7 1087.3h0M2040.7 1080.3h0M2041.4 1079.6h0M2075.0 1081.9h0M2085.0 1083.2h0M2086.3 1081.7h0M2035.5 1067.9h0M2045.1 1068.5h0M2035.9 1070.4h0M2065.5 1040.0h0M2064.0 1050.0h0M2057.8 1048.9h0M2050.2 1056.8h0M2052.8 1062.2h0M2048.3 1066.6h0M2051.1 1082.0h0M2061.8 1087.1h0M2057.2 1078.0h0M2038.6 1070.9h0M2040.7 1066.4h0M2040.3 1068.1h0M2061.8 1096.2h0M2061.3 1100.0h0M2064.8 1095.0h0M2071.3 1108.1h0M2071.9 1107.2h0M2081.5 1109.8h0M2076.0 1066.6h0M2074.2 1066.9h0M2081.0 1077.7h0M2086.3 1056.9h0M2092.2 1064.0h0M2082.9 1059.4h0M2038.1 1069.6h0M2044.9 1078.0h0M2035.0 1074.7h0M2104.5 1089.0h0M2106.1 1097.2h0M2108.0 1087.8h0M2052.7 1089.9h0M2054.1 1082.6h0M2056.6 1094.4h0M2098.7 1058.7h0M2102.3 1063.2h0M2105.3 1052.2h0M2089.2 1064.6h0M2078.3 1062.1h0M2083.2 1069.9h0M2054.3 1055.2h0M2060.3 1064.8h0M2052.1 1061.2h0M2056.2 1061.5h0M2049.0 1068.7h0M2049.5 1058.5h0M2042.5 1072.7h0M2043.9 1063.9h0M2038.8 1062.4h0M2042.3 1086.9h0M2040.4 1098.8h0M2040.0 1099.1h0M2097.9 1046.2h0M2101.4 1048.6h0M2101.6 1051.3h0M2070.7 1077.0h0M2069.2 1075.9h0M2073.1 1085.2h0M2059.0 1062.1h0M2065.0 1065.2h0M2059.9 1062.6h0M2068.5 1055.4h0M2065.0 1049.9h0M2067.2 1050.7h0M2097.7 1051.7h0M2105.4 1058.8h0M2099.4 1051.1h0M2064.5 1065.6h0M2063.2 1071.3h0M2062.5 1061.0h0M2064.9 1065.5h0M2068.9 1068.5h0M2069.2 1069.8h0M2044.0 1082.7h0M2041.1 1071.6h0M2040.5 1084.1h0M2042.5 1096.4h0M2052.8 1100.8h0M2051.5 1098.5h0M2058.0 1108.5h0M2065.3 1097.6h0M2059.4 1100.3h0M2079.2 1043.5h0M2086.1 1045.8h0M2085.2 1050.5h0M2074.6 1070.1h0M2078.1 1062.0h0M2072.8 1071.2h0M2068.8 1098.8h0M2060.0 1091.4h0M2068.7 1101.4h0M2057.3 1093.6h0M2051.4 1094.6h0M2058.7 1094.0h0M2085.3 1109.1h0M2084.6 1105.9h0M2086.1 1100.1h0M2072.4 1106.4h0M2073.5 1108.3h0M2073.7 1107.6h0M2069.6 1086.1h0M2067.2 1080.8h0M2075.4 1085.4h0M2081.5 1104.6h0M2081.1 1095.5h0M2081.9 1104.0h0M2042.9 1080.3h0M2051.8 1076.0h0M2049.2 1084.0h0M2106.1 1074.6h0M2103.1 1074.1h0M2099.5 1073.1h0M2063.2 1041.0h0M2054.7 1045.6h0M2061.8 1050.7h0M2097.2 1042.6h0M2089.0 1048.6h0M2095.5 1051.2h0M2096.5 1095.5h0M2089.4 1104.8h0M2089.4 1107.0h0M2069.7 1088.3h0M2068.4 1087.7h0M2072.9 1087.5h0" stroke="#e02818" stroke-width="2.6" stroke-linecap="round" fill="none"/>
<path d="M2057.2 1088.3h0M2051.5 1055.6h0M2094.3 1048.4h0M2060.0 1070.1h0M2100.2 1097.0h0M2057.0 1100.2h0M2081.0 1069.9h0M2061.5 1047.4h0M2080.2 1092.9h0M2071.6 1051.7h0M2056.8 1072.1h0M2047.2 1074.3h0M2052.2 1065.4h0M2111.4 1067.1h0M2099.9 1099.3h0M2069.3 1101.5h0M2052.8 1100.5h0M2084.1 1091.0h0M2082.3 1081.6h0M2063.6 1060.3h0M2045.8 1055.2h0M2080.4 1078.1h0M2063.8 1045.7h0M2058.0 1082.0h0M2065.6 1099.1h0M2077.3 1073.1h0M2039.5 1075.1h0M2057.1 1088.3h0M2082.9 1064.6h0M2052.9 1064.3h0M2043.8 1093.6h0M2074.5 1078.9h0M2070.9 1048.9h0M2060.7 1067.0h0M2040.4 1077.5h0M2062.2 1103.3h0M2074.4 1065.8h0M2053.7 1090.7h0M2077.6 1105.3h0M2085.4 1099.5h0M2100.4 1077.4h0M2093.7 1046.7h0M2070.1 1083.8h0" stroke="#a020a0" stroke-width="6.4" stroke-linecap="round" fill="none"/>
<path d="M2090.4 1100.2h0M2078.4 1054.4h0M2101.5 1092.6h0M2065.4 1069.9h0M2047.5 1087.7h0M2084.2 1067.5h0M2042.7 1085.9h0M2086.8 1050.5h0M2066.2 1090.6h0M2065.0 1091.4h0M2042.4 1085.3h0M2046.5 1060.7h0M2075.7 1108.8h0M2108.0 1092.2h0M2056.1 1059.7h0M2097.4 1052.7h0M2101.2 1054.7h0M2047.1 1096.9h0M2063.9 1096.7h0M2071.4 1080.3h0M2060.2 1045.3h0" stroke="#8ad060" stroke-width="6.4" stroke-linecap="round" fill="none"/>
<path d="M2048.5 1055.2h0M2102.3 1082.8h0M2075.0 1093.4h0M2100.9 1096.5h0M2052.8 1076.6h0M2055.4 1056.0h0M2093.1 1106.2h0M2106.1 1096.8h0M2053.5 1083.4h0M2049.8 1088.3h0M2040.0 1070.7h0M2043.0 1072.8h0M2089.2 1060.4h0M2103.2 1057.6h0M2040.0 1067.6h0M2063.0 1059.8h0M2065.2 1070.8h0M2079.5 1048.0h0M2089.0 1106.3h0M2047.7 1077.4h0M2092.9 1101.4h0" stroke="#d83020" stroke-width="4.0" stroke-linecap="round" fill="none"/>
<rect x="2388.8" y="828.3" width="507.2" height="283.0" fill="#fff"/>
<line x1="2399.7" y1="828.3" x2="2399.7" y2="1111.3" stroke="#ddd" stroke-width="0.7"/>
<line x1="2399.7" y1="1111.3" x2="2399.7" y2="1115.3" stroke="#111" stroke-width="1.2"/>
<text x="2399.7" y="1129.6" font-family="DejaVu Sans, sans-serif" font-weight="bold" font-size="16.2" text-anchor="middle" fill="#111">1</text>
<line x1="2460.1" y1="828.3" x2="2460.1" y2="1111.3" stroke="#ddd" stroke-width="0.7"/>
<line x1="2460.1" y1="1111.3" x2="2460.1" y2="1115.3" stroke="#111" stroke-width="1.2"/>
<text x="2460.1" y="1129.6" font-family="DejaVu Sans, sans-serif" font-weight="bold" font-size="16.2" text-anchor="middle" fill="#111">2</text>
<line x1="2520.5" y1="828.3" x2="2520.5" y2="1111.3" stroke="#ddd" stroke-width="0.7"/>
<line x1="2520.5" y1="1111.3" x2="2520.5" y2="1115.3" stroke="#111" stroke-width="1.2"/>
<text x="2520.5" y="1129.6" font-family="DejaVu Sans, sans-serif" font-weight="bold" font-size="16.2" text-anchor="middle" fill="#111">3</text>
<line x1="2580.9" y1="828.3" x2="2580.9" y2="1111.3" stroke="#ddd" stroke-width="0.7"/>
<line x1="2580.9" y1="1111.3" x2="2580.9" y2="1115.3" stroke="#111" stroke-width="1.2"/>
<text x="2580.9" y="1129.6" font-family="DejaVu Sans, sans-serif" font-weight="bold" font-size="16.2" text-anchor="middle" fill="#111">4</text>
<line x1="2641.3" y1="828.3" x2="2641.3" y2="1111.3" stroke="#ddd" stroke-width="0.7"/>
<line x1="2641.3" y1="1111.3" x2="2641.3" y2="1115.3" stroke="#111" stroke-width="1.2"/>
<text x="2641.3" y="1129.6" font-family="DejaVu Sans, sans-serif" font-weight="bold" font-size="16.2" text-anchor="middle" fill="#111">5</text>
<line x1="2701.6" y1="828.3" x2="2701.6" y2="1111.3" stroke="#ddd" stroke-width="0.7"/>
<line x1="2701.6" y1="1111.3" x2="2701.6" y2="1115.3" stroke="#111" stroke-width="1.2"/>
<text x="2701.6" y="1129.6" font-family="DejaVu Sans, sans-serif" font-weight="bold" font-size="16.2" text-anchor="middle" fill="#111">6</text>
<line x1="2762.0" y1="828.3" x2="2762.0" y2="1111.3" stroke="#ddd" stroke-width="0.7"/>
<line x1="2762.0" y1="1111.3" x2="2762.0" y2="1115.3" stroke="#111" stroke-width="1.2"/>
<text x="2762.0" y="1129.6" font-family="DejaVu Sans, sans-serif" font-weight="bold" font-size="16.2" text-anchor="middle" fill="#111">7</text>
<line x1="2822.4" y1="828.3" x2="2822.4" y2="1111.3" stroke="#ddd" stroke-width="0.7"/>
<line x1="2822.4" y1="1111.3" x2="2822.4" y2="1115.3" stroke="#111" stroke-width="1.2"/>
<text x="2822.4" y="1129.6" font-family="DejaVu Sans, sans-serif" font-weight="bold" font-size="16.2" text-anchor="middle" fill="#111">8</text>
<line x1="2882.8" y1="828.3" x2="2882.8" y2="1111.3" stroke="#ddd" stroke-width="0.7"/>
<line x1="2882.8" y1="1111.3" x2="2882.8" y2="1115.3" stroke="#111" stroke-width="1.2"/>
<text x="2882.8" y="1129.6" font-family="DejaVu Sans, sans-serif" font-weight="bold" font-size="16.2" text-anchor="middle" fill="#111">9</text>
<line x1="2388.8" y1="1077.5" x2="2896.0" y2="1077.5" stroke="#ddd" stroke-width="0.7"/>
<line x1="2384.8" y1="1077.5" x2="2388.8" y2="1077.5" stroke="#111" stroke-width="1.2"/>
<text x="2384" y="1083.5" font-family="DejaVu Sans, sans-serif" font-weight="bold" font-size="16.2" text-anchor="end" fill="#111">0</text>
<line x1="2388.8" y1="1032.2" x2="2896.0" y2="1032.2" stroke="#ddd" stroke-width="0.7"/>
<line x1="2384.8" y1="1032.2" x2="2388.8" y2="1032.2" stroke="#111" stroke-width="1.2"/>
<text x="2384" y="1038.2" font-family="DejaVu Sans, sans-serif" font-weight="bold" font-size="16.2" text-anchor="end" fill="#111">20</text>
<line x1="2388.8" y1="986.9" x2="2896.0" y2="986.9" stroke="#ddd" stroke-width="0.7"/>
<line x1="2384.8" y1="986.9" x2="2388.8" y2="986.9" stroke="#111" stroke-width="1.2"/>
<text x="2384" y="992.9" font-family="DejaVu Sans, sans-serif" font-weight="bold" font-size="16.2" text-anchor="end" fill="#111">40</text>
<line x1="2388.8" y1="941.6" x2="2896.0" y2="941.6" stroke="#ddd" stroke-width="0.7"/>
<line x1="2384.8" y1="941.6" x2="2388.8" y2="941.6" stroke="#111" stroke-width="1.2"/>
<text x="2384" y="947.6" font-family="DejaVu Sans, sans-serif" font-weight="bold" font-size="16.2" text-anchor="end" fill="#111">60</text>
<line x1="2388.8" y1="896.3" x2="2896.0" y2="896.3" stroke="#ddd" stroke-width="0.7"/>
<line x1="2384.8" y1="896.3" x2="2388.8" y2="896.3" stroke="#111" stroke-width="1.2"/>
<text x="2384" y="902.3" font-family="DejaVu Sans, sans-serif" font-weight="bold" font-size="16.2" text-anchor="end" fill="#111">80</text>
<line x1="2388.8" y1="851.0" x2="2896.0" y2="851.0" stroke="#ddd" stroke-width="0.7"/>
<line x1="2384.8" y1="851.0" x2="2388.8" y2="851.0" stroke="#111" stroke-width="1.2"/>
<text x="2384" y="857.0" font-family="DejaVu Sans, sans-serif" font-weight="bold" font-size="16.2" text-anchor="end" fill="#111">100</text>
<text transform="translate(2341 970) rotate(-90)" font-family="DejaVu Sans, sans-serif" font-weight="bold" font-size="16.6" text-anchor="middle" fill="#111">I (arb.u.)</text>
<text x="2641.6" y="1149.6" font-family="DejaVu Sans, sans-serif" font-weight="bold" font-size="16.6" text-anchor="middle" fill="#111">d (A°)</text>
<polyline points="2411.8,1071.6 2412.1,1071.9 2412.5,1071.1 2412.9,1072.0 2413.2,1071.2 2413.6,1071.5 2414.0,1072.0 2414.3,1071.3 2414.7,1072.0 2415.0,1071.4 2415.4,1071.9 2415.8,1071.9 2416.1,1071.4 2416.5,1070.7 2416.9,1071.8 2417.2,1071.6 2417.6,1071.0 2417.9,1070.5 2418.3,1071.0 2418.7,1071.3 2419.0,1070.3 2419.4,1071.7 2419.7,1070.4 2420.1,1071.2 2420.5,1071.2 2420.8,1070.9 2421.2,1069.9 2421.6,1067.2 2421.9,1063.3 2422.3,1064.4 2422.6,1068.1 2423.0,1069.6 2423.4,1069.6 2423.7,1070.2 2424.1,1069.7 2424.5,1068.5 2424.8,1065.4 2425.2,1060.5 2425.5,1051.4 2425.9,1053.1 2426.3,1059.7 2426.6,1058.1 2427.0,1056.2 2427.4,1064.5 2427.7,1068.5 2428.1,1069.2 2428.4,1069.9 2428.8,1069.7 2429.2,1070.1 2429.5,1071.0 2429.9,1069.9 2430.3,1071.4 2430.6,1070.9 2431.0,1070.4 2431.3,1071.3 2431.7,1070.7 2432.1,1071.3 2432.4,1070.1 2432.8,1069.5 2433.2,1068.9 2433.5,1066.1 2433.9,1061.2 2434.2,1058.3 2434.6,1065.2 2435.0,1068.4 2435.3,1069.8 2435.7,1069.7 2436.1,1069.9 2436.4,1070.8 2436.8,1070.6 2437.1,1071.6 2437.5,1070.7 2437.9,1070.8 2438.2,1070.3 2438.6,1070.6 2439.0,1071.4 2439.3,1071.3 2439.7,1070.9 2440.0,1071.9 2440.4,1071.2 2440.8,1071.7 2441.1,1071.8 2441.5,1071.8 2441.9,1070.7 2442.2,1071.7 2442.6,1071.5 2442.9,1071.3 2443.3,1070.5 2443.7,1071.8 2444.0,1071.2 2444.4,1071.0 2444.8,1070.5 2445.1,1070.6 2445.5,1070.5 2445.8,1071.4 2446.2,1071.2 2446.6,1071.3 2446.9,1070.4 2447.3,1070.3 2447.6,1071.5 2448.0,1071.4 2448.4,1071.3 2448.7,1071.2 2449.1,1070.7 2449.5,1070.4 2449.8,1070.8 2450.2,1070.9 2450.5,1069.6 2450.9,1068.2 2451.3,1064.2 2451.6,1058.8 2452.0,1064.0 2452.4,1067.9 2452.7,1069.1 2453.1,1069.5 2453.4,1070.7 2453.8,1069.5 2454.2,1069.7 2454.5,1069.6 2454.9,1069.6 2455.3,1070.2 2455.6,1070.1 2456.0,1070.4 2456.3,1069.4 2456.7,1070.1 2457.1,1069.8 2457.4,1069.2 2457.8,1068.9 2458.2,1068.0 2458.5,1067.7 2458.9,1066.8 2459.2,1065.1 2459.6,1063.1 2460.0,1059.5 2460.3,1054.9 2460.7,1044.9 2461.1,1029.9 2461.4,1004.4 2461.8,976.9 2462.1,983.9 2462.5,1014.0 2462.9,1036.8 2463.2,1048.4 2463.6,1055.4 2464.0,1060.6 2464.3,1063.3 2464.7,1065.7 2465.0,1067.0 2465.4,1067.5 2465.8,1068.4 2466.1,1068.0 2466.5,1069.5 2466.9,1070.0 2467.2,1068.8 2467.6,1069.7 2467.9,1070.4 2468.3,1070.0 2468.7,1070.9 2469.0,1070.2 2469.4,1069.6 2469.8,1069.9 2470.1,1070.2 2470.5,1070.9 2470.8,1070.8 2471.2,1071.2 2471.6,1070.2 2471.9,1070.7 2472.3,1070.3 2472.7,1071.0 2473.0,1071.2 2473.4,1070.3 2473.7,1070.0 2474.1,1070.2 2474.5,1070.3 2474.8,1070.3 2475.2,1070.4 2475.5,1071.2 2475.9,1070.7 2476.3,1070.9 2476.6,1071.4 2477.0,1071.3 2477.4,1070.9 2477.7,1070.8 2478.1,1069.9 2478.4,1069.1 2478.8,1069.3 2479.2,1067.3 2479.5,1064.3 2479.9,1059.3 2480.3,1061.8 2480.6,1066.5 2481.0,1068.6 2481.3,1069.5 2481.7,1069.8 2482.1,1069.2 2482.4,1068.7 2482.8,1068.5 2483.2,1068.7 2483.5,1067.9 2483.9,1066.7 2484.2,1066.4 2484.6,1063.0 2485.0,1058.2 2485.3,1050.0 2485.7,1035.8 2486.1,1025.9 2486.4,1036.8 2486.8,1050.0 2487.1,1059.1 2487.5,1062.8 2487.9,1065.1 2488.2,1067.5 2488.6,1068.4 2489.0,1068.2 2489.3,1069.0 2489.7,1070.2 2490.0,1070.6 2490.4,1070.7 2490.8,1069.7 2491.1,1070.0 2491.5,1071.1 2491.9,1070.1 2492.2,1069.9 2492.6,1070.5 2492.9,1071.0 2493.3,1070.7 2493.7,1071.4 2494.0,1071.7 2494.4,1070.2 2494.8,1070.7 2495.1,1070.9 2495.5,1070.3 2495.8,1071.1 2496.2,1070.4 2496.6,1070.5 2496.9,1071.5 2497.3,1071.4 2497.7,1071.3 2498.0,1071.4 2498.4,1070.9 2498.7,1071.4 2499.1,1071.2 2499.5,1071.6 2499.8,1070.4 2500.2,1071.3 2500.6,1071.1 2500.9,1070.9 2501.3,1070.4 2501.6,1071.1 2502.0,1070.4 2502.4,1071.0 2502.7,1071.0 2503.1,1071.0 2503.5,1071.8 2503.8,1071.1 2504.2,1071.5 2504.5,1071.8 2504.9,1070.5 2505.3,1071.5 2505.6,1071.0 2506.0,1070.6 2506.3,1070.9 2506.7,1071.2 2507.1,1070.9 2507.4,1070.8 2507.8,1070.5 2508.2,1071.5 2508.5,1070.8 2508.9,1071.3 2509.2,1071.2 2509.6,1070.4 2510.0,1070.8 2510.3,1070.7 2510.7,1070.4 2511.1,1070.2 2511.4,1070.9 2511.8,1070.6 2512.1,1070.8 2512.5,1070.7 2512.9,1070.4 2513.2,1070.8 2513.6,1070.7 2514.0,1070.7 2514.3,1070.0 2514.7,1070.3 2515.0,1070.0 2515.4,1069.9 2515.8,1071.0 2516.1,1070.5 2516.5,1069.9 2516.9,1070.0 2517.2,1071.1 2517.6,1071.1 2517.9,1070.6 2518.3,1071.1 2518.7,1070.8 2519.0,1071.1 2519.4,1070.1 2519.8,1069.9 2520.1,1069.7 2520.5,1070.8 2520.8,1069.9 2521.2,1070.0 2521.6,1070.8 2521.9,1069.6 2522.3,1069.4 2522.7,1070.6 2523.0,1069.4 2523.4,1070.2 2523.7,1070.1 2524.1,1069.2 2524.5,1069.4 2524.8,1070.5 2525.2,1070.0 2525.6,1069.8 2525.9,1070.1 2526.3,1070.3 2526.6,1070.0 2527.0,1069.4 2527.4,1070.4 2527.7,1069.5 2528.1,1069.7 2528.5,1070.3 2528.8,1069.8 2529.2,1069.3 2529.5,1069.4 2529.9,1070.1 2530.3,1068.6 2530.6,1068.8 2531.0,1068.5 2531.4,1069.8 2531.7,1069.5 2532.1,1069.8 2532.4,1068.6 2532.8,1069.3 2533.2,1069.5 2533.5,1069.0 2533.9,1068.2 2534.2,1068.3 2534.6,1069.1 2535.0,1069.2 2535.3,1067.9 2535.7,1068.4 2536.1,1068.2 2536.4,1069.1 2536.8,1069.1 2537.1,1068.0 2537.5,1068.3 2537.9,1068.8 2538.2,1067.4 2538.6,1067.8 2539.0,1067.5 2539.3,1068.6 2539.7,1067.3 2540.0,1068.4 2540.4,1067.1 2540.8,1067.7 2541.1,1067.8 2541.5,1067.4 2541.9,1066.7 2542.2,1067.7 2542.6,1067.8 2542.9,1067.1 2543.3,1067.5 2543.7,1067.6 2544.0,1067.5 2544.4,1067.6 2544.8,1067.2 2545.1,1067.0 2545.5,1066.9 2545.8,1066.1 2546.2,1066.8 2546.6,1066.3 2546.9,1066.8 2547.3,1066.4 2547.7,1066.8 2548.0,1066.4 2548.4,1066.7 2548.7,1065.4 2549.1,1065.6 2549.5,1066.1 2549.8,1065.6 2550.2,1064.7 2550.6,1066.0 2550.9,1064.7 2551.3,1065.2 2551.6,1065.0 2552.0,1064.4 2552.4,1065.0 2552.7,1064.7 2553.1,1064.3 2553.5,1063.8 2553.8,1064.7 2554.2,1063.8 2554.5,1063.9 2554.9,1063.9 2555.3,1064.2 2555.6,1064.2 2556.0,1064.5 2556.4,1064.3 2556.7,1064.3 2557.1,1063.1 2557.4,1063.8 2557.8,1063.8 2558.2,1063.8 2558.5,1062.5 2558.9,1062.3 2559.3,1062.6 2559.6,1063.1 2560.0,1063.0 2560.3,1062.8 2560.7,1062.4 2561.1,1062.8 2561.4,1062.2 2561.8,1062.4 2562.1,1061.2 2562.5,1061.1 2562.9,1061.6 2563.2,1062.0 2563.6,1060.7 2564.0,1061.7 2564.3,1061.5 2564.7,1061.9 2565.0,1061.2 2565.4,1060.9 2565.8,1060.8 2566.1,1061.2 2566.5,1060.6 2566.9,1061.2 2567.2,1060.7 2567.6,1060.9 2567.9,1060.3 2568.3,1060.7 2568.7,1060.7 2569.0,1060.1 2569.4,1060.1 2569.8,1059.4 2570.1,1059.4 2570.5,1058.9 2570.8,1059.0 2571.2,1058.8 2571.6,1058.4 2571.9,1059.1 2572.3,1059.1 2572.7,1057.9 2573.0,1059.1 2573.4,1058.1 2573.7,1058.2 2574.1,1059.0 2574.5,1057.6 2574.8,1057.5 2575.2,1057.8 2575.6,1057.5 2575.9,1057.3 2576.3,1058.2 2576.6,1057.5 2577.0,1057.5 2577.4,1056.9 2577.7,1056.8 2578.1,1056.7 2578.5,1057.0 2578.8,1056.4 2579.2,1056.6 2579.5,1056.5 2579.9,1057.2 2580.3,1057.4 2580.6,1057.2 2581.0,1056.7 2581.4,1057.0 2581.7,1055.8 2582.1,1056.1 2582.4,1056.0 2582.8,1055.9 2583.2,1055.7 2583.5,1055.9 2583.9,1056.6 2584.3,1055.3 2584.6,1055.3 2585.0,1055.6 2585.3,1055.5 2585.7,1055.2 2586.1,1056.1 2586.4,1055.0 2586.8,1055.7 2587.2,1055.9 2587.5,1055.5 2587.9,1054.7 2588.2,1055.4 2588.6,1054.5 2589.0,1054.1 2589.3,1054.8 2589.7,1054.9 2590.0,1054.6 2590.4,1054.2 2590.8,1054.0 2591.1,1054.1 2591.5,1054.0 2591.9,1054.7 2592.2,1054.5 2592.6,1054.2 2592.9,1053.2 2593.3,1053.7 2593.7,1053.0 2594.0,1053.5 2594.4,1053.1 2594.8,1052.2 2595.1,1051.0 2595.5,1050.1 2595.8,1049.2 2596.2,1048.8 2596.6,1047.5 2596.9,1046.9 2597.3,1046.8 2597.7,1047.8 2598.0,1047.5 2598.4,1049.6 2598.7,1049.3 2599.1,1050.2 2599.5,1052.4 2599.8,1052.2 2600.2,1052.1 2600.6,1052.2 2600.9,1053.3 2601.3,1053.8 2601.6,1054.1 2602.0,1053.1 2602.4,1054.4 2602.7,1054.0 2603.1,1054.8 2603.5,1054.3 2603.8,1053.7 2604.2,1055.1 2604.5,1054.1 2604.9,1054.7 2605.3,1054.2 2605.6,1054.6 2606.0,1055.4 2606.4,1054.4 2606.7,1055.2 2607.1,1056.0 2607.4,1056.1 2607.8,1055.4 2608.2,1055.5 2608.5,1055.8 2608.9,1056.1 2609.3,1055.9 2609.6,1056.0 2610.0,1055.2 2610.3,1056.6 2610.7,1055.5 2611.1,1055.4 2611.4,1056.6 2611.8,1055.4 2612.2,1055.7 2612.5,1055.5 2612.9,1056.5 2613.2,1056.4 2613.6,1056.3 2614.0,1055.4 2614.3,1056.0 2614.7,1056.3 2615.1,1056.2 2615.4,1056.4 2615.8,1056.7 2616.1,1056.5 2616.5,1055.2 2616.9,1055.9 2617.2,1048.8 2617.6,1049.7 2617.9,1049.4 2618.3,1048.7 2618.7,1048.9 2619.0,1048.1 2619.4,1046.6 2619.8,1046.1 2620.1,1045.3 2620.5,1044.6 2620.8,1042.9 2621.2,1041.3 2621.6,1040.0 2621.9,1037.3 2622.3,1035.2 2622.7,1030.1 2623.0,1025.3 2623.4,1017.9 2623.7,1008.6 2624.1,996.3 2624.5,978.8 2624.8,952.9 2625.2,922.2 2625.6,885.5 2625.9,856.8 2626.3,852.1 2626.6,874.2 2627.0,909.7 2627.4,945.2 2627.7,971.9 2628.1,992.7 2628.5,1007.0 2628.8,1018.0 2629.2,1026.4 2629.5,1032.5 2629.9,1037.2 2630.3,1039.8 2630.6,1043.4 2631.0,1046.2 2631.4,1047.1 2631.7,1048.7 2632.1,1050.9 2632.4,1052.6 2632.8,1053.6 2633.2,1054.7 2633.5,1055.1 2633.9,1056.2 2634.3,1056.6 2634.6,1057.1 2635.0,1057.2 2635.3,1057.1 2635.7,1057.8 2636.1,1058.7 2636.4,1059.1 2636.8,1059.3 2637.2,1059.8 2637.5,1060.2 2637.9,1060.9 2638.2,1060.8 2638.6,1060.0 2639.0,1061.5 2639.3,1061.1 2639.7,1061.2 2640.1,1061.0 2640.4,1062.2 2640.8,1062.3 2641.1,1062.5 2641.5,1062.4 2641.9,1062.5 2642.2,1061.9 2642.6,1062.2 2643.0,1062.3 2643.3,1063.8 2643.7,1063.9 2644.0,1062.9 2644.4,1062.8 2644.8,1063.6 2645.1,1063.5 2645.5,1064.5 2645.8,1064.0 2646.2,1063.3 2646.6,1063.5 2646.9,1063.6 2647.3,1063.5 2647.7,1064.7 2648.0,1065.0 2648.4,1065.0 2648.7,1064.5 2649.1,1064.4 2649.5,1064.0 2649.8,1064.5 2650.2,1064.6 2650.6,1064.5 2650.9,1065.1 2651.3,1065.0 2651.6,1065.9 2652.0,1064.8 2652.4,1065.7 2652.7,1064.7 2653.1,1065.2 2653.5,1065.8 2653.8,1066.1 2654.2,1065.9 2654.5,1065.4 2654.9,1065.3 2655.3,1066.3 2655.6,1066.4 2656.0,1065.7 2656.4,1065.7 2656.7,1066.0 2657.1,1066.4 2657.4,1065.8 2657.8,1066.8 2658.2,1066.3 2658.5,1066.1 2658.9,1065.4 2659.3,1065.9 2659.6,1065.6 2660.0,1066.2 2660.3,1066.7 2660.7,1066.7 2661.1,1065.6 2661.4,1066.0 2661.8,1066.7 2662.2,1067.1 2662.5,1066.4 2662.9,1066.2 2663.2,1066.6 2663.6,1066.9 2664.0,1066.2 2664.3,1065.9 2664.7,1067.0 2665.1,1067.3 2665.4,1066.8 2665.8,1066.7 2666.1,1066.3 2666.5,1067.1 2666.9,1066.2 2667.2,1066.3 2667.6,1066.7 2668.0,1067.2 2668.3,1066.0 2668.7,1067.1 2669.0,1066.3 2669.4,1067.2 2669.8,1067.2 2670.1,1066.4 2670.5,1067.2 2670.9,1066.1 2671.2,1066.9 2671.6,1067.4 2671.9,1067.3 2672.3,1067.0 2672.7,1066.6 2673.0,1066.2 2673.4,1067.5 2673.7,1067.1 2674.1,1067.4 2674.5,1066.2 2674.8,1067.5 2675.2,1067.7 2675.6,1067.7 2675.9,1067.2 2676.3,1066.4 2676.6,1066.4 2677.0,1066.7 2677.4,1066.2 2677.7,1066.4 2678.1,1067.3 2678.5,1067.6 2678.8,1066.4 2679.2,1066.7 2679.5,1067.8 2679.9,1066.8 2680.3,1067.3 2680.6,1067.3 2681.0,1067.4 2681.4,1067.6 2681.7,1067.9 2682.1,1067.5 2682.4,1067.4 2682.8,1066.4 2683.2,1067.7 2683.5,1066.4 2683.9,1067.6 2684.3,1067.4 2684.6,1066.7 2685.0,1066.7 2685.3,1067.3 2685.7,1067.9 2686.1,1067.2 2686.4,1067.4 2686.8,1066.5 2687.2,1067.7 2687.5,1067.4 2687.9,1066.6 2688.2,1067.9 2688.6,1067.3 2689.0,1066.7 2689.3,1066.8 2689.7,1067.9 2690.1,1068.0 2690.4,1067.9 2690.8,1066.6 2691.1,1067.6 2691.5,1066.8 2691.9,1066.6 2692.2,1067.5 2692.6,1067.6 2693.0,1066.5 2693.3,1067.1 2693.7,1067.6 2694.0,1066.9 2694.4,1067.5 2694.8,1067.6 2695.1,1068.0 2695.5,1066.8 2695.9,1066.6 2696.2,1067.0 2696.6,1066.6 2696.9,1068.0 2697.3,1067.7 2697.7,1067.3 2698.0,1066.5 2698.4,1066.5 2698.8,1067.4 2699.1,1067.7 2699.5,1067.4 2699.8,1067.3 2700.2,1066.6 2700.6,1067.8 2700.9,1066.8 2701.3,1066.9 2701.6,1066.8 2702.0,1066.8 2702.4,1067.1 2702.7,1067.5 2703.1,1067.6 2703.5,1067.5 2703.8,1066.8 2704.2,1067.9 2704.5,1067.7 2704.9,1066.9 2705.3,1067.7 2705.6,1068.0 2706.0,1068.0 2706.4,1067.2 2706.7,1067.5 2707.1,1066.5 2707.4,1066.7 2707.8,1066.5 2708.2,1067.6 2708.5,1067.9 2708.9,1067.9 2709.3,1067.3 2709.6,1066.9 2710.0,1067.3 2710.3,1067.7 2710.7,1067.4 2711.1,1067.1 2711.4,1067.0 2711.8,1066.9 2712.2,1066.7 2712.5,1067.0 2712.9,1067.9 2713.2,1066.7 2713.6,1067.6 2714.0,1067.1 2714.3,1067.5 2714.7,1066.9 2715.1,1067.7 2715.4,1067.6 2715.8,1067.6 2716.1,1067.8 2716.5,1066.6 2716.9,1067.1 2717.2,1067.5 2717.6,1067.4 2718.0,1066.5 2718.3,1067.2 2718.7,1067.7 2719.0,1066.7 2719.4,1067.0 2719.8,1066.4 2720.1,1067.9 2720.5,1067.3 2720.9,1066.7 2721.2,1066.7 2721.6,1066.6 2721.9,1067.9 2722.3,1067.5 2722.7,1067.8 2723.0,1067.7 2723.4,1066.5 2723.8,1067.1 2724.1,1066.5 2724.5,1067.4 2724.8,1066.6 2725.2,1067.3 2725.6,1067.6 2725.9,1066.7 2726.3,1066.5 2726.7,1067.8 2727.0,1067.0 2727.4,1067.0 2727.7,1067.6 2728.1,1067.4 2728.5,1067.7 2728.8,1067.6 2729.2,1067.6 2729.6,1067.0 2729.9,1066.9 2730.3,1067.6 2730.6,1067.9 2731.0,1067.4 2731.4,1066.9 2731.7,1067.6 2732.1,1067.4 2732.4,1067.6 2732.8,1066.7 2733.2,1067.1 2733.5,1067.8 2733.9,1067.8 2734.3,1067.3 2734.6,1067.0 2735.0,1066.9 2735.3,1067.8 2735.7,1067.6 2736.1,1066.8 2736.4,1067.2 2736.8,1067.4 2737.2,1067.4 2737.5,1066.4 2737.9,1067.4 2738.2,1067.0 2738.6,1067.3 2739.0,1067.2 2739.3,1066.5 2739.7,1066.3 2740.1,1067.3 2740.4,1067.5 2740.8,1066.7 2741.1,1067.5 2741.5,1067.8 2741.9,1066.4 2742.2,1067.2 2742.6,1066.5 2743.0,1067.2 2743.3,1066.4 2743.7,1067.1 2744.0,1067.6 2744.4,1067.8 2744.8,1066.9 2745.1,1066.8 2745.5,1066.4 2745.9,1067.7 2746.2,1066.8 2746.6,1067.2 2746.9,1067.0 2747.3,1067.5 2747.7,1067.3 2748.0,1066.9 2748.4,1066.3 2748.8,1067.6 2749.1,1067.0 2749.5,1066.5 2749.8,1066.2 2750.2,1067.4 2750.6,1067.5 2750.9,1066.2 2751.3,1066.2 2751.7,1067.0 2752.0,1067.6 2752.4,1066.3 2752.7,1067.1 2753.1,1066.3 2753.5,1066.7 2753.8,1066.4 2754.2,1067.4 2754.6,1066.4 2754.9,1067.3 2755.3,1067.0 2755.6,1066.3 2756.0,1066.4 2756.4,1067.4 2756.7,1067.3 2757.1,1067.0 2757.5,1066.8 2757.8,1067.0 2758.2,1067.5 2758.5,1067.3 2758.9,1066.5 2759.3,1066.2 2759.6,1067.6 2760.0,1066.7 2760.3,1066.4 2760.7,1067.6 2761.1,1066.3 2761.4,1067.4 2761.8,1066.7 2762.2,1066.7 2762.5,1066.6 2762.9,1067.1 2763.2,1066.9 2763.6,1066.7 2764.0,1066.9 2764.3,1066.5 2764.7,1066.9 2765.1,1066.9 2765.4,1067.5 2765.8,1066.6 2766.1,1066.8 2766.5,1067.2 2766.9,1066.3 2767.2,1066.3 2767.6,1066.8 2768.0,1067.2 2768.3,1066.8 2768.7,1067.3 2769.0,1067.3 2769.4,1066.8 2769.8,1067.3 2770.1,1066.8 2770.5,1066.7 2770.9,1067.4 2771.2,1066.5 2771.6,1067.3 2771.9,1066.3 2772.3,1066.2 2772.7,1066.6 2773.0,1067.4 2773.4,1066.6 2773.8,1066.8 2774.1,1065.9 2774.5,1067.2 2774.8,1066.1 2775.2,1065.8 2775.6,1066.2 2775.9,1066.1 2776.3,1067.1 2776.7,1065.8 2777.0,1066.6 2777.4,1065.9 2777.7,1065.9 2778.1,1067.1 2778.5,1066.1 2778.8,1065.9 2779.2,1067.3 2779.6,1066.8 2779.9,1066.1 2780.3,1067.1 2780.6,1065.9 2781.0,1066.9 2781.4,1066.0 2781.7,1067.1 2782.1,1066.5 2782.5,1065.8 2782.8,1067.0 2783.2,1066.9 2783.5,1066.5 2783.9,1066.8 2784.3,1067.2 2784.6,1067.0 2785.0,1067.0 2785.4,1065.8 2785.7,1066.2 2786.1,1065.8 2786.4,1067.0 2786.8,1066.0 2787.2,1067.1 2787.5,1066.4 2787.9,1066.2 2788.2,1066.6 2788.6,1065.8 2789.0,1066.3 2789.3,1066.3 2789.7,1065.8 2790.1,1067.0 2790.4,1065.6 2790.8,1066.2 2791.1,1066.5 2791.5,1065.9 2791.9,1066.7 2792.2,1065.6 2792.6,1066.2 2793.0,1066.6 2793.3,1065.9 2793.7,1066.4 2794.0,1066.8 2794.4,1065.9 2794.8,1067.0 2795.1,1065.8 2795.5,1066.7 2795.9,1066.1 2796.2,1065.5 2796.6,1066.2 2796.9,1066.0 2797.3,1066.6 2797.7,1067.1 2798.0,1067.0 2798.4,1066.8 2798.8,1066.1 2799.1,1066.4 2799.5,1066.2 2799.8,1065.6 2800.2,1066.8 2800.6,1066.7 2800.9,1066.0 2801.3,1067.0 2801.7,1067.0 2802.0,1066.4 2802.4,1066.8 2802.7,1066.4 2803.1,1066.6 2803.5,1066.1 2803.8,1066.0 2804.2,1066.6 2804.6,1066.0 2804.9,1066.2 2805.3,1066.7 2805.6,1065.5 2806.0,1066.6 2806.4,1066.7 2806.7,1066.8 2807.1,1065.9 2807.5,1065.5 2807.8,1065.7 2808.2,1066.3 2808.5,1066.5 2808.9,1066.9 2809.3,1065.9 2809.6,1066.0 2810.0,1066.3 2810.4,1065.8 2810.7,1066.2 2811.1,1065.4 2811.4,1065.7 2811.8,1066.4 2812.2,1065.4 2812.5,1066.8 2812.9,1066.0 2813.3,1066.2 2813.6,1066.4 2814.0,1066.7 2814.3,1065.6 2814.7,1066.8 2815.1,1065.9 2815.4,1065.3 2815.8,1066.6 2816.1,1066.5 2816.5,1065.8 2816.9,1066.0 2817.2,1065.7 2817.6,1065.5 2818.0,1066.5 2818.3,1066.2 2818.7,1066.3 2819.0,1066.6 2819.4,1065.3 2819.8,1065.5 2820.1,1065.6 2820.5,1066.7 2820.9,1065.4 2821.2,1065.5 2821.6,1065.9 2821.9,1065.5 2822.3,1065.9 2822.7,1066.3 2823.0,1066.5 2823.4,1066.3 2823.8,1066.6 2824.1,1066.1 2824.5,1065.4 2824.8,1065.5 2825.2,1065.3 2825.6,1065.5 2825.9,1066.2 2826.3,1065.7 2826.7,1065.9 2827.0,1065.3 2827.4,1065.8 2827.7,1066.2 2828.1,1065.6 2828.5,1065.0 2828.8,1066.2 2829.2,1065.2 2829.6,1066.5 2829.9,1066.1 2830.3,1066.2 2830.6,1065.3 2831.0,1065.0 2831.4,1065.3 2831.7,1066.0 2832.1,1065.1 2832.5,1066.0 2832.8,1066.1 2833.2,1065.0 2833.5,1065.5 2833.9,1065.4 2834.3,1065.4 2834.6,1064.9 2835.0,1065.7 2835.4,1065.1 2835.7,1065.3 2836.1,1065.1 2836.4,1065.7 2836.8,1065.3 2837.2,1065.5 2837.5,1065.9 2837.9,1066.1 2838.3,1065.4 2838.6,1066.3 2839.0,1064.9 2839.3,1066.1 2839.7,1066.3 2840.1,1066.2 2840.4,1064.9 2840.8,1065.8 2841.2,1066.1 2841.5,1066.3 2841.9,1066.3 2842.2,1065.2 2842.6,1065.3 2843.0,1065.2 2843.3,1065.1 2843.7,1066.2 2844.0,1065.4 2844.4,1065.7 2844.8,1065.0 2845.1,1065.0 2845.5,1064.9 2845.9,1066.2 2846.2,1064.9 2846.6,1064.8 2846.9,1064.8 2847.3,1066.1 2847.7,1065.9 2848.0,1066.1 2848.4,1066.2 2848.8,1064.9 2849.1,1064.9 2849.5,1065.2 2849.8,1064.9 2850.2,1065.2 2850.6,1065.7 2850.9,1066.0 2851.3,1066.0 2851.7,1065.0 2852.0,1065.8 2852.4,1065.6 2852.7,1065.5 2853.1,1066.1 2853.5,1065.7 2853.8,1065.7 2854.2,1065.0 2854.6,1065.5 2854.9,1065.6 2855.3,1064.6 2855.6,1065.3 2856.0,1064.7 2856.4,1065.1 2856.7,1066.0 2857.1,1065.4 2857.5,1065.4 2857.8,1064.8 2858.2,1065.5 2858.5,1064.9 2858.9,1065.2 2859.3,1065.7 2859.6,1064.7 2860.0,1065.9 2860.4,1064.7 2860.7,1065.7 2861.1,1066.0 2861.4,1065.7 2861.8,1064.8 2862.2,1064.4 2862.5,1066.0 2862.9,1065.2 2863.3,1065.2 2863.6,1064.7 2864.0,1065.7 2864.3,1065.2 2864.7,1065.4 2865.1,1064.6 2865.4,1065.5 2865.8,1064.4 2866.2,1065.5 2866.5,1065.6 2866.9,1064.8 2867.2,1065.1 2867.6,1065.7 2868.0,1064.9 2868.3,1065.8 2868.7,1064.6 2869.1,1064.8 2869.4,1064.6 2869.8,1064.9 2870.1,1065.3 2870.5,1065.2 2870.9,1065.2 2871.2,1064.4 2871.6,1065.7 2871.9,1064.4" fill="none" stroke="#111" stroke-width="1.3"/>
<polyline points="2411.8,1070.4 2412.1,1070.3 2412.5,1070.3 2412.9,1070.0 2413.2,1070.2 2413.6,1070.2 2414.0,1070.0 2414.3,1070.3 2414.7,1070.2 2415.0,1070.1 2415.4,1070.0 2415.8,1070.0 2416.1,1070.0 2416.5,1070.2 2416.9,1070.2 2417.2,1070.2 2417.6,1069.9 2417.9,1070.0 2418.3,1069.9 2418.7,1070.1 2419.0,1070.0 2419.4,1069.8 2419.7,1069.8 2420.1,1069.9 2420.5,1069.5 2420.8,1069.0 2421.2,1068.6 2421.6,1066.7 2421.9,1061.7 2422.3,1063.3 2422.6,1067.0 2423.0,1068.5 2423.4,1068.7 2423.7,1068.5 2424.1,1068.0 2424.5,1066.9 2424.8,1064.7 2425.2,1059.3 2425.5,1050.1 2425.9,1051.9 2426.3,1058.4 2426.6,1056.8 2427.0,1055.3 2427.4,1063.8 2427.7,1067.0 2428.1,1068.0 2428.4,1068.7 2428.8,1069.0 2429.2,1069.4 2429.5,1069.6 2429.9,1069.5 2430.3,1069.8 2430.6,1069.8 2431.0,1069.7 2431.3,1069.8 2431.7,1069.6 2432.1,1069.3 2432.4,1069.1 2432.8,1068.8 2433.2,1067.8 2433.5,1065.6 2433.9,1060.0 2434.2,1057.4 2434.6,1064.2 2435.0,1067.2 2435.3,1068.4 2435.7,1069.2 2436.1,1069.4 2436.4,1069.5 2436.8,1069.8 2437.1,1069.9 2437.5,1069.8 2437.9,1069.7 2438.2,1069.8 2438.6,1069.9 2439.0,1069.8 2439.3,1069.9 2439.7,1069.9 2440.0,1070.0 2440.4,1070.1 2440.8,1070.0 2441.1,1070.2 2441.5,1070.0 2441.9,1069.9 2442.2,1069.9 2442.6,1069.9 2442.9,1070.1 2443.3,1070.0 2443.7,1070.0 2444.0,1069.9 2444.4,1070.0 2444.8,1069.9 2445.1,1069.8 2445.5,1070.1 2445.8,1069.9 2446.2,1069.8 2446.6,1069.9 2446.9,1069.9 2447.3,1069.6 2447.6,1070.0 2448.0,1069.8 2448.4,1069.9 2448.7,1069.5 2449.1,1069.4 2449.5,1069.4 2449.8,1069.4 2450.2,1068.9 2450.5,1068.3 2450.9,1066.8 2451.3,1063.2 2451.6,1058.3 2452.0,1063.0 2452.4,1066.8 2452.7,1068.2 2453.1,1068.5 2453.4,1069.0 2453.8,1068.9 2454.2,1069.1 2454.5,1068.9 2454.9,1069.2 2455.3,1068.7 2455.6,1068.9 2456.0,1068.9 2456.3,1068.6 2456.7,1068.3 2457.1,1068.2 2457.4,1067.7 2457.8,1067.2 2458.2,1066.5 2458.5,1065.9 2458.9,1065.0 2459.2,1063.5 2459.6,1061.2 2460.0,1058.0 2460.3,1053.1 2460.7,1044.5 2461.1,1028.8 2461.4,1002.8 2461.8,975.6 2462.1,982.7 2462.5,1012.6 2462.9,1035.0 2463.2,1047.8 2463.6,1055.1 2464.0,1059.3 2464.3,1062.2 2464.7,1063.7 2465.0,1065.3 2465.4,1066.1 2465.8,1066.7 2466.1,1067.2 2466.5,1067.8 2466.9,1068.2 2467.2,1068.3 2467.6,1068.8 2467.9,1068.6 2468.3,1069.0 2468.7,1068.9 2469.0,1069.2 2469.4,1069.3 2469.8,1069.4 2470.1,1069.4 2470.5,1069.6 2470.8,1069.7 2471.2,1069.4 2471.6,1069.6 2471.9,1069.7 2472.3,1069.7 2472.7,1069.6 2473.0,1069.7 2473.4,1069.6 2473.7,1069.6 2474.1,1069.7 2474.5,1069.5 2474.8,1069.5 2475.2,1069.8 2475.5,1069.5 2475.9,1069.4 2476.3,1069.4 2476.6,1069.7 2477.0,1069.3 2477.4,1069.3 2477.7,1069.5 2478.1,1069.3 2478.4,1068.5 2478.8,1068.0 2479.2,1066.9 2479.5,1064.1 2479.9,1059.0 2480.3,1060.5 2480.6,1064.8 2481.0,1067.1 2481.3,1068.0 2481.7,1068.0 2482.1,1068.1 2482.4,1068.3 2482.8,1067.8 2483.2,1067.5 2483.5,1066.8 2483.9,1066.0 2484.2,1064.4 2484.6,1062.0 2485.0,1057.5 2485.3,1049.5 2485.7,1035.0 2486.1,1024.7 2486.4,1035.0 2486.8,1049.4 2487.1,1057.6 2487.5,1062.2 2487.9,1064.8 2488.2,1066.3 2488.6,1067.3 2489.0,1067.8 2489.3,1068.5 2489.7,1068.6 2490.0,1069.0 2490.4,1069.0 2490.8,1069.2 2491.1,1069.3 2491.5,1069.2 2491.9,1069.7 2492.2,1069.4 2492.6,1069.6 2492.9,1069.6 2493.3,1069.6 2493.7,1069.6 2494.0,1069.8 2494.4,1069.8 2494.8,1069.6 2495.1,1070.0 2495.5,1069.8 2495.8,1069.8 2496.2,1070.1 2496.6,1069.8 2496.9,1069.8 2497.3,1069.7 2497.7,1070.0 2498.0,1069.7 2498.4,1069.9 2498.7,1069.9 2499.1,1069.7 2499.5,1070.1 2499.8,1069.8 2500.2,1069.8 2500.6,1070.0 2500.9,1069.7 2501.3,1070.0 2501.6,1069.9 2502.0,1069.9 2502.4,1069.8 2502.7,1070.0 2503.1,1069.9 2503.5,1069.9 2503.8,1069.8 2504.2,1069.7 2504.5,1069.9 2504.9,1069.7 2505.3,1069.9 2505.6,1069.8 2506.0,1069.9 2506.3,1069.8 2506.7,1069.6 2507.1,1069.7 2507.4,1069.7 2507.8,1069.9 2508.2,1069.9 2508.5,1069.9 2508.9,1069.7 2509.2,1069.7 2509.6,1069.6 2510.0,1069.9 2510.3,1069.6 2510.7,1069.5 2511.1,1069.7 2511.4,1069.9 2511.8,1069.7 2512.1,1069.9 2512.5,1069.8 2512.9,1069.4 2513.2,1069.5 2513.6,1069.5 2514.0,1069.4 2514.3,1069.4 2514.7,1069.5 2515.0,1069.5 2515.4,1069.4 2515.8,1069.4 2516.1,1069.4 2516.5,1069.3 2516.9,1069.5 2517.2,1069.3 2517.6,1069.4 2517.9,1069.2 2518.3,1069.5 2518.7,1069.4 2519.0,1069.5 2519.4,1069.1 2519.8,1069.0 2520.1,1069.1 2520.5,1069.2 2520.8,1069.0 2521.2,1069.0 2521.6,1069.1 2521.9,1069.2 2522.3,1069.1 2522.7,1069.0 2523.0,1069.0 2523.4,1069.0 2523.7,1068.8 2524.1,1068.7 2524.5,1069.0 2524.8,1068.8 2525.2,1069.0 2525.6,1068.9 2525.9,1068.6 2526.3,1068.6 2526.6,1068.4 2527.0,1068.6 2527.4,1068.8 2527.7,1068.6 2528.1,1068.4 2528.5,1068.2 2528.8,1068.2 2529.2,1068.3 2529.5,1068.3 2529.9,1068.4 2530.3,1068.1 2530.6,1068.3 2531.0,1068.3 2531.4,1068.3 2531.7,1068.2 2532.1,1067.9 2532.4,1068.1 2532.8,1067.6 2533.2,1068.0 2533.5,1067.6 2533.9,1067.9 2534.2,1067.9 2534.6,1067.5 2535.0,1067.6 2535.3,1067.4 2535.7,1067.5 2536.1,1067.6 2536.4,1067.2 2536.8,1067.1 2537.1,1067.0 2537.5,1067.0 2537.9,1067.2 2538.2,1066.9 2538.6,1066.8 2539.0,1066.9 2539.3,1066.6 2539.7,1066.8 2540.0,1066.4 2540.4,1066.5 2540.8,1066.7 2541.1,1066.6 2541.5,1066.3 2541.9,1066.1 2542.2,1066.4 2542.6,1066.2 2542.9,1065.9 2543.3,1066.1 2543.7,1065.7 2544.0,1065.8 2544.4,1065.9 2544.8,1065.7 2545.1,1065.5 2545.5,1065.5 2545.8,1065.3 2546.2,1065.5 2546.6,1065.1 2546.9,1065.2 2547.3,1065.0 2547.7,1064.9 2548.0,1064.9 2548.4,1064.8 2548.7,1064.5 2549.1,1064.4 2549.5,1064.4 2549.8,1064.4 2550.2,1064.4 2550.6,1064.4 2550.9,1063.9 2551.3,1063.9 2551.6,1063.8 2552.0,1063.9 2552.4,1063.7 2552.7,1063.4 2553.1,1063.4 2553.5,1063.4 2553.8,1063.4 2554.2,1063.2 2554.5,1062.9 2554.9,1063.0 2555.3,1062.8 2555.6,1062.7 2556.0,1062.5 2556.4,1062.4 2556.7,1062.6 2557.1,1062.6 2557.4,1062.3 2557.8,1062.2 2558.2,1062.0 2558.5,1061.8 2558.9,1061.6 2559.3,1061.9 2559.6,1061.4 2560.0,1061.3 2560.3,1061.2 2560.7,1061.2 2561.1,1061.2 2561.4,1060.9 2561.8,1060.8 2562.1,1060.7 2562.5,1060.5 2562.9,1060.6 2563.2,1060.6 2563.6,1060.3 2564.0,1060.1 2564.3,1060.3 2564.7,1059.9 2565.0,1059.7 2565.4,1059.9 2565.8,1059.6 2566.1,1059.5 2566.5,1059.5 2566.9,1059.5 2567.2,1059.3 2567.6,1059.0 2567.9,1058.9 2568.3,1058.9 2568.7,1059.0 2569.0,1058.5 2569.4,1058.4 2569.8,1058.6 2570.1,1058.3 2570.5,1058.0 2570.8,1057.9 2571.2,1058.0 2571.6,1057.9 2571.9,1057.7 2572.3,1057.8 2572.7,1057.7 2573.0,1057.6 2573.4,1057.3 2573.7,1057.3 2574.1,1057.1 2574.5,1057.1 2574.8,1056.9 2575.2,1057.0 2575.6,1056.9 2575.9,1056.4 2576.3,1056.6 2576.6,1056.6 2577.0,1056.3 2577.4,1056.1 2577.7,1056.3 2578.1,1056.0 2578.5,1056.0 2578.8,1055.9 2579.2,1056.0 2579.5,1055.9 2579.9,1055.4 2580.3,1055.4 2580.6,1055.4 2581.0,1055.3 2581.4,1055.4 2581.7,1055.1 2582.1,1055.1 2582.4,1054.8 2582.8,1054.8 2583.2,1054.7 2583.5,1054.6 2583.9,1054.8 2584.3,1054.8 2584.6,1054.7 2585.0,1054.6 2585.3,1054.6 2585.7,1054.5 2586.1,1054.2 2586.4,1054.0 2586.8,1054.1 2587.2,1053.9 2587.5,1053.8 2587.9,1054.1 2588.2,1053.8 2588.6,1053.8 2589.0,1053.9 2589.3,1053.4 2589.7,1053.6 2590.0,1053.4 2590.4,1053.3 2590.8,1053.1 2591.1,1053.1 2591.5,1053.1 2591.9,1053.0 2592.2,1053.0 2592.6,1052.4 2592.9,1052.2 2593.3,1052.4 2593.7,1052.2 2594.0,1051.7 2594.4,1051.3 2594.8,1050.5 2595.1,1049.9 2595.5,1049.2 2595.8,1048.6 2596.2,1047.2 2596.6,1046.3 2596.9,1045.6 2597.3,1045.4 2597.7,1046.3 2598.0,1047.1 2598.4,1047.9 2598.7,1048.8 2599.1,1049.7 2599.5,1050.6 2599.8,1051.0 2600.2,1051.3 2600.6,1052.0 2600.9,1052.2 2601.3,1052.4 2601.6,1052.7 2602.0,1052.7 2602.4,1053.0 2602.7,1053.1 2603.1,1053.3 2603.5,1053.1 2603.8,1053.5 2604.2,1053.3 2604.5,1053.6 2604.9,1053.8 2605.3,1053.5 2605.6,1053.9 2606.0,1053.6 2606.4,1053.8 2606.7,1053.8 2607.1,1054.2 2607.4,1054.2 2607.8,1054.4 2608.2,1054.1 2608.5,1054.2 2608.9,1054.4 2609.3,1054.5 2609.6,1054.6 2610.0,1054.5 2610.3,1054.7 2610.7,1054.7 2611.1,1055.0 2611.4,1055.0 2611.8,1055.1 2612.2,1054.8 2612.5,1055.0 2612.9,1055.2 2613.2,1054.9 2613.6,1055.1 2614.0,1055.1 2614.3,1055.2 2614.7,1055.1 2615.1,1054.8 2615.4,1055.0 2615.8,1055.0 2616.1,1054.7 2616.5,1054.7 2616.9,1054.2 2617.2,1048.5 2617.6,1047.9 2617.9,1048.1 2618.3,1047.4 2618.7,1047.2 2619.0,1046.9 2619.4,1046.2 2619.8,1045.6 2620.1,1044.8 2620.5,1043.8 2620.8,1042.5 2621.2,1040.6 2621.6,1038.7 2621.9,1036.3 2622.3,1033.6 2622.7,1029.5 2623.0,1023.9 2623.4,1017.3 2623.7,1007.6 2624.1,994.9 2624.5,976.7 2624.8,952.7 2625.2,920.4 2625.6,884.4 2625.9,855.6 2626.3,850.9 2626.6,873.3 2627.0,909.3 2627.4,943.8 2627.7,971.0 2628.1,991.0 2628.5,1006.1 2628.8,1016.7 2629.2,1024.9 2629.5,1031.0 2629.9,1035.4 2630.3,1039.2 2630.6,1042.4 2631.0,1044.8 2631.4,1046.8 2631.7,1048.3 2632.1,1049.7 2632.4,1051.0 2632.8,1052.1 2633.2,1052.8 2633.5,1053.6 2633.9,1054.3 2634.3,1055.0 2634.6,1055.8 2635.0,1056.3 2635.3,1056.5 2635.7,1057.1 2636.1,1057.4 2636.4,1058.0 2636.8,1058.0 2637.2,1058.6 2637.5,1058.6 2637.9,1058.9 2638.2,1059.3 2638.6,1059.8 2639.0,1059.6 2639.3,1060.0 2639.7,1060.1 2640.1,1060.5 2640.4,1060.8 2640.8,1060.7 2641.1,1061.0 2641.5,1059.7 2641.9,1059.8 2642.2,1059.8 2642.6,1060.2 2643.0,1060.1 2643.3,1060.3 2643.7,1060.4 2644.0,1060.7 2644.4,1060.6 2644.8,1060.6 2645.1,1060.7 2645.5,1061.1 2645.8,1061.0 2646.2,1061.3 2646.6,1061.2 2646.9,1061.6 2647.3,1061.3 2647.7,1061.4 2648.0,1061.7 2648.4,1061.8 2648.7,1061.8 2649.1,1061.9 2649.5,1062.2 2649.8,1061.9 2650.2,1062.3 2650.6,1062.4 2650.9,1062.5 2651.3,1062.5 2651.6,1062.3 2652.0,1062.7 2652.4,1062.7 2652.7,1062.5 2653.1,1062.8 2653.5,1062.9 2653.8,1062.7 2654.2,1062.8 2654.5,1062.9 2654.9,1062.8 2655.3,1063.2 2655.6,1062.9 2656.0,1063.0 2656.4,1063.3 2656.7,1063.3 2657.1,1063.2 2657.4,1063.2 2657.8,1063.4 2658.2,1063.5 2658.5,1063.4 2658.9,1063.5 2659.3,1063.4 2659.6,1063.3 2660.0,1063.6 2660.3,1063.5 2660.7,1063.4 2661.1,1063.7 2661.4,1063.5 2661.8,1063.4 2662.2,1063.7 2662.5,1063.7 2662.9,1063.6 2663.2,1063.7 2663.6,1063.8 2664.0,1063.6 2664.3,1063.7 2664.7,1063.9 2665.1,1064.0 2665.4,1064.0 2665.8,1063.9 2666.1,1063.7 2666.5,1063.8 2666.9,1063.8 2667.2,1063.8 2667.6,1063.8 2668.0,1064.2 2668.3,1064.0 2668.7,1063.8 2669.0,1063.9 2669.4,1064.2 2669.8,1064.1 2670.1,1064.0 2670.5,1064.2 2670.9,1064.1 2671.2,1064.3 2671.6,1064.2 2671.9,1064.2 2672.3,1064.4 2672.7,1064.4 2673.0,1064.0 2673.4,1064.1 2673.7,1064.0 2674.1,1064.2 2674.5,1064.1 2674.8,1064.1 2675.2,1064.1 2675.6,1064.5 2675.9,1064.2 2676.3,1064.4 2676.6,1064.2 2677.0,1064.4 2677.4,1064.3 2677.7,1064.1 2678.1,1064.3 2678.5,1064.5 2678.8,1064.3 2679.2,1064.4 2679.5,1064.2 2679.9,1064.5 2680.3,1064.5 2680.6,1064.3 2681.0,1064.6 2681.4,1064.4 2681.7,1064.2 2682.1,1064.4 2682.4,1064.5 2682.8,1064.4 2683.2,1064.4 2683.5,1064.6 2683.9,1064.6 2684.3,1064.6 2684.6,1064.5 2685.0,1064.5 2685.3,1064.5 2685.7,1064.6 2686.1,1064.6 2686.4,1064.4 2686.8,1064.3 2687.2,1064.4 2687.5,1064.4 2687.9,1064.4 2688.2,1064.6 2688.6,1064.4 2689.0,1064.5 2689.3,1064.5 2689.7,1064.4 2690.1,1064.5 2690.4,1064.6 2690.8,1064.6 2691.1,1064.6 2691.5,1064.5 2691.9,1064.6 2692.2,1064.5 2692.6,1064.7 2693.0,1064.6 2693.3,1064.4 2693.7,1064.6 2694.0,1064.5 2694.4,1064.5 2694.8,1064.6 2695.1,1064.3 2695.5,1064.6 2695.9,1064.4 2696.2,1064.7 2696.6,1064.7 2696.9,1064.4 2697.3,1064.6 2697.7,1064.7 2698.0,1064.6 2698.4,1064.6 2698.8,1064.4 2699.1,1064.7 2699.5,1064.7 2699.8,1064.3 2700.2,1064.4 2700.6,1064.7 2700.9,1064.6 2701.3,1064.6 2701.6,1064.5 2702.0,1064.5 2702.4,1064.4 2702.7,1064.4 2703.1,1064.5 2703.5,1064.4 2703.8,1064.4 2704.2,1064.4 2704.5,1064.6 2704.9,1064.4 2705.3,1064.5 2705.6,1064.4 2706.0,1064.7 2706.4,1064.4 2706.7,1064.8 2707.1,1064.4 2707.4,1064.5 2707.8,1064.6 2708.2,1064.3 2708.5,1064.5 2708.9,1064.6 2709.3,1064.4 2709.6,1064.4 2710.0,1064.5 2710.3,1064.6 2710.7,1064.6 2711.1,1064.6 2711.4,1064.4 2711.8,1064.6 2712.2,1064.6 2712.5,1064.5 2712.9,1064.6 2713.2,1064.6 2713.6,1064.4 2714.0,1064.4 2714.3,1064.5 2714.7,1064.6 2715.1,1064.7 2715.4,1064.6 2715.8,1064.7 2716.1,1064.5 2716.5,1064.5 2716.9,1064.7 2717.2,1064.3 2717.6,1064.6 2718.0,1064.4 2718.3,1064.4 2718.7,1064.3 2719.0,1064.6 2719.4,1064.5 2719.8,1064.3 2720.1,1064.7 2720.5,1064.7 2720.9,1064.5 2721.2,1064.5 2721.6,1064.3 2721.9,1064.4 2722.3,1064.5 2722.7,1064.3 2723.0,1064.5 2723.4,1064.5 2723.8,1064.4 2724.1,1064.5 2724.5,1064.5 2724.8,1064.4 2725.2,1064.5 2725.6,1064.3 2725.9,1064.4 2726.3,1064.5 2726.7,1064.6 2727.0,1064.5 2727.4,1064.5 2727.7,1064.4 2728.1,1064.4 2728.5,1064.3 2728.8,1064.2 2729.2,1064.5 2729.6,1064.5 2729.9,1064.4 2730.3,1064.2 2730.6,1064.5 2731.0,1064.4 2731.4,1064.3 2731.7,1064.6 2732.1,1064.5 2732.4,1064.2 2732.8,1064.3 2733.2,1064.4 2733.5,1064.6 2733.9,1064.2 2734.3,1064.3 2734.6,1064.3 2735.0,1064.2 2735.3,1064.2 2735.7,1064.4 2736.1,1064.5 2736.4,1064.5 2736.8,1064.4 2737.2,1064.4 2737.5,1064.5 2737.9,1064.5 2738.2,1064.3 2738.6,1064.3 2739.0,1064.4 2739.3,1064.1 2739.7,1064.3 2740.1,1064.6 2740.4,1064.4 2740.8,1064.2 2741.1,1064.4 2741.5,1064.2 2741.9,1064.6 2742.2,1064.4 2742.6,1064.2 2743.0,1064.3 2743.3,1064.2 2743.7,1064.4 2744.0,1064.3 2744.4,1064.3 2744.8,1064.4 2745.1,1064.2 2745.5,1064.3 2745.9,1064.1 2746.2,1064.2 2746.6,1064.3 2746.9,1064.4 2747.3,1064.4 2747.7,1064.1 2748.0,1064.4 2748.4,1064.4 2748.8,1064.4 2749.1,1064.2 2749.5,1064.1 2749.8,1064.2 2750.2,1064.1 2750.6,1064.4 2750.9,1064.4 2751.3,1064.1 2751.7,1064.3 2752.0,1064.1 2752.4,1064.3 2752.7,1064.4 2753.1,1064.3 2753.5,1064.4 2753.8,1064.0 2754.2,1064.2 2754.6,1064.3 2754.9,1064.2 2755.3,1064.2 2755.6,1064.4 2756.0,1064.0 2756.4,1064.1 2756.7,1063.9 2757.1,1064.2 2757.5,1064.1 2757.8,1064.3 2758.2,1064.3 2758.5,1063.9 2758.9,1064.0 2759.3,1064.2 2759.6,1063.9 2760.0,1064.0 2760.3,1064.2 2760.7,1064.1 2761.1,1063.9 2761.4,1064.1 2761.8,1063.9 2762.2,1064.2 2762.5,1064.1 2762.9,1064.0 2763.2,1064.2 2763.6,1064.2 2764.0,1063.9 2764.3,1064.1 2764.7,1063.9 2765.1,1064.2 2765.4,1064.2 2765.8,1064.1 2766.1,1064.2 2766.5,1063.8 2766.9,1064.1 2767.2,1064.0 2767.6,1064.2 2768.0,1064.0 2768.3,1064.1 2768.7,1064.0 2769.0,1064.2 2769.4,1064.2 2769.8,1063.8 2770.1,1064.0 2770.5,1064.1 2770.9,1064.1 2771.2,1064.1 2771.6,1064.1 2771.9,1064.2 2772.3,1063.9 2772.7,1064.0 2773.0,1064.1 2773.4,1063.8 2773.8,1064.1 2774.1,1064.0 2774.5,1063.8 2774.8,1064.1 2775.2,1063.9 2775.6,1063.7 2775.9,1063.8 2776.3,1064.0 2776.7,1064.0 2777.0,1063.8 2777.4,1063.9 2777.7,1063.7 2778.1,1064.0 2778.5,1063.7 2778.8,1063.8 2779.2,1064.0 2779.6,1063.9 2779.9,1064.0 2780.3,1063.7 2780.6,1063.9 2781.0,1063.6 2781.4,1063.8 2781.7,1063.9 2782.1,1063.9 2782.5,1063.7 2782.8,1063.9 2783.2,1063.6 2783.5,1064.0 2783.9,1063.8 2784.3,1063.8 2784.6,1063.9 2785.0,1063.6 2785.4,1063.8 2785.7,1063.7 2786.1,1063.7 2786.4,1063.8 2786.8,1063.8 2787.2,1063.9 2787.5,1063.9 2787.9,1063.6 2788.2,1063.8 2788.6,1063.6 2789.0,1063.9 2789.3,1063.7 2789.7,1063.7 2790.1,1063.7 2790.4,1063.8 2790.8,1063.9 2791.1,1063.8 2791.5,1063.8 2791.9,1063.8 2792.2,1063.5 2792.6,1063.7 2793.0,1063.7 2793.3,1063.4 2793.7,1063.5 2794.0,1063.4 2794.4,1063.4 2794.8,1063.8 2795.1,1063.7 2795.5,1063.8 2795.9,1063.5 2796.2,1063.5 2796.6,1063.6 2796.9,1063.6 2797.3,1063.5 2797.7,1063.5 2798.0,1063.7 2798.4,1063.4 2798.8,1063.6 2799.1,1063.5 2799.5,1063.7 2799.8,1063.7 2800.2,1063.3 2800.6,1063.4 2800.9,1063.4 2801.3,1063.7 2801.7,1063.7 2802.0,1063.6 2802.4,1063.6 2802.7,1063.6 2803.1,1063.5 2803.5,1063.7 2803.8,1063.5 2804.2,1063.4 2804.6,1063.6 2804.9,1063.3 2805.3,1063.4 2805.6,1063.3 2806.0,1063.5 2806.4,1063.5 2806.7,1063.3 2807.1,1063.5 2807.5,1063.6 2807.8,1063.2 2808.2,1063.3 2808.5,1063.5 2808.9,1063.6 2809.3,1063.2 2809.6,1063.3 2810.0,1063.6 2810.4,1063.5 2810.7,1063.5 2811.1,1063.2 2811.4,1063.5 2811.8,1063.1 2812.2,1063.2 2812.5,1063.5 2812.9,1063.2 2813.3,1063.4 2813.6,1063.2 2814.0,1063.1 2814.3,1063.4 2814.7,1063.5 2815.1,1063.1 2815.4,1063.3 2815.8,1063.1 2816.1,1063.2 2816.5,1063.1 2816.9,1063.1 2817.2,1063.2 2817.6,1063.3 2818.0,1063.4 2818.3,1063.1 2818.7,1063.3 2819.0,1063.2 2819.4,1063.0 2819.8,1063.4 2820.1,1063.1 2820.5,1063.4 2820.9,1063.1 2821.2,1063.0 2821.6,1063.3 2821.9,1063.1 2822.3,1062.9 2822.7,1063.1 2823.0,1063.1 2823.4,1063.3 2823.8,1063.3 2824.1,1063.2 2824.5,1063.2 2824.8,1063.2 2825.2,1063.2 2825.6,1063.3 2825.9,1063.0 2826.3,1063.0 2826.7,1063.2 2827.0,1063.2 2827.4,1063.1 2827.7,1063.1 2828.1,1062.9 2828.5,1063.1 2828.8,1063.1 2829.2,1062.9 2829.6,1063.2 2829.9,1063.0 2830.3,1063.1 2830.6,1062.9 2831.0,1063.0 2831.4,1062.9 2831.7,1063.1 2832.1,1062.9 2832.5,1062.9 2832.8,1063.0 2833.2,1062.9 2833.5,1062.8 2833.9,1063.1 2834.3,1063.1 2834.6,1063.0 2835.0,1063.1 2835.4,1063.1 2835.7,1063.0 2836.1,1063.1 2836.4,1062.8 2836.8,1062.9 2837.2,1063.1 2837.5,1063.0 2837.9,1062.9 2838.3,1062.9 2838.6,1063.0 2839.0,1063.1 2839.3,1063.1 2839.7,1062.6 2840.1,1062.7 2840.4,1063.0 2840.8,1062.7 2841.2,1062.6 2841.5,1062.8 2841.9,1063.0 2842.2,1062.8 2842.6,1062.8 2843.0,1062.9 2843.3,1062.8 2843.7,1063.0 2844.0,1062.6 2844.4,1062.7 2844.8,1062.7 2845.1,1062.6 2845.5,1062.7 2845.9,1062.9 2846.2,1062.9 2846.6,1062.9 2846.9,1063.0 2847.3,1062.6 2847.7,1062.6 2848.0,1062.8 2848.4,1062.9 2848.8,1062.6 2849.1,1062.5 2849.5,1062.5 2849.8,1062.8 2850.2,1062.6 2850.6,1062.5 2850.9,1062.6 2851.3,1062.7 2851.7,1062.8 2852.0,1062.5 2852.4,1062.7 2852.7,1062.7 2853.1,1062.6 2853.5,1062.7 2853.8,1062.5 2854.2,1062.7 2854.6,1062.8 2854.9,1062.6 2855.3,1062.5 2855.6,1062.4 2856.0,1062.5 2856.4,1062.4 2856.7,1062.4 2857.1,1062.6 2857.5,1062.6 2857.8,1062.7 2858.2,1062.6 2858.5,1062.5 2858.9,1062.7 2859.3,1062.4 2859.6,1062.7 2860.0,1062.5 2860.4,1062.3 2860.7,1062.7 2861.1,1062.7 2861.4,1062.5 2861.8,1062.6 2862.2,1062.4 2862.5,1062.7 2862.9,1062.3 2863.3,1062.3 2863.6,1062.3 2864.0,1062.5 2864.3,1062.5 2864.7,1062.4 2865.1,1062.4 2865.4,1062.5 2865.8,1062.5 2866.2,1062.4 2866.5,1062.3 2866.9,1062.2 2867.2,1062.2 2867.6,1062.5 2868.0,1062.5 2868.3,1062.4 2868.7,1062.3 2869.1,1062.4 2869.4,1062.5 2869.8,1062.5 2870.1,1062.4 2870.5,1062.4 2870.9,1062.1 2871.2,1062.1 2871.6,1062.1 2871.9,1062.1" fill="none" stroke="#68aef0" stroke-width="1.5" stroke-dasharray="5 2.2"/>
<polyline points="2411.8,1088.1 2412.1,1088.5 2412.5,1088.3 2412.9,1089.1 2413.2,1088.4 2413.6,1088.5 2414.0,1088.8 2414.3,1088.5 2414.7,1088.1 2415.0,1088.6 2415.4,1088.4 2415.8,1088.8 2416.1,1088.8 2416.5,1088.2 2416.9,1089.1 2417.2,1089.0 2417.6,1088.4 2417.9,1088.7 2418.3,1089.1 2418.7,1088.4 2419.0,1088.8 2419.4,1088.5 2419.7,1088.7 2420.1,1088.6 2420.5,1088.5 2420.8,1088.7 2421.2,1089.0 2421.6,1089.0 2421.9,1088.2 2422.3,1088.6 2422.6,1089.0 2423.0,1088.2 2423.4,1088.9 2423.7,1089.1 2424.1,1088.6 2424.5,1088.9 2424.8,1088.6 2425.2,1088.5 2425.5,1088.9 2425.9,1088.5 2426.3,1089.0 2426.6,1088.6 2427.0,1088.5 2427.4,1089.1 2427.7,1088.7 2428.1,1089.1 2428.4,1088.7 2428.8,1088.2 2429.2,1088.5 2429.5,1088.4 2429.9,1088.3 2430.3,1089.0 2430.6,1088.0 2431.0,1088.3 2431.3,1089.0 2431.7,1088.2 2432.1,1088.7 2432.4,1089.0 2432.8,1088.1 2433.2,1088.5 2433.5,1088.3 2433.9,1089.0 2434.2,1088.3 2434.6,1089.1 2435.0,1088.9 2435.3,1088.7 2435.7,1089.1 2436.1,1088.5 2436.4,1088.9 2436.8,1088.8 2437.1,1088.4 2437.5,1088.7 2437.9,1088.1 2438.2,1088.5 2438.6,1088.2 2439.0,1088.5 2439.3,1088.1 2439.7,1088.2 2440.0,1089.0 2440.4,1088.3 2440.8,1088.8 2441.1,1088.3 2441.5,1088.4 2441.9,1088.2 2442.2,1089.0 2442.6,1088.7 2442.9,1088.3 2443.3,1088.1 2443.7,1088.3 2444.0,1089.1 2444.4,1088.5 2444.8,1089.0 2445.1,1088.5 2445.5,1088.2 2445.8,1089.0 2446.2,1088.1 2446.6,1088.4 2446.9,1088.9 2447.3,1088.9 2447.6,1088.6 2448.0,1088.2 2448.4,1088.5 2448.7,1089.0 2449.1,1089.1 2449.5,1089.0 2449.8,1088.2 2450.2,1088.9 2450.5,1088.5 2450.9,1088.8 2451.3,1088.4 2451.6,1088.7 2452.0,1089.0 2452.4,1088.1 2452.7,1088.5 2453.1,1088.4 2453.4,1088.2 2453.8,1088.1 2454.2,1089.1 2454.5,1088.7 2454.9,1089.0 2455.3,1088.6 2455.6,1088.1 2456.0,1088.2 2456.3,1089.1 2456.7,1088.9 2457.1,1088.2 2457.4,1088.4 2457.8,1088.7 2458.2,1088.6 2458.5,1088.9 2458.9,1088.2 2459.2,1088.7 2459.6,1088.1 2460.0,1088.4 2460.3,1089.0 2460.7,1088.7 2461.1,1088.9 2461.4,1088.1 2461.8,1088.5 2462.1,1089.1 2462.5,1088.9 2462.9,1088.7 2463.2,1088.6 2463.6,1088.5 2464.0,1088.7 2464.3,1088.7 2464.7,1089.1 2465.0,1088.5 2465.4,1088.7 2465.8,1089.1 2466.1,1088.6 2466.5,1088.0 2466.9,1089.1 2467.2,1088.9 2467.6,1088.3 2467.9,1088.8 2468.3,1088.8 2468.7,1088.5 2469.0,1088.8 2469.4,1088.5 2469.8,1088.5 2470.1,1088.0 2470.5,1088.0 2470.8,1089.1 2471.2,1088.5 2471.6,1088.2 2471.9,1088.1 2472.3,1088.2 2472.7,1088.4 2473.0,1088.4 2473.4,1088.7 2473.7,1088.8 2474.1,1088.2 2474.5,1088.1 2474.8,1088.0 2475.2,1088.3 2475.5,1088.7 2475.9,1088.2 2476.3,1088.3 2476.6,1088.5 2477.0,1088.4 2477.4,1088.7 2477.7,1088.5 2478.1,1088.6 2478.4,1089.0 2478.8,1088.7 2479.2,1088.7 2479.5,1088.0 2479.9,1088.5 2480.3,1088.7 2480.6,1088.8 2481.0,1088.8 2481.3,1088.7 2481.7,1088.9 2482.1,1089.1 2482.4,1088.1 2482.8,1088.6 2483.2,1088.6 2483.5,1088.4 2483.9,1088.7 2484.2,1088.9 2484.6,1089.0 2485.0,1088.7 2485.3,1088.7 2485.7,1088.2 2486.1,1088.4 2486.4,1088.0 2486.8,1088.7 2487.1,1088.0 2487.5,1088.4 2487.9,1089.0 2488.2,1088.8 2488.6,1088.4 2489.0,1087.9 2489.3,1088.6 2489.7,1088.2 2490.0,1088.6 2490.4,1088.1 2490.8,1089.0 2491.1,1088.5 2491.5,1088.0 2491.9,1088.7 2492.2,1088.7 2492.6,1089.0 2492.9,1088.8 2493.3,1088.7 2493.7,1088.2 2494.0,1088.8 2494.4,1088.6 2494.8,1088.8 2495.1,1088.3 2495.5,1088.0 2495.8,1088.3 2496.2,1088.8 2496.6,1088.2 2496.9,1087.9 2497.3,1088.3 2497.7,1088.9 2498.0,1088.1 2498.4,1088.0 2498.7,1088.6 2499.1,1088.8 2499.5,1088.8 2499.8,1088.4 2500.2,1088.0 2500.6,1088.2 2500.9,1087.9 2501.3,1088.7 2501.6,1088.6 2502.0,1088.1 2502.4,1088.2 2502.7,1088.5 2503.1,1088.1 2503.5,1088.5 2503.8,1088.8 2504.2,1088.4 2504.5,1088.8 2504.9,1088.2 2505.3,1088.5 2505.6,1088.3 2506.0,1088.2 2506.3,1088.6 2506.7,1088.3 2507.1,1088.8 2507.4,1087.8 2507.8,1088.2 2508.2,1087.7 2508.5,1088.8 2508.9,1088.1 2509.2,1088.0 2509.6,1088.4 2510.0,1088.7 2510.3,1088.6 2510.7,1088.6 2511.1,1087.9 2511.4,1088.7 2511.8,1087.8 2512.1,1088.3 2512.5,1088.1 2512.9,1088.0 2513.2,1088.1 2513.6,1088.0 2514.0,1088.0 2514.3,1088.3 2514.7,1087.8 2515.0,1088.4 2515.4,1087.8 2515.8,1087.8 2516.1,1087.7 2516.5,1088.3 2516.9,1087.7 2517.2,1087.5 2517.6,1088.1 2517.9,1088.2 2518.3,1088.0 2518.7,1087.5 2519.0,1088.4 2519.4,1088.5 2519.8,1088.0 2520.1,1087.7 2520.5,1087.6 2520.8,1088.0 2521.2,1087.3 2521.6,1088.2 2521.9,1087.6 2522.3,1088.3 2522.7,1088.4 2523.0,1088.2 2523.4,1088.3 2523.7,1087.8 2524.1,1087.7 2524.5,1088.1 2524.8,1087.2 2525.2,1087.9 2525.6,1088.1 2525.9,1088.1 2526.3,1087.4 2526.6,1087.2 2527.0,1088.0 2527.4,1088.2 2527.7,1087.3 2528.1,1087.9 2528.5,1087.0 2528.8,1087.6 2529.2,1087.4 2529.5,1087.7 2529.9,1087.2 2530.3,1087.5 2530.6,1087.7 2531.0,1087.0 2531.4,1087.9 2531.7,1087.2 2532.1,1087.9 2532.4,1087.2 2532.8,1087.5 2533.2,1087.0 2533.5,1087.9 2533.9,1087.3 2534.2,1087.4 2534.6,1086.8 2535.0,1086.8 2535.3,1087.1 2535.7,1087.6 2536.1,1087.5 2536.4,1087.5 2536.8,1087.3 2537.1,1087.5 2537.5,1087.5 2537.9,1086.9 2538.2,1087.0 2538.6,1087.4 2539.0,1086.6 2539.3,1087.5 2539.7,1087.0 2540.0,1087.5 2540.4,1086.7 2540.8,1086.7 2541.1,1087.3 2541.5,1086.8 2541.9,1086.7 2542.2,1087.3 2542.6,1087.2 2542.9,1087.0 2543.3,1086.6 2543.7,1087.4 2544.0,1086.8 2544.4,1086.9 2544.8,1087.0 2545.1,1086.9 2545.5,1086.5 2545.8,1087.3 2546.2,1086.5 2546.6,1087.1 2546.9,1086.6 2547.3,1086.5 2547.7,1087.3 2548.0,1086.5 2548.4,1086.3 2548.7,1087.1 2549.1,1087.4 2549.5,1087.3 2549.8,1086.3 2550.2,1087.4 2550.6,1086.4 2550.9,1087.3 2551.3,1086.6 2551.6,1087.3 2552.0,1087.2 2552.4,1086.7 2552.7,1087.3 2553.1,1087.0 2553.5,1086.4 2553.8,1086.6 2554.2,1086.4 2554.5,1086.3 2554.9,1087.4 2555.3,1087.2 2555.6,1086.5 2556.0,1086.7 2556.4,1087.4 2556.7,1086.9 2557.1,1087.2 2557.4,1087.0 2557.8,1087.3 2558.2,1087.4 2558.5,1086.3 2558.9,1087.1 2559.3,1086.5 2559.6,1087.3 2560.0,1086.9 2560.3,1087.3 2560.7,1087.0 2561.1,1087.3 2561.4,1086.7 2561.8,1087.3 2562.1,1086.7 2562.5,1087.0 2562.9,1087.4 2563.2,1087.1 2563.6,1087.0 2564.0,1086.5 2564.3,1087.2 2564.7,1087.3 2565.0,1086.5 2565.4,1086.6 2565.8,1086.8 2566.1,1087.3 2566.5,1087.4 2566.9,1087.3 2567.2,1087.6 2567.6,1087.6 2567.9,1087.1 2568.3,1087.2 2568.7,1087.0 2569.0,1087.3 2569.4,1087.7 2569.8,1086.9 2570.1,1087.0 2570.5,1087.1 2570.8,1087.1 2571.2,1086.9 2571.6,1086.6 2571.9,1086.8 2572.3,1086.9 2572.7,1087.3 2573.0,1087.4 2573.4,1087.3 2573.7,1086.7 2574.1,1087.4 2574.5,1087.4 2574.8,1087.3 2575.2,1087.7 2575.6,1086.7 2575.9,1087.8 2576.3,1087.2 2576.6,1086.8 2577.0,1087.6 2577.4,1087.2 2577.7,1087.4 2578.1,1087.6 2578.5,1087.7 2578.8,1087.8 2579.2,1086.9 2579.5,1087.0 2579.9,1086.9 2580.3,1087.9 2580.6,1087.1 2581.0,1087.5 2581.4,1087.2 2581.7,1087.3 2582.1,1087.6 2582.4,1086.8 2582.8,1087.9 2583.2,1087.1 2583.5,1087.0 2583.9,1087.4 2584.3,1087.3 2584.6,1086.8 2585.0,1087.7 2585.3,1087.2 2585.7,1087.1 2586.1,1087.5 2586.4,1087.1 2586.8,1087.5 2587.2,1087.3 2587.5,1087.2 2587.9,1087.2 2588.2,1087.6 2588.6,1087.2 2589.0,1087.3 2589.3,1087.7 2589.7,1087.2 2590.0,1087.6 2590.4,1086.9 2590.8,1087.4 2591.1,1087.1 2591.5,1087.3 2591.9,1087.4 2592.2,1087.6 2592.6,1087.7 2592.9,1086.8 2593.3,1087.3 2593.7,1087.3 2594.0,1087.2 2594.4,1086.9 2594.8,1087.6 2595.1,1087.6 2595.5,1086.9 2595.8,1087.3 2596.2,1087.0 2596.6,1086.8 2596.9,1086.7 2597.3,1086.8 2597.7,1087.7 2598.0,1087.3 2598.4,1086.7 2598.7,1086.7 2599.1,1087.5 2599.5,1087.5 2599.8,1087.3 2600.2,1087.5 2600.6,1087.2 2600.9,1086.6 2601.3,1086.9 2601.6,1087.0 2602.0,1087.4 2602.4,1087.0 2602.7,1086.3 2603.1,1086.6 2603.5,1086.9 2603.8,1086.8 2604.2,1086.4 2604.5,1086.4 2604.9,1087.1 2605.3,1086.4 2605.6,1086.8 2606.0,1086.6 2606.4,1086.8 2606.7,1086.6 2607.1,1086.6 2607.4,1086.6 2607.8,1086.9 2608.2,1086.7 2608.5,1086.2 2608.9,1086.7 2609.3,1086.5 2609.6,1085.9 2610.0,1086.3 2610.3,1086.2 2610.7,1086.2 2611.1,1085.5 2611.4,1086.3 2611.8,1085.6 2612.2,1085.2 2612.5,1085.9 2612.9,1085.6 2613.2,1085.0 2613.6,1085.1 2614.0,1085.3 2614.3,1085.6 2614.7,1085.0 2615.1,1085.0 2615.4,1084.5 2615.8,1084.8 2616.1,1084.5 2616.5,1084.1 2616.9,1083.7 2617.2,1084.1 2617.6,1083.8 2617.9,1083.4 2618.3,1082.7 2618.7,1083.3 2619.0,1082.2 2619.4,1082.1 2619.8,1082.2 2620.1,1081.5 2620.5,1081.4 2620.8,1081.3 2621.2,1080.0 2621.6,1079.8 2621.9,1079.0 2622.3,1078.3 2622.7,1076.9 2623.0,1076.1 2623.4,1075.8 2623.7,1073.9 2624.1,1072.7 2624.5,1071.4 2624.8,1070.0 2625.2,1070.9 2625.6,1074.0 2625.9,1081.1 2626.3,1092.3 2626.6,1101.2 2627.0,1105.7 2627.4,1106.5 2627.7,1106.0 2628.1,1104.7 2628.5,1103.7 2628.8,1102.8 2629.2,1100.9 2629.5,1100.0 2629.9,1098.8 2630.3,1098.0 2630.6,1098.1 2631.0,1097.3 2631.4,1097.0 2631.7,1095.6 2632.1,1096.0 2632.4,1095.6 2632.8,1094.5 2633.2,1094.4 2633.5,1094.7 2633.9,1093.7 2634.3,1093.4 2634.6,1093.4 2635.0,1093.7 2635.3,1092.7 2635.7,1092.9 2636.1,1092.5 2636.4,1091.9 2636.8,1091.9 2637.2,1091.7 2637.5,1092.4 2637.9,1092.0 2638.2,1091.7 2638.6,1092.1 2639.0,1090.9 2639.3,1091.6 2639.7,1091.5 2640.1,1091.4 2640.4,1091.3 2640.8,1090.5 2641.1,1090.8 2641.5,1090.8 2641.9,1090.8 2642.2,1091.1 2642.6,1090.7 2643.0,1090.0 2643.3,1090.0 2643.7,1089.9 2644.0,1090.5 2644.4,1090.5 2644.8,1090.6 2645.1,1090.0 2645.5,1090.1 2645.8,1089.9 2646.2,1089.9 2646.6,1089.7 2646.9,1089.9 2647.3,1089.3 2647.7,1090.0 2648.0,1089.1 2648.4,1089.5 2648.7,1090.0 2649.1,1089.6 2649.5,1089.3 2649.8,1089.4 2650.2,1089.2 2650.6,1089.4 2650.9,1089.5 2651.3,1088.8 2651.6,1089.4 2652.0,1088.8 2652.4,1088.7 2652.7,1088.9 2653.1,1089.0 2653.5,1088.5 2653.8,1089.0 2654.2,1088.5 2654.5,1089.4 2654.9,1088.9 2655.3,1088.6 2655.6,1089.3 2656.0,1088.3 2656.4,1089.2 2656.7,1088.6 2657.1,1089.0 2657.4,1088.2 2657.8,1088.6 2658.2,1088.3 2658.5,1088.6 2658.9,1088.4 2659.3,1088.4 2659.6,1088.8 2660.0,1088.9 2660.3,1088.1 2660.7,1088.9 2661.1,1088.0 2661.4,1088.8 2661.8,1088.9 2662.2,1088.9 2662.5,1088.2 2662.9,1088.0 2663.2,1088.6 2663.6,1088.3 2664.0,1088.7 2664.3,1088.0 2664.7,1088.2 2665.1,1088.8 2665.4,1089.0 2665.8,1088.2 2666.1,1089.0 2666.5,1088.1 2666.9,1088.7 2667.2,1088.8 2667.6,1088.4 2668.0,1088.7 2668.3,1088.4 2668.7,1088.9 2669.0,1088.0 2669.4,1088.7 2669.8,1088.1 2670.1,1088.9 2670.5,1088.2 2670.9,1088.0 2671.2,1088.7 2671.6,1089.1 2671.9,1088.7 2672.3,1088.4 2672.7,1088.9 2673.0,1088.6 2673.4,1089.1 2673.7,1088.7 2674.1,1088.4 2674.5,1088.7 2674.8,1088.5 2675.2,1089.1 2675.6,1088.3 2675.9,1089.1 2676.3,1088.3 2676.6,1088.2 2677.0,1088.3 2677.4,1088.7 2677.7,1089.0 2678.1,1089.0 2678.5,1088.5 2678.8,1088.8 2679.2,1088.4 2679.5,1089.3 2679.9,1088.9 2680.3,1088.5 2680.6,1088.8 2681.0,1088.9 2681.4,1089.4 2681.7,1089.4 2682.1,1089.2 2682.4,1088.5 2682.8,1088.6 2683.2,1089.3 2683.5,1088.5 2683.9,1089.6 2684.3,1088.9 2684.6,1088.5 2685.0,1089.2 2685.3,1088.6 2685.7,1088.9 2686.1,1089.6 2686.4,1089.3 2686.8,1089.2 2687.2,1089.4 2687.5,1088.9 2687.9,1089.5 2688.2,1088.8 2688.6,1089.4 2689.0,1089.7 2689.3,1089.1 2689.7,1089.6 2690.1,1089.1 2690.4,1088.9 2690.8,1089.1 2691.1,1089.3 2691.5,1089.8 2691.9,1089.2 2692.2,1089.7 2692.6,1089.1 2693.0,1089.7 2693.3,1089.2 2693.7,1089.4 2694.0,1089.4 2694.4,1089.1 2694.8,1089.7 2695.1,1089.7 2695.5,1088.8 2695.9,1089.5 2696.2,1088.9 2696.6,1088.9 2696.9,1089.3 2697.3,1089.7 2697.7,1089.8 2698.0,1088.9 2698.4,1089.8 2698.8,1089.3 2699.1,1089.3 2699.5,1089.8 2699.8,1089.4 2700.2,1089.7 2700.6,1089.3 2700.9,1089.3 2701.3,1089.5 2701.6,1089.7 2702.0,1089.4 2702.4,1089.7 2702.7,1089.8 2703.1,1089.6 2703.5,1088.9 2703.8,1089.3 2704.2,1088.9 2704.5,1089.9 2704.9,1088.8 2705.3,1089.4 2705.6,1089.0 2706.0,1089.3 2706.4,1089.1 2706.7,1089.6 2707.1,1089.1 2707.4,1089.7 2707.8,1089.6 2708.2,1089.9 2708.5,1089.5 2708.9,1089.3 2709.3,1089.6 2709.6,1088.9 2710.0,1089.8 2710.3,1089.2 2710.7,1089.6 2711.1,1089.2 2711.4,1089.0 2711.8,1089.1 2712.2,1089.8 2712.5,1089.6 2712.9,1089.2 2713.2,1088.8 2713.6,1089.8 2714.0,1089.2 2714.3,1089.1 2714.7,1089.0 2715.1,1089.5 2715.4,1089.0 2715.8,1089.4 2716.1,1088.8 2716.5,1089.9 2716.9,1088.8 2717.2,1089.4 2717.6,1089.4 2718.0,1089.8 2718.3,1089.6 2718.7,1089.0 2719.0,1089.1 2719.4,1089.7 2719.8,1089.5 2720.1,1089.7 2720.5,1089.6 2720.9,1089.6 2721.2,1089.5 2721.6,1088.7 2721.9,1088.7 2722.3,1088.9 2722.7,1089.3 2723.0,1089.3 2723.4,1089.0 2723.8,1088.8 2724.1,1089.0 2724.5,1089.1 2724.8,1089.6 2725.2,1089.1 2725.6,1088.9 2725.9,1088.9 2726.3,1089.7 2726.7,1089.0 2727.0,1089.4 2727.4,1089.6 2727.7,1088.7 2728.1,1089.1 2728.5,1089.0 2728.8,1089.7 2729.2,1088.9 2729.6,1088.8 2729.9,1088.8 2730.3,1089.0 2730.6,1088.9 2731.0,1088.9 2731.4,1089.1 2731.7,1089.3 2732.1,1088.9 2732.4,1088.9 2732.8,1088.8 2733.2,1089.5 2733.5,1088.7 2733.9,1089.2 2734.3,1088.7 2734.6,1089.7 2735.0,1088.7 2735.3,1088.9 2735.7,1089.5 2736.1,1088.8 2736.4,1089.5 2736.8,1089.6 2737.2,1089.3 2737.5,1089.5 2737.9,1089.2 2738.2,1088.8 2738.6,1089.0 2739.0,1089.0 2739.3,1089.3 2739.7,1088.9 2740.1,1088.9 2740.4,1089.0 2740.8,1088.7 2741.1,1088.8 2741.5,1089.3 2741.9,1089.7 2742.2,1089.0 2742.6,1088.8 2743.0,1089.4 2743.3,1089.1 2743.7,1088.8 2744.0,1088.9 2744.4,1089.8 2744.8,1089.2 2745.1,1089.7 2745.5,1089.6 2745.9,1088.8 2746.2,1089.3 2746.6,1089.1 2746.9,1089.2 2747.3,1089.4 2747.7,1089.5 2748.0,1089.4 2748.4,1088.8 2748.8,1089.0 2749.1,1089.4 2749.5,1089.6 2749.8,1089.4 2750.2,1089.0 2750.6,1089.2 2750.9,1089.0 2751.3,1088.8 2751.7,1089.6 2752.0,1089.0 2752.4,1089.7 2752.7,1088.8 2753.1,1089.5 2753.5,1089.4 2753.8,1088.7 2754.2,1089.3 2754.6,1089.5 2754.9,1088.7 2755.3,1089.0 2755.6,1088.7 2756.0,1089.3 2756.4,1089.2 2756.7,1088.6 2757.1,1089.2 2757.5,1088.6 2757.8,1089.5 2758.2,1088.8 2758.5,1089.5 2758.9,1089.1 2759.3,1089.7 2759.6,1089.5 2760.0,1088.6 2760.3,1089.2 2760.7,1088.8 2761.1,1089.4 2761.4,1089.3 2761.8,1089.6 2762.2,1089.1 2762.5,1088.7 2762.9,1089.1 2763.2,1089.3 2763.6,1088.7 2764.0,1088.7 2764.3,1089.0 2764.7,1089.6 2765.1,1089.0 2765.4,1089.2 2765.8,1088.6 2766.1,1089.3 2766.5,1089.0 2766.9,1089.0 2767.2,1089.3 2767.6,1089.1 2768.0,1088.9 2768.3,1088.7 2768.7,1089.1 2769.0,1089.3 2769.4,1088.6 2769.8,1089.6 2770.1,1088.8 2770.5,1088.9 2770.9,1089.1 2771.2,1089.2 2771.6,1088.8 2771.9,1088.7 2772.3,1088.9 2772.7,1088.8 2773.0,1089.6 2773.4,1089.3 2773.8,1089.5 2774.1,1088.6 2774.5,1088.7 2774.8,1089.5 2775.2,1089.0 2775.6,1089.0 2775.9,1089.6 2776.3,1089.2 2776.7,1088.8 2777.0,1089.0 2777.4,1089.4 2777.7,1088.8 2778.1,1089.3 2778.5,1089.1 2778.8,1089.2 2779.2,1088.6 2779.6,1088.9 2779.9,1088.8 2780.3,1088.9 2780.6,1089.2 2781.0,1088.6 2781.4,1088.9 2781.7,1088.9 2782.1,1089.4 2782.5,1089.5 2782.8,1089.0 2783.2,1088.7 2783.5,1088.8 2783.9,1089.3 2784.3,1089.5 2784.6,1089.1 2785.0,1088.7 2785.4,1089.5 2785.7,1088.8 2786.1,1089.5 2786.4,1089.3 2786.8,1089.6 2787.2,1089.3 2787.5,1089.2 2787.9,1088.6 2788.2,1088.6 2788.6,1089.4 2789.0,1089.3 2789.3,1088.6 2789.7,1089.4 2790.1,1089.3 2790.4,1089.2 2790.8,1089.5 2791.1,1089.4 2791.5,1089.2 2791.9,1089.2 2792.2,1088.6 2792.6,1089.4 2793.0,1089.4 2793.3,1088.6 2793.7,1089.1 2794.0,1088.7 2794.4,1088.9 2794.8,1088.8 2795.1,1089.3 2795.5,1089.5 2795.9,1088.8 2796.2,1089.1 2796.6,1089.0 2796.9,1088.9 2797.3,1088.8 2797.7,1089.3 2798.0,1089.2 2798.4,1088.6 2798.8,1089.0 2799.1,1089.3 2799.5,1088.9 2799.8,1089.3 2800.2,1088.8 2800.6,1089.6 2800.9,1088.7 2801.3,1089.0 2801.7,1089.2 2802.0,1088.6 2802.4,1089.3 2802.7,1089.4 2803.1,1089.6 2803.5,1089.0 2803.8,1088.8 2804.2,1088.9 2804.6,1089.2 2804.9,1088.7 2805.3,1089.5 2805.6,1089.3 2806.0,1088.9 2806.4,1088.5 2806.7,1088.9 2807.1,1088.8 2807.5,1088.8 2807.8,1089.2 2808.2,1088.6 2808.5,1088.8 2808.9,1089.2 2809.3,1089.2 2809.6,1088.7 2810.0,1089.2 2810.4,1089.4 2810.7,1088.6 2811.1,1089.0 2811.4,1089.0 2811.8,1088.9 2812.2,1088.6 2812.5,1089.5 2812.9,1089.2 2813.3,1089.6 2813.6,1089.2 2814.0,1089.1 2814.3,1088.7 2814.7,1088.9 2815.1,1089.0 2815.4,1089.2 2815.8,1089.0 2816.1,1089.3 2816.5,1088.7 2816.9,1088.7 2817.2,1088.7 2817.6,1089.4 2818.0,1088.9 2818.3,1088.8 2818.7,1089.1 2819.0,1088.6 2819.4,1088.6 2819.8,1088.8 2820.1,1088.7 2820.5,1088.9 2820.9,1088.6 2821.2,1089.5 2821.6,1088.8 2821.9,1088.8 2822.3,1088.9 2822.7,1089.3 2823.0,1089.5 2823.4,1088.9 2823.8,1088.7 2824.1,1089.3 2824.5,1089.4 2824.8,1089.4 2825.2,1089.5 2825.6,1088.8 2825.9,1088.5 2826.3,1088.7 2826.7,1089.2 2827.0,1088.8 2827.4,1089.5 2827.7,1088.7 2828.1,1089.2 2828.5,1089.6 2828.8,1088.9 2829.2,1089.4 2829.6,1089.3 2829.9,1089.5 2830.3,1089.1 2830.6,1089.0 2831.0,1088.7 2831.4,1089.6 2831.7,1088.7 2832.1,1089.5 2832.5,1089.3 2832.8,1088.9 2833.2,1089.2 2833.5,1089.2 2833.9,1089.0 2834.3,1089.4 2834.6,1088.7 2835.0,1089.4 2835.4,1088.6 2835.7,1088.7 2836.1,1089.0 2836.4,1089.6 2836.8,1088.7 2837.2,1089.6 2837.5,1089.0 2837.9,1089.1 2838.3,1089.5 2838.6,1088.9 2839.0,1088.8 2839.3,1088.9 2839.7,1089.1 2840.1,1089.0 2840.4,1088.9 2840.8,1089.3 2841.2,1088.6 2841.5,1088.5 2841.9,1088.7 2842.2,1088.5 2842.6,1089.2 2843.0,1088.5 2843.3,1089.5 2843.7,1089.1 2844.0,1089.4 2844.4,1089.1 2844.8,1088.8 2845.1,1088.8 2845.5,1089.1 2845.9,1089.2 2846.2,1089.4 2846.6,1089.1 2846.9,1089.3 2847.3,1089.4 2847.7,1088.8 2848.0,1089.0 2848.4,1089.1 2848.8,1089.4 2849.1,1088.8 2849.5,1089.4 2849.8,1089.3 2850.2,1089.0 2850.6,1088.8 2850.9,1088.5 2851.3,1088.7 2851.7,1088.5 2852.0,1088.5 2852.4,1088.8 2852.7,1088.8 2853.1,1089.5 2853.5,1089.4 2853.8,1089.6 2854.2,1088.6 2854.6,1088.8 2854.9,1088.9 2855.3,1089.3 2855.6,1089.2 2856.0,1089.4 2856.4,1088.9 2856.7,1088.5 2857.1,1089.2 2857.5,1089.5 2857.8,1089.4 2858.2,1089.2 2858.5,1088.6 2858.9,1088.7 2859.3,1089.1 2859.6,1089.5 2860.0,1089.5 2860.4,1089.4 2860.7,1088.7 2861.1,1089.0 2861.4,1088.5 2861.8,1088.5 2862.2,1088.7 2862.5,1089.0 2862.9,1088.6 2863.3,1089.4 2863.6,1089.5 2864.0,1088.9 2864.3,1089.0 2864.7,1089.3 2865.1,1089.3 2865.4,1089.5 2865.8,1088.5 2866.2,1088.8 2866.5,1088.5 2866.9,1088.5 2867.2,1089.1 2867.6,1088.7 2868.0,1089.1 2868.3,1088.7 2868.7,1088.6 2869.1,1089.4 2869.4,1089.6 2869.8,1089.3 2870.1,1088.9 2870.5,1089.1 2870.9,1089.6 2871.2,1088.6 2871.6,1088.7 2871.9,1089.0" fill="none" stroke="#3fa67c" stroke-width="1.1"/>
<rect x="2388.8" y="828.3" width="507.2" height="283.0" fill="none" stroke="#111" stroke-width="1.4"/>
<line x1="2724" y1="850.4" x2="2759" y2="850.4" stroke="#111" stroke-width="1.4"/>
<text x="2772.4" y="856.4" font-family="DejaVu Sans, sans-serif" font-weight="bold" font-size="16.6" fill="#111">Experiment</text>
<line x1="2724" y1="875.0" x2="2759" y2="875.0" stroke="#68aef0" stroke-width="1.4" stroke-dasharray="5 2.2"/>
<text x="2772.4" y="881.0" font-family="DejaVu Sans, sans-serif" font-weight="bold" font-size="16.6" fill="#111">Simulation</text>
<line x1="2724" y1="899.6" x2="2759" y2="899.6" stroke="#3fa67c" stroke-width="1.4"/>
<text x="2772.4" y="905.6" font-family="DejaVu Sans, sans-serif" font-weight="bold" font-size="16.6" fill="#111">Residuals</text>
<ellipse cx="2518" cy="1001.3" rx="74" ry="11" fill="#8a8a8a" opacity="0.75" filter="url(#blur6)"/>
<clipPath id="semc"><ellipse cx="2516.8" cy="902.4" rx="98" ry="68.3"/></clipPath>
<ellipse cx="2516.8" cy="902.4" rx="99.2" ry="69.5" fill="#2e2e2e" stroke="#555" stroke-width="1.5"/>
<g clip-path="url(#semc)"><circle cx="2513" cy="919" r="67" fill="url(#sph)"/>
<path d="M2540.9 966.2l3.4 4.2M2513.5 855.6l5.9 0.8M2459.8 905.3l-3.4 0.5M2485.7 866.5l-3.6 3.5M2565.7 880.2l-1.4 1.7M2547.0 959.9l0.4 5.8M2566.3 934.9l-3.9 3.4M2532.4 893.7l-1.6 4.7M2513.9 945.1l-3.0 1.0M2518.1 935.1l-2.4 0.1M2558.0 882.0l-1.8 4.1M2506.9 868.0l2.7 2.9M2534.8 956.6l2.3 4.0M2527.6 897.7l-0.1 3.0M2458.6 920.7l0.7 2.0M2481.2 896.1l-2.9 1.9M2569.5 913.4l5.4 1.9M2477.7 882.1l3.0 0.7M2555.3 951.6l-4.0 3.3M2554.1 950.6l2.2 1.8M2475.2 890.8l3.6 3.2M2529.7 935.1l-2.4 3.4M2460.8 957.1l2.2 4.6M2505.1 939.6l-3.0 4.8M2527.2 869.3l1.9 1.6M2480.9 938.7l1.7 4.9M2547.9 873.9l3.2 0.4M2529.3 908.9l-1.0 5.5M2552.6 968.3l1.7 2.5M2478.6 878.9l1.2 4.6M2497.7 889.0l2.3 1.5M2576.6 915.9l-1.8 3.1M2543.6 945.9l1.8 3.1M2508.7 884.8l-2.1 0.6M2460.8 944.9l-2.7 2.3M2500.2 977.5l1.0 5.8M2542.1 937.6l3.7 1.4M2526.8 879.7l-3.9 0.5M2502.8 908.3l1.5 2.3M2546.3 914.4l-1.0 2.1M2491.7 958.5l1.3 2.4M2502.5 876.7l-2.4 1.5M2540.4 871.7l2.8 0.6M2562.6 916.6l-1.7 1.9M2532.0 974.0l-4.0 3.7M2488.7 929.0l-4.8 3.6M2569.7 928.8l0.9 3.4M2461.1 949.1l-2.5 0.7M2534.3 889.5l-0.2 2.9M2537.8 955.3l-0.4 5.0M2523.9 898.4l-1.5 3.6M2474.5 871.3l3.5 4.0M2457.8 888.5l-0.8 3.4M2527.2 897.4l-2.7 2.2M2487.0 928.5l2.6 2.5M2557.6 941.4l5.6 1.3M2520.6 970.7l2.9 5.0M2561.3 947.6l-4.9 1.5M2507.7 974.4l-0.2 2.6M2508.5 953.1l2.4 3.1M2473.2 959.4l1.6 5.2M2533.0 882.7l-2.8 4.1M2469.9 869.1l4.3 0.1M2516.0 881.3l2.2 0.1M2478.6 912.3l-3.5 0.9M2543.6 927.8l-5.1 0.5M2487.2 894.9l1.9 5.0" stroke="#e4e4e4" stroke-width="2.2" stroke-linecap="round" opacity="0.55" fill="none"/>
<path d="M2558.4 916.1l3.4 2.2M2514.9 911.4l0.6 2.5M2508.6 857.4l1.1 5.7M2466.7 920.2l-1.3 3.9M2479.4 902.8l4.4 1.6M2464.1 918.0l4.2 1.3M2456.5 916.1l2.7 4.0M2539.9 919.5l-4.2 3.2M2514.8 969.0l-5.4 1.3M2456.7 918.0l-0.5 4.5M2523.8 857.2l-0.8 2.3M2552.1 921.8l1.4 1.6M2535.1 898.7l-0.9 5.0M2451.2 910.0l1.6 2.1M2464.8 922.7l1.8 4.2M2479.5 874.2l3.9 3.3M2517.0 940.7l-2.0 4.1M2541.0 935.5l-0.6 2.9M2459.7 943.3l-3.1 4.3M2511.0 908.2l2.0 2.3M2519.8 853.8l4.1 2.0M2480.7 915.8l0.4 5.1M2498.5 884.9l-1.1 3.8M2493.5 918.8l-2.0 4.1M2497.5 874.5l-0.1 5.2M2535.8 903.9l3.8 2.3M2485.2 865.8l-0.8 2.5M2519.3 856.2l2.4 2.4M2466.9 915.1l-1.8 1.8M2558.1 965.8l-3.5 0.5M2486.5 917.1l-0.4 5.1M2553.5 967.3l4.3 3.7M2492.3 879.7l5.2 2.7M2496.4 895.7l-4.1 2.7M2538.8 954.7l-3.8 1.8M2459.2 893.2l3.2 0.6M2548.8 889.8l3.9 0.4M2506.0 886.1l-0.5 3.7M2531.9 901.6l1.2 4.5M2477.0 907.0l-2.0 5.4M2534.7 940.6l-1.6 1.2M2506.0 869.9l0.1 2.1M2549.5 882.1l4.6 3.4M2519.1 895.9l3.6 0.8M2493.8 885.8l0.4 4.5M2473.7 945.9l5.3 2.1M2471.4 961.2l2.3 0.1M2462.5 928.3l-3.1 1.9M2577.4 909.7l3.6 0.7M2528.8 921.4l-2.0 0.8M2514.4 856.2l-3.1 0.9M2516.4 938.4l2.3 4.4M2509.7 959.2l1.6 5.1M2537.7 859.0l0.9 3.7M2546.2 954.2l2.7 1.8M2456.1 889.5l-2.6 0.7M2454.0 933.8l3.8 4.2M2455.8 889.6l-1.4 2.6M2515.0 861.9l-4.1 4.0M2568.4 952.9l-3.6 1.6M2482.5 913.7l1.8 1.4M2522.2 922.7l5.0 2.4M2453.3 917.8l-2.2 0.1M2455.6 929.7l3.5 1.0M2510.2 855.7l2.5 1.1M2523.4 928.6l-0.3 2.0M2513.5 878.6l-0.5 3.0M2540.2 916.1l-0.4 2.4M2486.2 914.4l-5.3 2.2" stroke="#777" stroke-width="2.2" stroke-linecap="round" opacity="0.55" fill="none"/>
<path d="M2546.6 968.3l-1.7 1.2M2463.7 891.6l-0.8 4.2M2505.6 938.9l-2.6 0.6M2489.2 930.4l-2.9 4.8M2453.0 925.4l-4.2 2.1M2503.6 976.1l0.9 2.3M2489.6 927.1l-1.2 2.2M2557.9 921.2l1.3 4.1M2464.2 911.0l-1.2 3.1M2487.5 937.2l-1.1 1.9M2499.0 888.4l1.6 2.6M2563.8 896.9l4.2 1.0M2563.0 924.6l1.1 5.2M2526.6 907.8l2.0 1.3M2506.4 871.7l1.5 2.5M2555.0 896.4l2.1 1.5M2484.4 927.0l-2.0 5.0M2539.3 976.8l-2.3 1.9M2486.6 932.3l2.1 1.7M2494.3 865.6l-2.8 1.1M2563.2 934.8l3.7 2.3M2496.6 875.1l-2.2 1.6M2541.1 969.3l4.2 2.6M2567.4 894.6l-0.7 1.9M2484.0 957.7l1.6 3.7M2539.7 942.8l3.3 2.5M2503.2 865.7l2.2 0.2M2476.0 871.6l3.1 1.2M2475.7 919.3l0.5 3.6M2468.0 947.0l-3.7 3.3M2483.3 902.0l-3.0 4.4M2555.3 903.9l-0.8 3.0M2473.3 949.8l-0.4 3.9M2512.4 904.5l-2.1 1.5M2491.5 859.3l-4.7 0.4M2478.6 974.0l-4.5 2.0M2488.8 908.6l-3.4 0.3M2492.3 960.0l-2.4 1.3M2531.4 968.6l2.0 0.4M2551.3 917.8l-4.8 1.4M2477.2 899.3l-0.5 5.7M2536.1 923.1l4.8 0.5M2470.4 900.7l-4.7 1.7M2524.1 955.6l-2.8 1.7M2560.8 955.7l-1.9 1.1M2466.1 891.4l-5.3 0.6M2575.1 903.4l5.0 2.1M2470.0 885.8l-3.6 0.7M2515.9 876.9l-2.2 5.0M2527.9 876.1l-1.3 5.5M2465.5 933.3l0.7 3.3M2514.5 974.7l0.1 4.2M2460.5 910.7l-3.4 0.6M2539.9 897.3l0.2 2.8M2567.9 906.0l2.5 4.5M2554.8 968.7l-2.4 0.6M2538.8 902.1l-3.9 0.6M2505.2 969.5l2.9 3.1M2480.1 911.4l3.7 0.3M2555.5 918.3l0.6 5.0M2476.9 900.0l-1.2 2.4M2537.7 899.6l-1.9 1.3" stroke="#dcdcdc" stroke-width="2.2" stroke-linecap="round" opacity="0.55" fill="none"/>
<path d="M2542.9 966.8l0.1 2.7M2483.6 952.2l2.1 3.3M2547.3 888.0l-2.9 5.0M2514.3 968.5l-4.2 2.9M2545.1 926.1l3.3 0.7M2468.0 941.5l2.3 3.4M2484.1 902.1l-3.7 3.7M2529.0 938.0l2.0 0.6M2476.5 910.0l-4.2 1.5M2528.9 927.2l-0.1 5.8M2489.4 868.9l-0.2 3.6M2504.9 969.0l-2.5 2.9M2516.5 959.8l4.3 3.7M2476.5 919.3l-5.0 3.1M2566.3 899.2l-6.0 0.3M2477.8 945.2l1.5 1.4M2472.2 886.8l-2.5 4.0M2538.5 968.4l0.4 5.4M2501.8 947.1l-5.1 1.0M2520.4 927.0l-5.0 0.7M2485.9 875.0l-3.8 3.3M2493.6 892.1l-2.5 1.5M2499.9 920.9l4.1 3.1M2553.5 917.3l5.1 0.5M2537.0 892.3l2.4 1.7M2507.1 859.8l-1.1 1.8M2564.5 938.5l4.9 0.9M2565.5 925.6l-4.5 2.4M2558.5 929.0l-3.3 2.8M2567.3 936.3l-0.1 2.4M2476.9 882.3l4.7 3.1M2513.3 958.3l4.0 2.7M2550.8 918.2l-4.3 2.7M2542.9 923.6l-4.0 0.3M2529.1 859.3l-1.2 3.0M2574.7 905.0l-3.5 4.5M2535.8 970.1l-5.5 0.3M2501.7 907.0l3.5 1.0M2574.0 912.7l0.1 3.1M2507.5 975.9l-0.9 2.9M2497.4 856.0l3.8 2.7M2485.9 946.4l-0.1 3.1M2465.3 955.1l-4.6 3.7M2551.8 969.7l-1.7 3.4M2491.8 888.3l1.5 2.5M2548.6 937.8l-0.5 5.8M2508.5 869.5l1.5 1.8M2514.6 964.9l0.5 2.2M2472.7 912.8l-2.3 1.9M2518.4 944.6l-2.8 3.6M2499.5 917.5l3.9 1.5M2475.7 918.1l-3.1 0.6M2545.6 922.7l-2.3 1.5M2461.6 922.1l2.9 1.8M2529.2 944.0l2.3 0.1M2477.2 915.8l1.6 3.2M2555.4 887.7l-2.8 1.5M2503.5 871.6l-2.6 3.2M2557.0 893.0l-0.1 3.0M2519.8 983.1l0.8 4.8M2504.7 867.4l-5.7 1.5M2456.1 897.4l-0.5 2.3M2533.8 935.7l3.0 2.6M2562.1 906.2l2.9 1.9M2476.9 909.8l-1.3 1.5M2460.0 935.0l1.7 1.5M2541.5 875.6l1.3 2.6M2560.8 947.6l2.7 2.3M2576.9 907.5l4.2 1.2M2517.5 916.5l3.5 4.3M2517.3 910.1l4.9 3.3M2525.8 892.3l-1.7 4.3M2514.4 881.3l-4.9 3.2M2553.7 936.8l-1.3 2.6M2465.5 958.5l5.7 0.7M2514.1 893.5l4.9 1.8M2475.5 912.7l-3.1 4.5M2521.5 936.3l-2.8 3.0M2514.2 860.3l-3.2 2.4M2470.5 876.7l2.5 4.0M2564.9 944.2l-5.7 0.8M2488.6 968.9l-3.1 2.1M2462.4 878.1l1.4 4.1M2491.5 923.7l-4.6 2.4M2465.5 881.9l-0.2 3.7M2486.6 908.0l-3.7 3.9M2523.9 934.3l-1.4 2.6" stroke="#ececec" stroke-width="2.2" stroke-linecap="round" opacity="0.55" fill="none"/>
<path d="M2572.8 933.2l2.7 0.6M2483.6 943.9l-3.4 1.3M2507.1 979.0l-3.8 4.6M2553.7 908.1l-4.3 0.5M2545.2 895.4l-4.1 1.6M2538.5 974.6l-2.6 3.3M2505.8 908.5l0.1 4.9M2508.8 899.6l3.1 0.8M2491.8 867.3l-3.8 0.7M2498.0 904.6l5.2 0.6M2498.6 916.3l1.4 5.3M2566.4 915.3l5.2 1.0M2472.3 959.1l-4.0 0.9M2494.3 968.1l-4.1 4.0M2457.3 919.9l5.6 0.6M2479.8 925.0l2.1 2.7M2544.7 939.2l-1.9 1.8M2520.4 917.3l-5.2 2.7M2560.1 880.7l3.1 3.9M2498.8 873.9l-1.7 3.3M2494.6 888.3l-0.1 2.2M2499.8 863.2l0.7 5.0M2494.9 861.0l-0.4 4.6M2492.6 897.2l-2.6 1.7M2469.0 897.2l-4.0 2.1M2521.4 978.2l-2.3 0.0M2464.7 897.8l3.3 4.6M2557.9 891.1l0.5 3.9M2450.5 902.6l4.7 1.4M2501.3 974.3l3.4 0.6M2546.3 971.8l4.4 1.5M2477.8 972.7l3.0 4.5M2509.5 977.3l4.2 2.6M2575.4 935.8l-1.1 5.2M2509.5 982.1l4.5 2.9M2462.7 940.3l4.9 2.5M2467.0 940.5l-4.2 3.4M2525.4 914.1l-2.5 0.2M2523.0 931.7l-1.7 1.9M2521.5 889.6l-1.2 3.7M2504.8 967.3l1.2 3.3M2520.5 927.2l-0.3 5.5M2523.1 891.6l3.7 4.3M2533.9 944.2l-3.5 0.4M2571.7 922.3l1.9 2.4M2489.2 961.4l-3.1 4.2M2519.8 918.5l-2.4 0.1M2551.3 953.0l-4.8 1.3M2478.1 891.1l-2.4 3.9M2564.1 891.6l-1.6 3.6M2554.4 914.5l1.6 3.0M2527.8 912.6l0.2 2.2M2477.1 867.0l-0.4 2.4M2527.1 926.0l3.7 1.2M2471.6 936.3l1.2 4.9M2480.2 967.4l-3.3 0.4M2568.6 929.9l-5.2 1.3M2526.3 858.2l0.9 4.7M2542.7 886.2l-1.5 3.3M2508.6 969.5l3.4 4.3M2568.3 917.4l-3.2 0.7M2536.4 875.7l2.2 1.6M2510.7 869.1l-3.9 1.0M2483.0 955.0l-3.2 3.9M2472.0 930.0l-1.3 2.8M2517.6 956.6l0.3 3.5M2554.7 954.0l-4.0 3.6M2537.0 874.1l1.7 4.7M2499.8 977.5l-3.2 0.4" stroke="#cfcfcf" stroke-width="2.2" stroke-linecap="round" opacity="0.55" fill="none"/>
<path d="M2470.8 876.0l2.0 3.9M2505.7 885.8l-2.4 4.9M2518.3 918.6l4.4 3.3M2465.2 939.0l-2.4 4.0M2493.5 913.4l2.9 2.0M2527.8 940.2l2.7 3.6M2531.7 884.1l2.1 0.4M2517.3 958.3l1.4 4.6M2504.5 922.3l-1.5 2.4M2509.1 857.1l-2.8 0.8M2490.4 956.5l-3.3 3.6M2533.8 907.0l0.4 3.5M2539.5 906.2l-2.2 0.8M2486.7 888.9l1.1 3.6M2559.7 886.1l0.1 2.7M2524.5 883.0l3.5 4.7M2479.1 920.9l3.1 0.5M2543.3 913.6l-1.4 1.7M2535.6 902.3l0.2 3.3M2477.6 868.5l1.0 3.4M2510.0 896.7l3.6 0.1M2513.8 915.1l5.1 0.7M2485.3 934.2l2.2 1.6M2459.7 955.8l4.4 1.7M2469.4 932.7l-4.9 1.9M2484.1 904.4l3.4 3.9M2485.8 934.8l-1.7 1.1M2495.3 895.1l-1.3 4.2M2569.5 912.8l4.1 0.3M2460.7 923.7l3.4 3.2M2493.4 896.8l-2.9 1.4M2528.7 901.1l3.0 3.6M2505.6 957.9l4.2 3.2M2537.7 974.5l-2.0 0.8M2520.1 887.1l-1.8 3.9M2468.7 948.2l2.0 3.7M2558.4 917.4l3.4 0.9M2498.3 965.1l-0.6 2.0M2512.6 918.4l0.9 5.1M2564.6 951.9l2.3 2.0M2494.8 928.3l6.0 0.2M2480.8 869.0l3.3 1.4M2480.7 933.1l-2.5 5.0M2548.3 953.9l-1.1 2.9M2484.1 897.7l3.0 4.8M2464.3 932.8l-3.5 0.9M2573.6 926.4l-0.1 3.7M2555.2 932.0l-3.7 3.6M2474.2 887.7l-5.4 1.3M2456.2 933.5l-0.2 2.3M2531.6 967.4l2.9 0.7M2506.7 973.9l3.8 0.9M2551.4 876.9l3.1 0.2M2533.7 936.1l1.4 5.0M2473.7 970.1l2.5 5.2M2483.9 912.3l-1.6 2.1M2539.0 926.7l2.0 1.9M2471.7 966.2l4.3 2.5M2505.7 892.9l-0.6 2.7M2548.3 933.3l1.3 4.2M2564.0 940.8l-2.0 5.1M2533.2 891.4l1.1 3.1M2516.9 942.3l-2.3 0.8M2473.9 911.9l-3.1 4.3M2525.3 895.8l2.0 5.2M2523.2 904.1l-2.3 5.3" stroke="#8a8a8a" stroke-width="2.2" stroke-linecap="round" opacity="0.55" fill="none"/>
<path d="M2573 893 q6 -8 12 -9 q5 2 2 7 q-6 6 -14 6z" fill="#d0d0d0"/></g>
<text x="2593" y="926" font-family="Liberation Serif, serif" font-size="11.5" font-style="italic" font-weight="bold" fill="#fff" text-anchor="middle">2 μm</text><line x1="2579" y1="929.8" x2="2607" y2="929.8" stroke="#fff" stroke-width="1"/>
<g transform="translate(2634.5 939.6) rotate(17.8)"><polygon points="0,-2.5 36,-5 36,-12 64,0 36,12 36,5 0,2.5" fill="url(#oarr)"/></g>
<ellipse cx="2773" cy="1038.6" rx="56" ry="8" fill="#8a8a8a" opacity="0.8" filter="url(#blur3)"/>
<circle cx="2761.4" cy="975.3" r="58.2" fill="#fff" stroke="#9a9a9a" stroke-width="1"/>
<path d="M2750.1 992.2l0.5 -4.8M2750.1 992.2l-6.1 -1.8M2750.1 992.2l-4.7 -3.1M2735.3 998.7l4.3 -5.5M2735.3 998.7l-0.2 4.2M2735.3 998.7l-3.4 -2.9M2727.6 997.2l5.3 -1.0M2727.6 997.2l-6.3 -1.4M2727.6 997.2l3.0 -3.2M2774.9 944.0l-4.3 1.3M2774.9 944.0l-4.3 1.1M2774.9 944.0l3.6 -3.5M2763.3 971.4l-5.1 4.3M2763.3 971.4l2.2 -4.5M2763.3 971.4l-6.0 0.0M2800.5 967.5l1.7 4.1M2800.5 967.5l2.8 -3.5M2800.5 967.5l-1.6 -6.0M2732.3 961.1l-4.2 -2.7M2732.3 961.1l4.0 -5.0M2732.3 961.1l6.0 2.9M2747.6 1016.0l-3.2 -3.7M2747.6 1016.0l2.1 3.7M2747.6 1016.0l2.5 -6.1M2733.4 951.1l-2.6 3.7M2733.4 951.1l4.7 2.3M2733.4 951.1l-1.2 4.0M2767.8 980.2l-1.9 6.2M2767.8 980.2l4.8 2.1M2767.8 980.2l-4.5 -0.4M2746.7 949.9l4.1 1.0M2746.7 949.9l4.3 5.4M2746.7 949.9l4.0 -4.7M2793.9 989.3l4.0 -2.9M2793.9 989.3l0.0 6.6M2793.9 989.3l-5.3 -4.2M2734.1 1002.1l-3.3 4.1M2734.1 1002.1l-1.3 -6.5M2734.1 1002.1l2.4 4.1M2781.1 949.1l5.7 0.5M2781.1 949.1l5.1 -2.6M2781.1 949.1l3.6 4.9M2773.0 951.3l-2.5 -3.5M2773.0 951.3l5.1 -3.1M2773.0 951.3l-5.0 0.3M2717.8 961.6l2.9 4.6M2717.8 961.6l-3.1 3.5M2717.8 961.6l-3.6 -4.8M2744.8 966.9l6.6 -2.0M2744.8 966.9l-6.0 1.3M2744.8 966.9l-3.7 3.7M2773.5 1005.6l-6.3 -2.8M2773.5 1005.6l5.2 1.4M2773.5 1005.6l-3.3 5.5M2742.2 947.5l5.2 -1.7M2742.2 947.5l5.1 2.8M2742.2 947.5l-5.2 -3.2M2771.4 980.0l0.9 -5.3M2771.4 980.0l-6.0 -1.9M2771.4 980.0l4.7 0.8M2776.1 940.2l-2.6 -6.4M2776.1 940.2l4.5 -1.7M2776.1 940.2l4.8 -0.8M2769.3 993.2l-4.3 1.3M2769.3 993.2l-4.1 -3.1M2769.3 993.2l-2.7 -6.3M2722.8 967.1l4.1 4.3M2722.8 967.1l-3.9 -2.9M2722.8 967.1l6.7 1.5M2797.7 989.1l-2.0 -5.5M2797.7 989.1l5.4 4.0M2797.7 989.1l-4.3 3.2M2755.8 1002.4l-5.0 -1.8M2755.8 1002.4l5.2 -1.6M2755.8 1002.4l-2.8 -5.7M2754.9 1001.4l4.1 -1.8M2754.9 1001.4l-3.7 5.8M2754.9 1001.4l-4.0 -3.2M2765.7 942.4l3.2 -3.0M2765.7 942.4l-0.1 4.2M2765.7 942.4l-2.6 -4.8M2725.0 949.1l-1.8 5.0M2725.0 949.1l-0.1 6.1M2725.0 949.1l0.3 -5.1M2744.8 994.8l2.8 -3.0M2744.8 994.8l-4.1 -1.8M2744.8 994.8l4.2 3.8M2792.6 973.9l3.6 2.2M2792.6 973.9l3.4 3.8M2792.6 973.9l2.4 -4.3M2759.8 1001.4l4.5 4.4M2759.8 1001.4l2.9 -6.4M2759.8 1001.4l4.3 1.4M2739.6 964.8l-6.4 2.8M2739.6 964.8l-6.4 -1.6M2739.6 964.8l0.9 5.3M2770.4 988.0l-1.8 -4.3M2770.4 988.0l-6.4 -0.9M2770.4 988.0l2.4 -5.6M2726.7 995.8l3.3 -6.1M2726.7 995.8l-3.8 -2.9M2726.7 995.8l0.7 4.1M2784.6 954.4l5.0 -2.8M2784.6 954.4l-5.3 -4.0M2784.6 954.4l-1.9 -4.8M2748.5 956.9l-3.6 -2.2M2748.5 956.9l-0.1 5.0M2748.5 956.9l1.7 -5.8M2718.6 986.0l-4.1 -3.1M2718.6 986.0l-3.1 4.1M2718.6 986.0l4.8 1.6M2733.0 949.0l5.4 -3.5M2733.0 949.0l0.0 5.5M2733.0 949.0l-0.2 -4.6M2789.5 958.3l-3.6 4.5M2789.5 958.3l2.6 6.2M2789.5 958.3l6.6 0.8M2730.9 972.0l-2.5 -4.5M2730.9 972.0l-1.6 6.4M2730.9 972.0l-1.1 -4.5M2777.9 978.1l-1.8 3.9M2777.9 978.1l-3.6 -3.8M2777.9 978.1l-2.5 5.6M2793.1 967.3l-0.1 4.4M2793.1 967.3l1.9 -6.4M2793.1 967.3l2.0 -5.3M2762.2 995.1l-1.3 -6.4M2762.2 995.1l4.8 1.2M2762.2 995.1l-3.8 4.9M2756.5 995.1l-3.2 5.4M2756.5 995.1l-0.3 6.8M2756.5 995.1l-5.3 2.3M2757.0 943.8l-4.5 -4.7M2757.0 943.8l-4.3 -1.8M2757.0 943.8l-5.3 2.1M2725.4 1000.9l5.8 2.9M2725.4 1000.9l-2.4 6.3M2725.4 1000.9l-4.8 4.9M2777.5 983.0l-0.9 -5.1M2777.5 983.0l-1.2 -3.8M2777.5 983.0l5.0 2.9M2729.3 1007.1l-1.8 4.9M2729.3 1007.1l-1.5 -5.2M2729.3 1007.1l-4.7 -4.0M2724.9 969.4l2.2 -3.7M2724.9 969.4l3.0 -5.5M2724.9 969.4l0.6 4.2M2726.9 965.5l1.5 4.0M2726.9 965.5l-6.3 -3.0M2726.9 965.5l-4.8 0.4M2742.3 969.4l3.3 6.1M2742.3 969.4l-4.5 -1.4M2742.3 969.4l4.5 -2.8M2779.4 979.7l5.5 -0.5M2779.4 979.7l-0.1 4.6M2779.4 979.7l6.4 0.7M2736.3 1000.5l-2.9 5.5M2736.3 1000.5l2.8 -4.4M2736.3 1000.5l-6.2 -0.4M2781.6 1004.8l-3.2 -4.0M2781.6 1004.8l1.5 4.6M2781.6 1004.8l5.9 0.8M2717.0 986.1l-4.0 -4.9M2717.0 986.1l-5.8 2.3M2717.0 986.1l-6.1 -2.4M2796.4 954.8l-5.7 -1.9M2796.4 954.8l-3.7 -2.7M2796.4 954.8l5.7 3.0M2732.6 1003.6l-2.0 -5.2M2732.6 1003.6l3.9 -2.3M2732.6 1003.6l-0.6 -5.5M2747.5 967.3l3.5 2.7M2747.5 967.3l4.5 0.7M2747.5 967.3l0.9 -5.4M2789.2 965.8l5.2 1.6M2789.2 965.8l6.3 -1.1M2789.2 965.8l-1.7 5.2M2732.3 950.9l-3.1 3.5M2732.3 950.9l-2.2 -3.4M2732.3 950.9l-6.7 1.1M2745.8 993.4l0.2 -6.0M2745.8 993.4l3.4 -6.0M2745.8 993.4l-0.9 6.8M2747.9 999.9l4.3 -3.4M2747.9 999.9l3.7 4.2M2747.9 999.9l-7.0 0.1M2771.5 974.2l0.2 6.2M2771.5 974.2l0.3 -5.8M2771.5 974.2l-1.4 6.6M2760.0 1014.3l-0.2 6.6M2760.0 1014.3l4.3 -3.6M2760.0 1014.3l4.6 1.5M2739.5 948.0l4.2 1.8M2739.5 948.0l-3.5 4.5M2739.5 948.0l1.4 -3.9M2717.1 974.5l-0.2 -4.3M2717.1 974.5l-0.9 -3.9M2717.1 974.5l-4.2 5.3M2741.3 973.7l2.9 -2.9M2741.3 973.7l-5.1 4.4M2741.3 973.7l2.4 4.8M2748.9 998.7l-0.3 4.9M2748.9 998.7l-4.4 0.3M2748.9 998.7l3.9 5.7M2741.6 1012.3l0.5 -5.8M2741.6 1012.3l2.9 3.3M2741.6 1012.3l-4.2 -4.0M2767.3 967.5l6.9 0.4M2767.3 967.5l-3.4 3.4M2767.3 967.5l-4.4 -5.1M2785.5 952.5l-3.2 4.5M2785.5 952.5l5.1 1.6M2785.5 952.5l5.5 -4.1M2769.7 1006.5l-3.9 5.3M2769.7 1006.5l4.9 -0.2M2769.7 1006.5l3.0 -3.8M2763.8 960.1l6.5 -1.5M2763.8 960.1l5.1 -1.0M2763.8 960.1l-2.4 -5.6M2722.8 982.5l-3.6 -2.1M2722.8 982.5l-3.2 -5.5M2722.8 982.5l-4.2 -5.2M2731.3 964.8l5.8 -1.3M2731.3 964.8l-3.4 4.3M2731.3 964.8l1.9 4.2M2763.9 1014.8l5.3 -0.7M2763.9 1014.8l-6.5 1.4M2763.9 1014.8l1.2 -4.0M2776.0 977.7l-4.8 2.9M2776.0 977.7l0.5 6.3M2776.0 977.7l-4.8 -4.5M2793.0 959.2l3.0 3.4M2793.0 959.2l-1.9 5.2M2793.0 959.2l-0.2 5.5M2749.7 991.6l-2.4 3.4M2749.7 991.6l2.6 -5.0M2749.7 991.6l4.5 -3.3M2765.0 951.5l3.7 -4.5M2765.0 951.5l-6.8 0.2M2765.0 951.5l-4.5 5.3M2751.8 1004.5l-5.8 -3.6M2751.8 1004.5l4.7 3.1M2751.8 1004.5l-2.6 5.9M2736.3 994.1l5.6 -3.5M2736.3 994.1l-3.2 2.7M2736.3 994.1l4.6 -0.7M2776.9 960.5l2.7 -5.1M2776.9 960.5l-0.7 -6.1M2776.9 960.5l0.4 5.1M2759.2 1019.8l-4.6 4.1M2759.2 1019.8l-3.0 -6.3M2759.2 1019.8l-4.9 -1.2M2742.8 935.9l3.9 3.6M2742.8 935.9l-5.0 -3.4M2742.8 935.9l4.5 0.8M2751.6 979.4l-4.2 -4.8M2751.6 979.4l4.1 -1.6M2751.6 979.4l-0.7 -5.3M2754.5 944.4l-5.1 -3.3M2754.5 944.4l-4.8 3.2M2754.5 944.4l4.0 -0.9M2754.5 974.2l-6.6 -2.2M2754.5 974.2l3.4 -3.3M2754.5 974.2l1.4 -6.6M2758.0 992.3l-4.8 3.0M2758.0 992.3l-1.9 6.7M2758.0 992.3l2.4 5.6M2780.9 961.8l6.9 -0.4M2780.9 961.8l3.2 -4.3M2780.9 961.8l6.1 -2.5M2766.4 1012.1l-4.5 2.5M2766.4 1012.1l-2.4 4.4M2766.4 1012.1l-4.7 -2.3M2743.6 966.2l3.9 -1.0M2743.6 966.2l-4.2 -3.2M2743.6 966.2l7.0 -0.1M2752.5 1015.1l-1.4 -6.0M2752.5 1015.1l-4.4 4.2M2752.5 1015.1l0.3 6.4M2776.9 1005.8l-4.2 -2.1M2776.9 1005.8l1.3 5.0M2776.9 1005.8l-3.4 4.9M2755.5 967.3l-4.0 0.9M2755.5 967.3l-2.5 4.8M2755.5 967.3l6.8 -0.4M2789.1 996.7l-5.1 -4.6M2789.1 996.7l2.7 3.8M2789.1 996.7l2.8 3.9M2797.8 997.0l-1.1 5.5M2797.8 997.0l3.8 -3.3M2797.8 997.0l-2.4 4.9M2797.7 969.7l5.2 -1.8M2797.7 969.7l4.9 -0.6M2797.7 969.7l-5.6 -1.9M2765.2 1001.1l-1.2 -6.4M2765.2 1001.1l3.4 3.1M2765.2 1001.1l5.0 3.9M2755.7 944.1l-5.5 0.2M2755.7 944.1l6.2 1.4M2755.7 944.1l4.0 -0.7M2767.9 1008.7l5.4 -0.4M2767.9 1008.7l3.0 2.8M2767.9 1008.7l-1.9 -6.1M2749.1 952.1l-5.6 3.5M2749.1 952.1l6.6 0.1M2749.1 952.1l2.5 3.8M2745.4 1016.4l-2.6 4.3M2745.4 1016.4l4.4 -3.3M2745.4 1016.4l-5.8 2.8M2752.7 959.6l-4.5 2.1M2752.7 959.6l-3.3 4.7M2752.7 959.6l5.7 -3.6M2739.1 970.8l5.0 0.7M2739.1 970.8l-1.8 -5.2M2739.1 970.8l-0.6 -6.8M2775.6 962.1l5.8 1.7M2775.6 962.1l0.4 5.9M2775.6 962.1l1.6 4.1M2731.1 951.9l3.4 -4.9M2731.1 951.9l-3.4 -4.1M2731.1 951.9l-0.1 4.2M2737.9 1011.7l6.1 -2.0M2737.9 1011.7l0.1 -4.2M2737.9 1011.7l5.4 0.4M2729.6 998.4l4.7 3.5M2729.6 998.4l-2.2 5.9M2729.6 998.4l2.8 4.7M2724.0 1001.2l-4.0 2.5M2724.0 1001.2l-2.2 4.0M2724.0 1001.2l-1.7 5.0M2738.5 1000.6l-4.7 3.8M2738.5 1000.6l4.0 -3.8M2738.5 1000.6l1.7 5.3M2753.8 938.9l3.8 5.3M2753.8 938.9l4.8 0.5M2753.8 938.9l5.2 -2.5M2763.9 974.8l-2.2 3.4M2763.9 974.8l2.8 5.9M2763.9 974.8l5.4 2.8M2746.4 992.8l3.3 5.4M2746.4 992.8l3.3 2.9M2746.4 992.8l2.3 6.5M2758.4 937.5l5.4 0.6M2758.4 937.5l5.1 -3.3M2758.4 937.5l6.0 0.6M2769.3 959.6l-1.7 4.3M2769.3 959.6l2.9 3.2M2769.3 959.6l-5.8 -2.4M2791.9 980.3l4.8 -3.5M2791.9 980.3l-6.2 2.6M2791.9 980.3l3.3 5.9M2785.2 942.6l5.6 -0.6M2785.2 942.6l-0.2 -5.8M2785.2 942.6l-1.9 -5.7M2779.1 985.7l-2.2 -5.6M2779.1 985.7l-4.5 0.5M2779.1 985.7l-2.5 4.3M2764.7 984.1l-1.7 -4.1M2764.7 984.1l-1.9 -5.1M2764.7 984.1l4.7 -2.5" stroke="#d83020" stroke-width="1" fill="none"/>
<path d="M2750.7 987.4h0M2744.0 990.4h0M2745.5 989.0h0M2739.6 993.2h0M2735.1 1002.9h0M2732.0 995.8h0M2732.9 996.1h0M2721.3 995.8h0M2730.6 993.9h0M2770.6 945.3h0M2770.7 945.1h0M2778.5 940.5h0M2758.1 975.7h0M2765.5 966.9h0M2757.3 971.4h0M2802.1 971.5h0M2803.3 964.0h0M2798.8 961.5h0M2728.0 958.3h0M2736.2 956.1h0M2738.3 964.0h0M2744.4 1012.4h0M2749.7 1019.8h0M2750.0 1010.0h0M2730.7 954.8h0M2738.0 953.4h0M2732.1 955.1h0M2765.9 986.3h0M2772.6 982.2h0M2763.3 979.8h0M2750.8 950.9h0M2751.0 955.4h0M2750.7 945.3h0M2797.9 986.4h0M2793.9 995.9h0M2788.6 985.1h0M2730.8 1006.2h0M2732.8 995.6h0M2736.5 1006.2h0M2786.8 949.5h0M2786.2 946.4h0M2784.8 953.9h0M2770.4 947.8h0M2778.1 948.2h0M2767.9 951.6h0M2720.7 966.1h0M2714.7 965.1h0M2714.2 956.8h0M2751.4 964.9h0M2738.8 968.2h0M2741.0 970.6h0M2767.2 1002.7h0M2778.7 1007.0h0M2770.2 1011.1h0M2747.3 945.9h0M2747.3 950.3h0M2737.0 944.4h0M2772.3 974.7h0M2765.4 978.1h0M2776.0 980.8h0M2773.4 933.8h0M2780.6 938.5h0M2780.8 939.4h0M2765.0 994.5h0M2765.2 990.1h0M2766.6 986.9h0M2726.9 971.4h0M2718.9 964.3h0M2729.5 968.6h0M2795.7 983.6h0M2803.1 993.2h0M2793.4 992.3h0M2750.8 1000.6h0M2761.0 1000.9h0M2753.1 996.8h0M2759.0 999.6h0M2751.3 1007.2h0M2750.9 998.3h0M2768.9 939.4h0M2765.6 946.6h0M2763.1 937.6h0M2723.2 954.1h0M2724.9 955.2h0M2725.3 943.9h0M2747.6 991.7h0M2740.8 993.0h0M2749.0 998.6h0M2796.2 976.1h0M2796.0 977.7h0M2794.9 969.6h0M2764.4 1005.8h0M2762.7 995.0h0M2764.1 1002.7h0M2733.2 967.6h0M2733.1 963.1h0M2740.4 970.1h0M2768.6 983.7h0M2764.0 987.1h0M2772.8 982.4h0M2730.0 989.7h0M2722.9 992.9h0M2727.4 999.9h0M2789.6 951.6h0M2779.3 950.4h0M2782.7 949.6h0M2744.9 954.7h0M2748.4 961.9h0M2750.2 951.1h0M2714.5 982.9h0M2715.5 990.2h0M2723.4 987.6h0M2738.4 945.5h0M2733.0 954.5h0M2732.8 944.4h0M2785.9 962.8h0M2792.1 964.5h0M2796.1 959.1h0M2728.4 967.5h0M2729.3 978.4h0M2729.8 967.5h0M2776.2 982.0h0M2774.3 974.3h0M2775.4 983.7h0M2793.0 971.7h0M2795.0 960.9h0M2795.1 962.0h0M2760.9 988.7h0M2767.0 996.3h0M2758.4 1000.0h0M2753.2 1000.5h0M2756.1 1001.9h0M2751.2 997.4h0M2752.5 939.1h0M2752.7 942.0h0M2751.7 945.8h0M2731.2 1003.8h0M2723.0 1007.2h0M2720.6 1005.9h0M2776.6 977.9h0M2776.3 979.2h0M2782.4 985.9h0M2727.4 1012.0h0M2727.8 1001.9h0M2724.5 1003.0h0M2727.1 965.7h0M2727.9 963.9h0M2725.5 973.6h0M2728.4 969.5h0M2720.6 962.5h0M2722.1 965.9h0M2745.6 975.5h0M2737.7 968.1h0M2746.7 966.7h0M2784.9 979.1h0M2779.3 984.2h0M2785.8 980.3h0M2733.4 1006.0h0M2739.2 996.2h0M2730.2 1000.1h0M2778.4 1000.8h0M2783.2 1009.4h0M2787.5 1005.6h0M2713.0 981.2h0M2711.3 988.4h0M2710.9 983.7h0M2790.7 952.9h0M2792.6 952.1h0M2802.1 957.8h0M2730.6 998.4h0M2736.5 1001.3h0M2732.0 998.1h0M2750.9 970.0h0M2752.0 968.1h0M2748.4 962.0h0M2794.5 967.4h0M2795.5 964.7h0M2787.5 971.0h0M2729.1 954.3h0M2730.0 947.5h0M2725.6 952.0h0M2746.0 987.4h0M2749.2 987.4h0M2744.9 1000.2h0M2752.2 996.5h0M2751.6 1004.1h0M2740.9 1000.0h0M2771.7 980.4h0M2771.8 968.4h0M2770.1 980.8h0M2759.8 1020.9h0M2764.3 1010.7h0M2764.5 1015.9h0M2743.7 949.8h0M2736.0 952.5h0M2740.9 944.1h0M2717.0 970.1h0M2716.2 970.5h0M2712.9 979.8h0M2744.3 970.7h0M2736.2 978.1h0M2743.7 978.5h0M2748.6 1003.5h0M2744.5 999.0h0M2752.9 1004.4h0M2742.1 1006.5h0M2744.5 1015.6h0M2737.4 1008.3h0M2774.2 967.9h0M2763.9 970.9h0M2762.9 962.4h0M2782.3 957.0h0M2790.6 954.2h0M2791.0 948.4h0M2765.8 1011.8h0M2774.6 1006.3h0M2772.7 1002.7h0M2770.3 958.7h0M2768.9 959.2h0M2761.4 954.5h0M2719.2 980.5h0M2719.6 977.0h0M2718.6 977.3h0M2737.0 963.5h0M2727.8 969.2h0M2733.2 969.1h0M2769.2 1014.1h0M2757.4 1016.2h0M2765.1 1010.9h0M2771.2 980.6h0M2776.5 984.0h0M2771.2 973.2h0M2796.0 962.6h0M2791.1 964.4h0M2792.8 964.7h0M2747.3 995.0h0M2752.3 986.6h0M2754.2 988.3h0M2768.7 947.0h0M2758.2 951.7h0M2760.5 956.8h0M2746.0 1000.9h0M2756.5 1007.6h0M2749.2 1010.4h0M2741.9 990.6h0M2733.1 996.8h0M2740.9 993.4h0M2779.6 955.4h0M2776.2 954.4h0M2777.4 965.6h0M2754.7 1023.9h0M2756.3 1013.5h0M2754.3 1018.7h0M2746.6 939.6h0M2737.8 932.5h0M2747.3 936.7h0M2747.5 974.6h0M2755.7 977.8h0M2750.9 974.1h0M2749.4 941.2h0M2749.7 947.7h0M2758.5 943.6h0M2747.8 972.0h0M2757.9 970.9h0M2755.8 967.6h0M2753.2 995.4h0M2756.0 999.1h0M2760.4 997.9h0M2787.8 961.4h0M2784.1 957.6h0M2787.0 959.3h0M2761.9 1014.5h0M2764.0 1016.4h0M2761.6 1009.8h0M2747.5 965.2h0M2739.5 963.0h0M2750.6 966.2h0M2751.1 1009.1h0M2748.0 1019.3h0M2752.7 1021.6h0M2772.8 1003.7h0M2778.2 1010.8h0M2773.6 1010.8h0M2751.5 968.3h0M2753.0 972.1h0M2762.3 966.9h0M2784.0 992.1h0M2791.8 1000.5h0M2791.9 1000.6h0M2796.7 1002.5h0M2801.6 993.7h0M2795.4 1001.8h0M2803.0 967.9h0M2802.6 969.1h0M2792.1 967.8h0M2763.9 994.7h0M2768.5 1004.2h0M2770.1 1005.0h0M2750.3 944.3h0M2762.0 945.5h0M2759.7 943.3h0M2773.3 1008.3h0M2770.9 1011.4h0M2765.9 1002.6h0M2743.5 955.7h0M2755.7 952.2h0M2751.5 955.9h0M2742.8 1020.7h0M2749.8 1013.2h0M2739.6 1019.2h0M2748.3 961.6h0M2749.5 964.3h0M2758.5 955.9h0M2744.1 971.5h0M2737.3 965.6h0M2738.5 964.0h0M2781.5 963.9h0M2776.0 968.1h0M2777.2 966.3h0M2734.6 947.0h0M2727.7 947.8h0M2731.0 956.1h0M2744.0 1009.7h0M2738.0 1007.5h0M2743.3 1012.2h0M2734.3 1001.8h0M2727.3 1004.3h0M2732.4 1003.1h0M2720.0 1003.6h0M2721.7 1005.2h0M2722.2 1006.2h0M2733.8 1004.4h0M2742.5 996.8h0M2740.2 1005.9h0M2757.6 944.2h0M2758.6 939.3h0M2758.9 936.3h0M2761.6 978.2h0M2766.7 980.6h0M2769.2 977.6h0M2749.7 998.2h0M2749.7 995.7h0M2748.7 999.3h0M2763.8 938.1h0M2763.4 934.2h0M2764.3 938.0h0M2767.6 963.9h0M2772.2 962.8h0M2763.5 957.2h0M2796.7 976.8h0M2785.7 982.9h0M2795.2 986.2h0M2790.8 941.9h0M2785.0 936.7h0M2783.2 936.9h0M2776.8 980.1h0M2774.5 986.2h0M2776.6 990.0h0M2763.0 980.0h0M2762.8 979.0h0M2769.4 981.6h0" stroke="#e02818" stroke-width="2.6" stroke-linecap="round" fill="none"/>
<path d="M2750.1 992.2h0M2727.6 997.2h0M2800.5 967.5h0M2747.6 1016.0h0M2746.7 949.9h0M2734.1 1002.1h0M2717.8 961.6h0M2773.5 1005.6h0M2776.1 940.2h0M2722.8 967.1h0M2754.9 1001.4h0M2725.0 949.1h0M2759.8 1001.4h0M2770.4 988.0h0M2748.5 956.9h0M2733.0 949.0h0M2777.9 978.1h0M2762.2 995.1h0M2725.4 1000.9h0M2729.3 1007.1h0M2742.3 969.4h0M2736.3 1000.5h0M2796.4 954.8h0M2747.5 967.3h0M2745.8 993.4h0M2771.5 974.2h0M2717.1 974.5h0M2748.9 998.7h0M2785.5 952.5h0M2763.8 960.1h0M2763.9 1014.8h0M2793.0 959.2h0M2751.8 1004.5h0M2776.9 960.5h0M2751.6 979.4h0M2754.5 974.2h0M2766.4 1012.1h0M2752.5 1015.1h0M2789.1 996.7h0M2797.7 969.7h0M2767.9 1008.7h0M2745.4 1016.4h0M2775.6 962.1h0M2737.9 1011.7h0M2738.5 1000.6h0M2763.9 974.8h0M2769.3 959.6h0M2785.2 942.6h0" stroke="#a020a0" stroke-width="6.4" stroke-linecap="round" fill="none"/>
<path d="M2735.3 998.7h0M2763.3 971.4h0M2732.3 961.1h0M2767.8 980.2h0M2793.9 989.3h0M2773.0 951.3h0M2744.8 966.9h0M2771.4 980.0h0M2769.3 993.2h0M2755.8 1002.4h0M2765.7 942.4h0M2792.6 973.9h0M2739.6 964.8h0M2784.6 954.4h0M2718.6 986.0h0M2730.9 972.0h0M2793.1 967.3h0M2757.0 943.8h0M2777.5 983.0h0M2726.9 965.5h0M2779.4 979.7h0M2717.0 986.1h0M2732.6 1003.6h0M2732.3 950.9h0M2747.9 999.9h0M2739.5 948.0h0M2741.3 973.7h0M2767.3 967.5h0M2769.7 1006.5h0M2731.3 964.8h0M2776.0 977.7h0M2765.0 951.5h0M2736.3 994.1h0M2742.8 935.9h0M2754.5 944.4h0M2780.9 961.8h0M2743.6 966.2h0M2755.5 967.3h0M2797.8 997.0h0M2755.7 944.1h0M2749.1 952.1h0M2739.1 970.8h0M2731.1 951.9h0M2724.0 1001.2h0M2753.8 938.9h0M2758.4 937.5h0M2791.9 980.3h0M2764.7 984.1h0" stroke="#d83020" stroke-width="4.0" stroke-linecap="round" fill="none"/>
<path d="M2774.9 944.0h0M2733.4 951.1h0M2781.1 949.1h0M2742.2 947.5h0M2797.7 989.1h0M2744.8 994.8h0M2726.7 995.8h0M2789.5 958.3h0M2756.5 995.1h0M2724.9 969.4h0M2781.6 1004.8h0M2789.2 965.8h0M2760.0 1014.3h0M2741.6 1012.3h0M2722.8 982.5h0M2749.7 991.6h0M2759.2 1019.8h0M2758.0 992.3h0M2776.9 1005.8h0M2765.2 1001.1h0M2752.7 959.6h0M2729.6 998.4h0M2746.4 992.8h0M2779.1 985.7h0" stroke="#8ad060" stroke-width="6.4" stroke-linecap="round" fill="none"/>
</svg>
<div class="t l" style="left:81.80px;top:56.99px;font-size:85.46px;line-height:102.00px;height:102.00px;color:#4c4c4c;">SimXRD-4M: Big Simulated X-ray Diffraction Data and</div>
<div class="t l" style="left:81.80px;top:158.19px;font-size:85.46px;line-height:102.00px;height:102.00px;color:#4c4c4c;">Crystal Symmetry Classification Benchmark</div>
<div class="t l s" style="left:82.8px;top:262.91px;font-size:53.2px;line-height:60px;color:#4c4c4c">Bin Cao, Yang Liu,&nbsp; Zinan Zheng, Ruifeng Tan, Jia Li*, Tong-yi Zhang*</div>
<div class="t l" style="left:98.90px;top:424.70px;font-size:53.35px;line-height:64.02px;height:64.02px;color:#4c4c4c;"><b>Motivation</b></div>
<div class="t j" style="left:99.30px;top:502.00px;font-size:34.78px;line-height:41.50px;height:41.50px;color:#4c4c4c;width:834.50px;"><span class="bu">•</span>The AI Lab will pioneer new methods for material</div>
<div class="t j" style="left:99.30px;top:543.45px;font-size:34.78px;line-height:41.50px;height:41.50px;color:#4c4c4c;width:834.50px;"><span style="letter-spacing:0.95px">synthesis. Intelligent analysis and corresponding</span></div>
<div class="t l" style="left:99.30px;top:584.90px;font-size:34.78px;line-height:41.50px;height:41.50px;color:#4c4c4c;">software systems must undergo a new revolution.</div>
<div class="t j" style="left:99.30px;top:626.35px;font-size:34.78px;line-height:41.50px;height:41.50px;color:#4c4c4c;width:834.50px;"><span class="bu">•</span><span style="letter-spacing:2.5px">Powder XRD is crucial for detecting crystal</span></div>
<div class="t l" style="left:99.30px;top:667.80px;font-size:34.78px;line-height:41.50px;height:41.50px;color:#4c4c4c;">structures.</div>
<div class="t j" style="left:99.30px;top:709.25px;font-size:34.78px;line-height:41.50px;height:41.50px;color:#4c4c4c;width:834.50px;"><span class="bu">•</span>The introduction of large-scale databases presents</div>
<div class="t j" style="left:99.30px;top:750.70px;font-size:34.78px;line-height:41.50px;height:41.50px;color:#4c4c4c;width:834.50px;">new challenges. <b>Sufficient coverage</b> of structures</div>
<div class="t j" style="left:99.30px;top:792.15px;font-size:34.78px;line-height:41.50px;height:41.50px;color:#4c4c4c;width:834.50px;">and <b>close alignment</b> with experimental patterns</div>
<div class="t j" style="left:99.30px;top:833.60px;font-size:34.78px;line-height:41.50px;height:41.50px;color:#4c4c4c;width:834.50px;">under different physical conditions is necessary for</div>
<div class="t l" style="left:99.30px;top:875.05px;font-size:34.78px;line-height:41.50px;height:41.50px;color:#4c4c4c;">developing models with high <b>generalization</b> ability.</div>
<div class="t l" style="left:100.90px;top:968.30px;font-size:53.35px;line-height:64.02px;height:64.02px;color:#4c4c4c;"><b>Contributions</b></div>
<div class="t j" style="left:101.00px;top:1046.60px;font-size:34.78px;line-height:41.50px;height:41.50px;color:#4c4c4c;width:834.80px;"><span class="bu">•</span>We introduce SimXRD, the <b>largest open-source</b></div>
<div class="t l" style="left:101.00px;top:1088.05px;font-size:34.78px;line-height:41.50px;height:41.50px;color:#4c4c4c;">XRD pattern dataset for symmetry identification</div>
<div class="t j" style="left:101.00px;top:1129.50px;font-size:34.78px;line-height:41.50px;height:41.50px;color:#4c4c4c;width:834.80px;"><span class="bu">•</span>We highlight the <b>long-tail distribution</b> of symmetry</div>
<div class="t j" style="left:101.00px;top:1170.95px;font-size:34.78px;line-height:41.50px;height:41.50px;color:#4c4c4c;width:834.80px;">types as an inherent characteristic of crystals and</div>
<div class="t l" style="left:101.00px;top:1212.40px;font-size:34.78px;line-height:41.50px;height:41.50px;color:#4c4c4c;">address it using class imbalance training.</div>
<div class="t j" style="left:101.00px;top:1253.85px;font-size:34.78px;line-height:41.50px;height:41.50px;color:#4c4c4c;width:834.80px;"><span class="bu">•</span>We evaluate 21 models on two critical structure</div>
<div class="t j" style="left:101.00px;top:1295.30px;font-size:34.78px;line-height:41.50px;height:41.50px;color:#4c4c4c;width:834.80px;">identification tasks—<b>in-library</b> and <b>out-of-library</b>—</div>
<div class="t l" style="left:101.00px;top:1336.75px;font-size:34.78px;line-height:41.50px;height:41.50px;color:#4c4c4c;">revealing key challenges and potential solutions.</div>
<div class="t j" style="left:92px;top:1887.55px;width:827px;font-size:31.9px;line-height:39.4px;font-style:italic;color:#4c4c4c">The workflow of the large simulated XRD database and</div>
<div class="t l" style="left:92px;top:1926.95px;font-size:31.9px;line-height:39.4px;font-style:italic;color:#4c4c4c">symmetry classification benchmark</div>
<div class="t l" style="left:1040.90px;top:424.70px;font-size:53.35px;line-height:64.02px;height:64.02px;color:#4c4c4c;"><b>Symmetry classification</b></div>
<div class="t j" style="left:1041.00px;top:502.00px;font-size:34.78px;line-height:41.50px;height:41.50px;color:#4c4c4c;width:836.00px;">Formally, SimXRD treats the problem as a multi-class</div>
<div class="t j" style="left:1041.00px;top:543.00px;font-size:34.78px;line-height:41.50px;height:41.50px;color:#4c4c4c;width:836.00px;">sequence classification task. Given the XRD pattern</div>
<div class="t l" style="left:1041.00px;top:584.00px;font-size:34.78px;line-height:41.50px;height:41.50px;color:#4c4c4c;"><span class="m" style="font-weight:bold">X</span><span class="m"> = [</span><span class="m" style="font-style:italic">x</span><span class="msub">1</span><span class="m">, </span><span class="m" style="font-style:italic">x</span><span class="msub">2</span><span class="m">, ⋯ , </span><span class="m" style="font-style:italic">x</span><span class="msub"><i>n</i></span><span class="m">] </span><span class="dj">∈ ℝ</span><span class="msup"><i>n</i></span> where <span class="m" style="font-style:italic">x</span><span class="msub"><i>i</i></span><span style="margin:0 3px 0 4px"> is the </span><span class="m" style="font-style:italic">i</span>-th intensity</div>
<div class="t j" style="left:1041.00px;top:639.60px;font-size:34.78px;line-height:41.50px;height:41.50px;color:#4c4c4c;width:836.00px;">value and <span class="m" style="font-weight:bold">X</span> is arranged by lattice plane distance, the</div>
<div class="t j" style="left:1041.00px;top:683.20px;font-size:34.78px;line-height:41.50px;height:41.50px;color:#4c4c4c;width:836.00px;">goal is to predict its symmetry <span class="ib"><span class="m" style="font-weight:bold">Y</span><span class="dj">&nbsp;∈&nbsp;ℝ</span><span class="msup" style="font-style:normal">k</span></span>. Here <span class="ib"><span class="m" style="font-style:italic">n</span><span class="m">&nbsp;&nbsp;=</span></span></div>
<div class="t j" style="left:1041.00px;top:725.30px;font-size:34.78px;line-height:41.50px;height:41.50px;color:#4c4c4c;width:836.00px;"><span class="m" style="letter-spacing:1px">3501</span> in our dataset. For crystal system classification,</div>
<div class="t l" style="left:1041.00px;top:767.40px;font-size:34.78px;line-height:41.50px;height:41.50px;color:#4c4c4c;"><span class="m" style="font-style:italic">k</span><span class="m"><span style="display:inline-block;transform:scaleX(1.22);margin:0 22px 0 23px">=</span>7</span>, and for space group classification, <span class="m" style="font-style:italic">k</span><span class="m"><span style="display:inline-block;transform:scaleX(1.22);margin:0 22px 0 23px">=</span><span style="letter-spacing:1px">230.</span></span></div>
<div class="t l" style="left:1041.00px;top:820.76px;font-size:31.95px;line-height:38.34px;height:38.34px;color:#00377a;"><b>In-library Task</b></div>
<div class="dot" style="left:1091.2px;top:885.5px"></div>
<div class="t j" style="left:1138.00px;top:873.30px;font-size:34.78px;line-height:41.50px;height:41.50px;color:#4c4c4c;width:739.80px;">In-library classification aims to generalize</div>
<div class="t j" style="left:1138.00px;top:915.00px;font-size:34.78px;line-height:41.50px;height:41.50px;color:#4c4c4c;width:739.80px;"><b>across different experimental environments</b></div>
<div class="t j" style="left:1138.00px;top:957.10px;font-size:34.78px;line-height:41.50px;height:41.50px;color:#4c4c4c;width:739.80px;">for the same set of structures. The training and</div>
<div class="t j" style="left:1138.00px;top:998.10px;font-size:34.78px;line-height:41.50px;height:41.50px;color:#4c4c4c;width:739.80px;">testing datasets consist same structures but</div>
<div class="t l" style="left:1138.00px;top:1039.80px;font-size:34.78px;line-height:41.50px;height:41.50px;color:#4c4c4c;">with varying simulation parameters.</div>
<div class="t l" style="left:1041.00px;top:1089.56px;font-size:31.95px;line-height:38.34px;height:38.34px;color:#00377a;"><b>Out-library Task</b></div>
<div class="dot" style="left:1091.2px;top:1155.7px"></div>
<div class="t j" style="left:1138.00px;top:1143.50px;font-size:34.78px;line-height:41.50px;height:41.50px;color:#4c4c4c;width:739.80px;">out-library classification seeks to <b>generalize to</b></div>
<div class="t j" style="left:1138.00px;top:1184.50px;font-size:34.78px;line-height:41.50px;height:41.50px;color:#4c4c4c;width:739.80px;"><b>different crystals</b>. The training and testing</div>
<div class="t l" style="left:1138.00px;top:1226.20px;font-size:34.78px;line-height:41.50px;height:41.50px;color:#4c4c4c;">datasets consist of different types of crystals.</div>
<div class="t l" style="left:1039.90px;top:1488.50px;font-size:53.35px;line-height:64.02px;height:64.02px;color:#4c4c4c;"><b>Baselines</b></div>
<div class="t j" style="left:1040.00px;top:1566.20px;font-size:34.78px;line-height:41.50px;height:41.50px;color:#4c4c4c;width:833.00px;">We consider three types of sequence classification</div>
<div class="t l" style="left:1040.00px;top:1608.00px;font-size:34.78px;line-height:41.50px;height:41.50px;color:#4c4c4c;">models:</div>
<div class="t l" style="left:1088.00px;top:1664.60px;font-size:34.78px;line-height:41.50px;height:41.50px;color:#0a5fc2;">A.</div>
<div class="t j" style="left:1142.70px;top:1664.60px;font-size:34.78px;line-height:41.50px;height:41.50px;color:#4c4c4c;width:730.00px;">CNN-based Models: We evaluate all existing</div>
<div class="t j" style="left:1142.70px;top:1706.80px;font-size:34.78px;line-height:41.50px;height:41.50px;color:#4c4c4c;width:730.00px;">CNN architectures proposed for symmetry</div>
<div class="t l" style="left:1142.70px;top:1747.80px;font-size:34.78px;line-height:41.50px;height:41.50px;color:#4c4c4c;">identification.</div>
<div class="t l" style="left:1088.00px;top:1806.80px;font-size:34.78px;line-height:41.50px;height:41.50px;color:#0a5fc2;">B.</div>
<div class="t j" style="left:1142.70px;top:1806.80px;font-size:34.78px;line-height:41.50px;height:41.50px;color:#4c4c4c;width:730.00px;">RNN, LSTM, GRU and their bidirectional</div>
<div class="t l" style="left:1142.70px;top:1848.20px;font-size:34.78px;line-height:41.50px;height:41.50px;color:#4c4c4c;">versions.</div>
<div class="t l" style="left:1088.00px;top:1905.80px;font-size:34.78px;line-height:41.50px;height:41.50px;color:#0a5fc2;">C.</div>
<div class="t l" style="left:1142.70px;top:1905.80px;font-size:34.78px;line-height:41.50px;height:41.50px;color:#4c4c4c;">Transformer, iTransformer and PatchTST.</div>
<div class="t l" style="left:2013.90px;top:424.70px;font-size:53.35px;line-height:64.02px;height:64.02px;color:#4c4c4c;"><b>Results</b></div>
<div class="t l" style="left:2015.00px;top:507.76px;font-size:31.95px;line-height:38.34px;height:38.34px;color:#00377a;"><b>1: High-fidelity Simulation</b></div>
<div class="t j" style="left:2015.00px;top:552.30px;font-size:34.78px;line-height:41.50px;height:41.50px;color:#4c4c4c;width:851.80px;">We systematically analyze the physical conditions</div>
<div class="t j" style="left:2015.00px;top:593.30px;font-size:34.78px;line-height:41.50px;height:41.50px;color:#4c4c4c;width:851.80px;">affecting XRD profiles, including factors influencing the</div>
<div class="t j" style="left:2015.00px;top:635.00px;font-size:34.78px;line-height:41.50px;height:41.50px;color:#4c4c4c;width:851.80px;">sample’s internal structure and those impacting</div>
<div class="t j" style="left:2015.00px;top:677.20px;font-size:34.78px;line-height:41.50px;height:41.50px;color:#4c4c4c;width:851.80px;">instrumental measurements. A total of 33 simulation</div>
<div class="t j" style="left:2015.00px;top:718.20px;font-size:34.78px;line-height:41.50px;height:41.50px;color:#4c4c4c;width:851.80px;">conditions are considered to <b>generate high-fidelity</b></div>
<div class="t l" style="left:2015.00px;top:759.80px;font-size:34.78px;line-height:41.50px;height:41.50px;color:#4c4c4c;"><b>powder XRD patterns.</b></div>
<div class="t l" style="left:2015.00px;top:1162.66px;font-size:31.95px;line-height:38.34px;height:38.34px;color:#00377a;"><b>2 : In-library classification</b></div>
<div class="t j" style="left:2015.00px;top:1207.30px;font-size:34.78px;line-height:41.50px;height:41.50px;color:#4c4c4c;width:851.80px;">Most <b>CNNs struggle</b> with symmetry identification in</div>
<div class="t j" style="left:2015.00px;top:1248.30px;font-size:34.78px;line-height:41.50px;height:41.50px;color:#4c4c4c;width:851.80px;">SimXRD due to class bias, while <b>CNNs without</b></div>
<div class="t j" style="left:2015.00px;top:1290.00px;font-size:34.78px;line-height:41.50px;height:41.50px;color:#4c4c4c;width:851.80px;"><b>pooling and bidirectional models perform better</b>.</div>
<div class="t j" style="left:2015.00px;top:1331.40px;font-size:34.78px;line-height:41.50px;height:41.50px;color:#4c4c4c;width:851.80px;">PatchTST outperforms raw transformers by improving</div>
<div class="t l" style="left:2015.00px;top:1373.10px;font-size:34.78px;line-height:41.50px;height:41.50px;color:#4c4c4c;">peak identification in long-tail sequences.</div>
<div class="t l" style="left:2024.50px;top:1826.46px;font-size:31.95px;line-height:38.34px;height:38.34px;color:#00377a;"><b>3 : Long-tailed objective functions</b></div>
<div class="t j" style="left:2024.50px;top:1872.70px;font-size:34.78px;line-height:41.50px;height:41.50px;color:#4c4c4c;width:829.80px;">Label smoothing and focal loss improve performance,</div>
<div class="t l" style="left:2024.50px;top:1920.30px;font-size:34.78px;line-height:41.50px;height:41.50px;color:#4c4c4c;">while weighted classification proves ineffective.</div>
<div class="t l" style="left:2990.30px;top:444.96px;font-size:31.95px;line-height:38.34px;height:38.34px;color:#00377a;"><b>4 : Out-library classification</b></div>
<div class="t j" style="left:2990.00px;top:489.20px;font-size:34.78px;line-height:41.50px;height:41.50px;color:#4c4c4c;width:820.60px;">Out-of-library classification is <b>more challenging</b> due</div>
<div class="t j" style="left:2990.00px;top:530.20px;font-size:34.78px;line-height:41.50px;height:41.50px;color:#4c4c4c;width:820.60px;">to the need for generalization across crystal types,</div>
<div class="t j" style="left:2990.00px;top:572.30px;font-size:34.78px;line-height:41.50px;height:41.50px;color:#4c4c4c;width:820.60px;">leading to a performance drop. <b>Bidirectional-GRU</b></div>
<div class="t l" style="left:2990.00px;top:613.30px;font-size:34.78px;line-height:41.50px;height:41.50px;color:#4c4c4c;"><b>and CNN11 perform best</b>.</div>
<div class="t l" style="left:2990.00px;top:1089.36px;font-size:31.95px;line-height:38.34px;height:38.34px;color:#00377a;"><b>5 : Experimental data generalization</b></div>
<div class="t j" style="left:2990.00px;top:1134.00px;font-size:34.78px;line-height:41.50px;height:41.50px;color:#4c4c4c;width:820.60px;">We train and validate all baseline models on</div>
<div class="t j" style="left:2990.00px;top:1175.80px;font-size:34.78px;line-height:41.50px;height:41.50px;color:#4c4c4c;width:820.60px;">SimXRD and then test their performance on RRUFF</div>
<div class="t j" style="left:2990.00px;top:1217.10px;font-size:34.78px;line-height:41.50px;height:41.50px;color:#4c4c4c;width:820.60px;">(wet experiments). The models generally achieve</div>
<div class="t j" style="left:2990.00px;top:1258.80px;font-size:34.78px;line-height:41.50px;height:41.50px;color:#4c4c4c;width:820.60px;"><b>consistent performance</b> on both SimXRD and</div>
<div class="t l" style="left:2990.00px;top:1299.80px;font-size:34.78px;line-height:41.50px;height:41.50px;color:#4c4c4c;">RRUFF.</div>
<div class="t l" style="left:2997.90px;top:1369.80px;font-size:53.35px;line-height:64.02px;height:64.02px;color:#4c4c4c;"><b>Conclusion</b></div>
<div class="t j" style="left:2997.60px;top:1447.80px;font-size:34.78px;line-height:41.50px;height:41.50px;color:#4c4c4c;width:839.40px;">We introduce SimXRD, the largest open-source XRD</div>
<div class="t j" style="left:2997.60px;top:1489.80px;font-size:34.78px;line-height:41.50px;height:41.50px;color:#4c4c4c;width:839.40px;">dataset for symmetry identification, revealing</div>
<div class="t j" style="left:2997.60px;top:1531.10px;font-size:34.78px;line-height:41.50px;height:41.50px;color:#4c4c4c;width:839.40px;">challenges in long-tailed classification. Our evaluation</div>
<div class="t j" style="left:2997.60px;top:1572.80px;font-size:34.78px;line-height:41.50px;height:41.50px;color:#4c4c4c;width:839.40px;">of 21 models highlights difficulties in predicting low-</div>
<div class="t j" style="left:2997.60px;top:1614.80px;font-size:34.78px;line-height:41.50px;height:41.50px;color:#4c4c4c;width:839.40px;">frequency classes, underscoring the need for</div>
<div class="t l" style="left:2997.60px;top:1655.20px;font-size:34.78px;line-height:41.50px;height:41.50px;color:#4c4c4c;">improved algorithms.</div>
<div class="t l" style="left:2997.90px;top:1719.30px;font-size:53.35px;line-height:64.02px;height:64.02px;color:#4c4c4c;"><b>Limitations</b></div>
<div class="t j" style="left:2997.60px;top:1796.80px;font-size:34.78px;line-height:41.50px;height:41.50px;color:#4c4c4c;width:839.40px;">SimXRD enhances previous datasets but remains</div>
<div class="t j" style="left:2997.60px;top:1838.80px;font-size:34.78px;line-height:41.50px;height:41.50px;color:#4c4c4c;width:839.40px;">limited by <b>inherent class imbalance</b>, requiring</div>
<div class="t j" style="left:2997.60px;top:1880.20px;font-size:34.78px;line-height:41.50px;height:41.50px;color:#4c4c4c;width:839.40px;">specialized algorithms or additional crystal information</div>
<div class="t l" style="left:2997.60px;top:1922.20px;font-size:34.78px;line-height:41.50px;height:41.50px;color:#4c4c4c;">to address this challenge.</div>
<div class="t l" style="left:252.10px;top:2056.90px;font-size:53.10px;line-height:64.00px;height:64.00px;color:#003874;">THE HONG KONG UNIVERSITY OF SCIENCE</div>
<div class="t l" style="left:263.80px;top:2120.80px;font-size:53.10px;line-height:64.00px;height:64.00px;color:#003874;">AND TECHNOLOGY (GUANGZHOU)</div>
<div class="t l" style="left:1769.40px;top:2056.40px;font-size:53.10px;line-height:64.00px;height:64.00px;color:#003874;">THE HONG KONG UNIVERSITY OF</div>
<div class="t l" style="left:1769.40px;top:2119.80px;font-size:53.10px;line-height:64.00px;height:64.00px;color:#003874;">SCIENCE AND TECHNOLOGY</div>
<div class="t l" style="left:3005.80px;top:2049.35px;font-size:31.90px;line-height:38.00px;height:38.00px;color:#4c4c4c;"><b>Paper : https://openreview.net/pdf?id=mkuB677eMM</b></div>
<div class="t l" style="left:3005.80px;top:2098.25px;font-size:31.90px;line-height:38.00px;height:38.00px;color:#4c4c4c;"><b>GitHub : https://github.com/Bin-Cao/SimXRD</b></div>
<div class="t l" style="left:3005.80px;top:2137.25px;font-size:31.90px;line-height:38.00px;height:38.00px;color:#4c4c4c;"><b>Mr. CAO Bin : bcao686@connect.hkust-gz.edu.cn</b></div>
</body></html>
